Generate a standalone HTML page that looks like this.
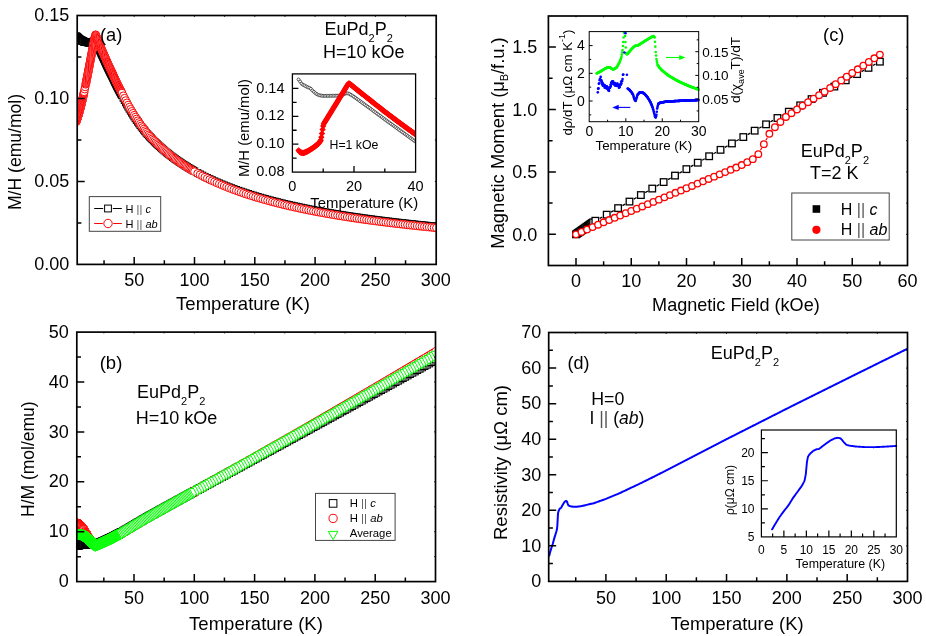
<!DOCTYPE html>
<html><head><meta charset="utf-8"><title>EuPd2P2</title>
<style>html,body{margin:0;padding:0;background:#fff}svg{display:block}text{font-family:"Liberation Sans",sans-serif}</style></head><body>
<svg width="926" height="636" viewBox="0 0 926 636">
<rect width="926" height="636" fill="#fff"/>
<g opacity="0.999">
<clipPath id="ca"><rect x="77.4" y="15.5" width="358.8" height="248.9"/></clipPath>
<g clip-path="url(#ca)">
<path d="M76.31 36.25L76.47 36.39L76.63 36.53L76.78 36.68L76.94 36.82L77.1 36.97L77.25 37.11L77.41 37.25L77.57 37.4L77.72 37.54L77.88 37.68L78.04 37.83L78.19 37.97L78.35 38.12L78.51 38.26L78.66 38.4L78.82 38.55L78.98 38.69L79.13 38.83L79.29 38.98L79.45 39.12L79.6 39.27L79.76 39.41L79.92 39.55L80.07 39.64L80.23 39.72L80.39 39.8L80.55 39.88L80.7 39.96L80.86 40.04L81.02 40.12L81.17 40.21L81.33 40.29L81.49 40.37L81.64 40.45L81.8 40.53L81.96 40.61L82.11 40.69L82.27 40.77L82.43 40.85L82.58 40.93L82.74 41.01L82.9 41.1L83.05 41.18L83.21 41.26L83.37 41.34L83.52 41.42L83.68 41.5L83.84 41.58L83.99 41.66L84.15 41.74L84.69 42.02L85.18 42.1L85.72 42.15L85.9 42.17L86.08 42.19L86.26 42.21L86.44 42.23L86.62 42.25L86.8 42.27L86.99 42.28L87.17 42.3L87.35 42.32L87.53 42.34L87.71 42.36L87.89 42.38L88.07 42.4L88.25 42.41L88.43 42.43L88.61 42.45L88.79 42.47L88.98 42.49L89.16 42.51L89.34 42.53L89.52 42.55L89.7 42.52L89.88 42.48L90.06 42.44L90.24 42.4L90.42 42.36L90.6 42.32L90.78 42.28L90.96 42.23L91.15 42.19L91.33 42.15L91.51 42.11L91.69 42.07L91.87 42.03L92.05 41.98L92.23 41.94L92.41 41.9L92.59 41.86L92.77 41.82L92.95 41.78L93.14 41.74L93.32 41.65L93.5 41.54L93.68 41.42L93.86 41.31L94.04 41.2L94.22 41.09L94.4 40.98L94.58 40.86L94.76 40.75L94.94 40.64L95.13 40.53L95.31 40.42L95.49 40.3L95.67 40.32L95.97 41.05L96.31 41.87L96.65 42.69L96.98 43.49L97.32 44.29L97.66 45.09L98 45.88L98.33 46.66L98.67 47.44L99.01 48.22L99.35 48.98L99.68 49.75L100.02 50.5L100.36 51.26L100.7 52L101.04 52.74L101.37 53.48L101.71 54.21L102.05 54.94L102.39 55.66L102.72 56.37L103.06 57.08L103.4 57.79L103.74 58.49L104.07 59.2L104.41 59.96L104.75 60.72L105.09 61.47L105.42 62.21L105.76 62.95L106.1 63.69L106.44 64.42L106.78 65.14L107.11 65.86L107.45 66.58L107.79 67.29L108.13 67.99L108.46 68.69L108.8 69.39L109.14 70.08L109.48 70.76L109.81 71.44L110.15 72.11L110.49 72.79L110.83 73.45L111.17 74.11L111.5 74.77L111.84 75.42L112.18 76.07L112.52 76.72L112.85 77.45L113.19 78.18L113.53 78.9L113.87 79.62L114.2 80.33L114.54 81.04L114.88 81.74L115.22 82.43L115.56 83.12L115.89 83.81L116.23 84.49L116.57 85.16L116.91 85.83L117.24 86.5L117.58 87.16L117.92 87.81L118.26 88.46L118.59 89.11L118.93 89.75L119.27 90.39L119.61 91.02L119.95 91.64L120.28 92.27L120.62 92.89L120.96 93.5L121.3 94.11L121.63 94.71L121.97 95.31L123.35 97.98L124.55 100.27L125.76 102.51L126.96 104.68L128.17 106.8L129.38 108.87L130.58 110.88L131.79 112.84L132.99 114.75L134.2 116.61L135.41 118.41L136.61 120.17L137.82 121.89L139.02 123.57L140.23 125.21L141.44 126.81L142.64 128.38L143.85 129.91L145.05 131.41L146.26 132.87L147.47 134.22L148.67 135.54L149.88 136.83L151.08 138.09L152.29 139.34L153.5 140.56L154.7 141.75L155.91 142.92L157.11 144.07L158.32 145.2L159.53 146.31L160.73 147.4L161.94 148.46L163.14 149.51L164.35 150.54L165.56 151.55L166.76 152.55L167.97 153.52L169.17 154.48L170.38 155.43L171.59 156.34L172.79 157.24L174 158.12L175.2 158.99L176.41 159.85L177.62 160.69L178.82 161.52L180.03 162.33L181.23 163.14L182.44 163.93L183.65 164.71L184.85 165.47L186.06 166.23L187.26 166.97L188.47 167.7L189.68 168.42L190.88 169.13L192.09 169.84L193.29 170.53L194.5 171.21L197.64 172.91L200.05 174.18L202.46 175.42L204.87 176.62L207.28 177.79L209.7 178.93L212.11 180.04L214.52 181.12L216.93 182.18L219.34 183.2L221.76 184.21L224.17 185.19L226.58 186.14L228.99 187.08L231.4 187.99L233.82 188.88L236.23 189.75L238.64 190.6L241.05 191.43L243.46 192.25L245.88 193.04L248.29 193.82L250.7 194.58L253.11 195.33L255.52 196.06L257.94 196.78L260.35 197.48L262.76 198.16L265.17 198.84L267.58 199.49L270 200.14L272.41 200.77L274.82 201.4L277.23 202.01L279.64 202.6L282.06 203.19L284.47 203.77L286.88 204.33L289.29 204.89L291.7 205.43L294.12 205.97L296.53 206.49L298.94 207.01L301.35 207.52L303.76 208.02L306.18 208.51L308.59 208.99L311 209.46L313.41 209.93L315.82 210.39L318.24 210.84L320.65 211.28L323.06 211.72L325.47 212.15L327.88 212.57L330.3 212.98L332.71 213.39L335.12 213.8L337.53 214.19L339.94 214.58L342.36 214.97L344.77 215.35L347.18 215.72L349.59 216.09L352 216.45L354.42 216.81L356.83 217.16L359.24 217.5L361.65 217.85L364.06 218.18L366.48 218.51L368.89 218.84L371.3 219.16L373.71 219.48L376.12 219.8L378.54 220.11L380.95 220.41L383.36 220.71L385.77 221.01L388.18 221.3L390.6 221.59L393.01 221.88L395.42 222.16L397.83 222.44L400.24 222.71L402.66 222.99L405.07 223.25L407.48 223.52L409.89 223.78L412.3 224.04L414.72 224.29L417.13 224.54L419.54 224.79L421.95 225.04L424.36 225.28L426.78 225.52L429.19 225.76L431.6 225.99L434.01 226.22L436.42 226.45" fill="none" stroke="#000" stroke-width="1.2" />
<g fill="#fff" stroke="#000" stroke-width="1.0">
<rect x="73.06" y="33" width="6.5" height="6.5"/><rect x="73.22" y="33.14" width="6.5" height="6.5"/><rect x="73.38" y="33.28" width="6.5" height="6.5"/><rect x="73.53" y="33.43" width="6.5" height="6.5"/><rect x="73.69" y="33.57" width="6.5" height="6.5"/><rect x="73.85" y="33.72" width="6.5" height="6.5"/><rect x="74" y="33.86" width="6.5" height="6.5"/><rect x="74.16" y="34" width="6.5" height="6.5"/><rect x="74.32" y="34.15" width="6.5" height="6.5"/><rect x="74.47" y="34.29" width="6.5" height="6.5"/><rect x="74.63" y="34.43" width="6.5" height="6.5"/><rect x="74.79" y="34.58" width="6.5" height="6.5"/><rect x="74.94" y="34.72" width="6.5" height="6.5"/><rect x="75.1" y="34.87" width="6.5" height="6.5"/><rect x="75.26" y="35.01" width="6.5" height="6.5"/><rect x="75.41" y="35.15" width="6.5" height="6.5"/><rect x="75.57" y="35.3" width="6.5" height="6.5"/><rect x="75.73" y="35.44" width="6.5" height="6.5"/><rect x="75.88" y="35.58" width="6.5" height="6.5"/><rect x="76.04" y="35.73" width="6.5" height="6.5"/><rect x="76.2" y="35.87" width="6.5" height="6.5"/><rect x="76.35" y="36.02" width="6.5" height="6.5"/><rect x="76.51" y="36.16" width="6.5" height="6.5"/><rect x="76.67" y="36.3" width="6.5" height="6.5"/><rect x="76.82" y="36.39" width="6.5" height="6.5"/><rect x="76.98" y="36.47" width="6.5" height="6.5"/><rect x="77.14" y="36.55" width="6.5" height="6.5"/><rect x="77.3" y="36.63" width="6.5" height="6.5"/><rect x="77.45" y="36.71" width="6.5" height="6.5"/><rect x="77.61" y="36.79" width="6.5" height="6.5"/><rect x="77.77" y="36.87" width="6.5" height="6.5"/><rect x="77.92" y="36.96" width="6.5" height="6.5"/><rect x="78.08" y="37.04" width="6.5" height="6.5"/><rect x="78.24" y="37.12" width="6.5" height="6.5"/><rect x="78.39" y="37.2" width="6.5" height="6.5"/><rect x="78.55" y="37.28" width="6.5" height="6.5"/><rect x="78.71" y="37.36" width="6.5" height="6.5"/><rect x="78.86" y="37.44" width="6.5" height="6.5"/><rect x="79.02" y="37.52" width="6.5" height="6.5"/><rect x="79.18" y="37.6" width="6.5" height="6.5"/><rect x="79.33" y="37.68" width="6.5" height="6.5"/><rect x="79.49" y="37.76" width="6.5" height="6.5"/><rect x="79.65" y="37.85" width="6.5" height="6.5"/><rect x="79.8" y="37.93" width="6.5" height="6.5"/><rect x="79.96" y="38.01" width="6.5" height="6.5"/><rect x="80.12" y="38.09" width="6.5" height="6.5"/><rect x="80.27" y="38.17" width="6.5" height="6.5"/><rect x="80.43" y="38.25" width="6.5" height="6.5"/><rect x="80.59" y="38.33" width="6.5" height="6.5"/><rect x="80.74" y="38.41" width="6.5" height="6.5"/><rect x="80.9" y="38.49" width="6.5" height="6.5"/><rect x="81.44" y="38.77" width="6.5" height="6.5"/><rect x="81.93" y="38.85" width="6.5" height="6.5"/><rect x="82.47" y="38.9" width="6.5" height="6.5"/><rect x="82.65" y="38.92" width="6.5" height="6.5"/><rect x="82.83" y="38.94" width="6.5" height="6.5"/><rect x="83.01" y="38.96" width="6.5" height="6.5"/><rect x="83.19" y="38.98" width="6.5" height="6.5"/><rect x="83.37" y="39" width="6.5" height="6.5"/><rect x="83.55" y="39.02" width="6.5" height="6.5"/><rect x="83.74" y="39.03" width="6.5" height="6.5"/><rect x="83.92" y="39.05" width="6.5" height="6.5"/><rect x="84.1" y="39.07" width="6.5" height="6.5"/><rect x="84.28" y="39.09" width="6.5" height="6.5"/><rect x="84.46" y="39.11" width="6.5" height="6.5"/><rect x="84.64" y="39.13" width="6.5" height="6.5"/><rect x="84.82" y="39.15" width="6.5" height="6.5"/><rect x="85" y="39.16" width="6.5" height="6.5"/><rect x="85.18" y="39.18" width="6.5" height="6.5"/><rect x="85.36" y="39.2" width="6.5" height="6.5"/><rect x="85.54" y="39.22" width="6.5" height="6.5"/><rect x="85.73" y="39.24" width="6.5" height="6.5"/><rect x="85.91" y="39.26" width="6.5" height="6.5"/><rect x="86.09" y="39.28" width="6.5" height="6.5"/><rect x="86.27" y="39.3" width="6.5" height="6.5"/><rect x="86.45" y="39.27" width="6.5" height="6.5"/><rect x="86.63" y="39.23" width="6.5" height="6.5"/><rect x="86.81" y="39.19" width="6.5" height="6.5"/><rect x="86.99" y="39.15" width="6.5" height="6.5"/><rect x="87.17" y="39.11" width="6.5" height="6.5"/><rect x="87.35" y="39.07" width="6.5" height="6.5"/><rect x="87.53" y="39.03" width="6.5" height="6.5"/><rect x="87.71" y="38.98" width="6.5" height="6.5"/><rect x="87.9" y="38.94" width="6.5" height="6.5"/><rect x="88.08" y="38.9" width="6.5" height="6.5"/><rect x="88.26" y="38.86" width="6.5" height="6.5"/><rect x="88.44" y="38.82" width="6.5" height="6.5"/><rect x="88.62" y="38.78" width="6.5" height="6.5"/><rect x="88.8" y="38.73" width="6.5" height="6.5"/><rect x="88.98" y="38.69" width="6.5" height="6.5"/><rect x="89.16" y="38.65" width="6.5" height="6.5"/><rect x="89.34" y="38.61" width="6.5" height="6.5"/><rect x="89.52" y="38.57" width="6.5" height="6.5"/><rect x="89.7" y="38.53" width="6.5" height="6.5"/><rect x="89.89" y="38.49" width="6.5" height="6.5"/><rect x="90.07" y="38.4" width="6.5" height="6.5"/><rect x="90.25" y="38.29" width="6.5" height="6.5"/><rect x="90.43" y="38.17" width="6.5" height="6.5"/><rect x="90.61" y="38.06" width="6.5" height="6.5"/><rect x="90.79" y="37.95" width="6.5" height="6.5"/><rect x="90.97" y="37.84" width="6.5" height="6.5"/><rect x="91.15" y="37.73" width="6.5" height="6.5"/><rect x="91.33" y="37.61" width="6.5" height="6.5"/><rect x="91.51" y="37.5" width="6.5" height="6.5"/><rect x="91.69" y="37.39" width="6.5" height="6.5"/><rect x="91.88" y="37.28" width="6.5" height="6.5"/><rect x="92.06" y="37.17" width="6.5" height="6.5"/><rect x="92.24" y="37.05" width="6.5" height="6.5"/><rect x="92.42" y="37.07" width="6.5" height="6.5"/><rect x="92.72" y="37.8" width="6.5" height="6.5"/><rect x="93.06" y="38.62" width="6.5" height="6.5"/><rect x="93.4" y="39.44" width="6.5" height="6.5"/><rect x="93.73" y="40.24" width="6.5" height="6.5"/><rect x="94.07" y="41.04" width="6.5" height="6.5"/><rect x="94.41" y="41.84" width="6.5" height="6.5"/><rect x="94.75" y="42.63" width="6.5" height="6.5"/><rect x="95.08" y="43.41" width="6.5" height="6.5"/><rect x="95.42" y="44.19" width="6.5" height="6.5"/><rect x="95.76" y="44.97" width="6.5" height="6.5"/><rect x="96.1" y="45.73" width="6.5" height="6.5"/><rect x="96.43" y="46.5" width="6.5" height="6.5"/><rect x="96.77" y="47.25" width="6.5" height="6.5"/><rect x="97.11" y="48.01" width="6.5" height="6.5"/><rect x="97.45" y="48.75" width="6.5" height="6.5"/><rect x="97.79" y="49.49" width="6.5" height="6.5"/><rect x="98.12" y="50.23" width="6.5" height="6.5"/><rect x="98.46" y="50.96" width="6.5" height="6.5"/><rect x="98.8" y="51.69" width="6.5" height="6.5"/><rect x="99.14" y="52.41" width="6.5" height="6.5"/><rect x="99.47" y="53.12" width="6.5" height="6.5"/><rect x="99.81" y="53.83" width="6.5" height="6.5"/><rect x="100.15" y="54.54" width="6.5" height="6.5"/><rect x="100.49" y="55.24" width="6.5" height="6.5"/><rect x="100.82" y="55.95" width="6.5" height="6.5"/><rect x="101.16" y="56.71" width="6.5" height="6.5"/><rect x="101.5" y="57.47" width="6.5" height="6.5"/><rect x="101.84" y="58.22" width="6.5" height="6.5"/><rect x="102.17" y="58.96" width="6.5" height="6.5"/><rect x="102.51" y="59.7" width="6.5" height="6.5"/><rect x="102.85" y="60.44" width="6.5" height="6.5"/><rect x="103.19" y="61.17" width="6.5" height="6.5"/><rect x="103.53" y="61.89" width="6.5" height="6.5"/><rect x="103.86" y="62.61" width="6.5" height="6.5"/><rect x="104.2" y="63.33" width="6.5" height="6.5"/><rect x="104.54" y="64.04" width="6.5" height="6.5"/><rect x="104.88" y="64.74" width="6.5" height="6.5"/><rect x="105.21" y="65.44" width="6.5" height="6.5"/><rect x="105.55" y="66.14" width="6.5" height="6.5"/><rect x="105.89" y="66.83" width="6.5" height="6.5"/><rect x="106.23" y="67.51" width="6.5" height="6.5"/><rect x="106.56" y="68.19" width="6.5" height="6.5"/><rect x="106.9" y="68.86" width="6.5" height="6.5"/><rect x="107.24" y="69.54" width="6.5" height="6.5"/><rect x="107.58" y="70.2" width="6.5" height="6.5"/><rect x="107.92" y="70.86" width="6.5" height="6.5"/><rect x="108.25" y="71.52" width="6.5" height="6.5"/><rect x="108.59" y="72.17" width="6.5" height="6.5"/><rect x="108.93" y="72.82" width="6.5" height="6.5"/><rect x="109.27" y="73.47" width="6.5" height="6.5"/><rect x="109.6" y="74.2" width="6.5" height="6.5"/><rect x="109.94" y="74.93" width="6.5" height="6.5"/><rect x="110.28" y="75.65" width="6.5" height="6.5"/><rect x="110.62" y="76.37" width="6.5" height="6.5"/><rect x="110.95" y="77.08" width="6.5" height="6.5"/><rect x="111.29" y="77.79" width="6.5" height="6.5"/><rect x="111.63" y="78.49" width="6.5" height="6.5"/><rect x="111.97" y="79.18" width="6.5" height="6.5"/><rect x="112.31" y="79.87" width="6.5" height="6.5"/><rect x="112.64" y="80.56" width="6.5" height="6.5"/><rect x="112.98" y="81.24" width="6.5" height="6.5"/><rect x="113.32" y="81.91" width="6.5" height="6.5"/><rect x="113.66" y="82.58" width="6.5" height="6.5"/><rect x="113.99" y="83.25" width="6.5" height="6.5"/><rect x="114.33" y="83.91" width="6.5" height="6.5"/><rect x="114.67" y="84.56" width="6.5" height="6.5"/><rect x="115.01" y="85.21" width="6.5" height="6.5"/><rect x="115.34" y="85.86" width="6.5" height="6.5"/><rect x="115.68" y="86.5" width="6.5" height="6.5"/><rect x="116.02" y="87.14" width="6.5" height="6.5"/><rect x="116.36" y="87.77" width="6.5" height="6.5"/><rect x="116.7" y="88.39" width="6.5" height="6.5"/><rect x="117.03" y="89.02" width="6.5" height="6.5"/><rect x="117.37" y="89.64" width="6.5" height="6.5"/><rect x="117.71" y="90.25" width="6.5" height="6.5"/><rect x="118.05" y="90.86" width="6.5" height="6.5"/><rect x="118.38" y="91.46" width="6.5" height="6.5"/><rect x="118.72" y="92.06" width="6.5" height="6.5"/><rect x="120.1" y="94.73" width="6.5" height="6.5"/><rect x="121.3" y="97.02" width="6.5" height="6.5"/><rect x="122.51" y="99.26" width="6.5" height="6.5"/><rect x="123.71" y="101.43" width="6.5" height="6.5"/><rect x="124.92" y="103.55" width="6.5" height="6.5"/><rect x="126.13" y="105.62" width="6.5" height="6.5"/><rect x="127.33" y="107.63" width="6.5" height="6.5"/><rect x="128.54" y="109.59" width="6.5" height="6.5"/><rect x="129.74" y="111.5" width="6.5" height="6.5"/><rect x="130.95" y="113.36" width="6.5" height="6.5"/><rect x="132.16" y="115.16" width="6.5" height="6.5"/><rect x="133.36" y="116.92" width="6.5" height="6.5"/><rect x="134.57" y="118.64" width="6.5" height="6.5"/><rect x="135.77" y="120.32" width="6.5" height="6.5"/><rect x="136.98" y="121.96" width="6.5" height="6.5"/><rect x="138.19" y="123.56" width="6.5" height="6.5"/><rect x="139.39" y="125.13" width="6.5" height="6.5"/><rect x="140.6" y="126.66" width="6.5" height="6.5"/><rect x="141.8" y="128.16" width="6.5" height="6.5"/><rect x="143.01" y="129.62" width="6.5" height="6.5"/><rect x="144.22" y="130.97" width="6.5" height="6.5"/><rect x="145.42" y="132.29" width="6.5" height="6.5"/><rect x="146.63" y="133.58" width="6.5" height="6.5"/><rect x="147.83" y="134.84" width="6.5" height="6.5"/><rect x="149.04" y="136.09" width="6.5" height="6.5"/><rect x="150.25" y="137.31" width="6.5" height="6.5"/><rect x="151.45" y="138.5" width="6.5" height="6.5"/><rect x="152.66" y="139.67" width="6.5" height="6.5"/><rect x="153.86" y="140.82" width="6.5" height="6.5"/><rect x="155.07" y="141.95" width="6.5" height="6.5"/><rect x="156.28" y="143.06" width="6.5" height="6.5"/><rect x="157.48" y="144.15" width="6.5" height="6.5"/><rect x="158.69" y="145.21" width="6.5" height="6.5"/><rect x="159.89" y="146.26" width="6.5" height="6.5"/><rect x="161.1" y="147.29" width="6.5" height="6.5"/><rect x="162.31" y="148.3" width="6.5" height="6.5"/><rect x="163.51" y="149.3" width="6.5" height="6.5"/><rect x="164.72" y="150.27" width="6.5" height="6.5"/><rect x="165.92" y="151.23" width="6.5" height="6.5"/><rect x="167.13" y="152.18" width="6.5" height="6.5"/><rect x="168.34" y="153.09" width="6.5" height="6.5"/><rect x="169.54" y="153.99" width="6.5" height="6.5"/><rect x="170.75" y="154.87" width="6.5" height="6.5"/><rect x="171.95" y="155.74" width="6.5" height="6.5"/><rect x="173.16" y="156.6" width="6.5" height="6.5"/><rect x="174.37" y="157.44" width="6.5" height="6.5"/><rect x="175.57" y="158.27" width="6.5" height="6.5"/><rect x="176.78" y="159.08" width="6.5" height="6.5"/><rect x="177.98" y="159.89" width="6.5" height="6.5"/><rect x="179.19" y="160.68" width="6.5" height="6.5"/><rect x="180.4" y="161.46" width="6.5" height="6.5"/><rect x="181.6" y="162.22" width="6.5" height="6.5"/><rect x="182.81" y="162.98" width="6.5" height="6.5"/><rect x="184.01" y="163.72" width="6.5" height="6.5"/><rect x="185.22" y="164.45" width="6.5" height="6.5"/><rect x="186.43" y="165.17" width="6.5" height="6.5"/><rect x="187.63" y="165.88" width="6.5" height="6.5"/><rect x="188.84" y="166.59" width="6.5" height="6.5"/><rect x="190.04" y="167.28" width="6.5" height="6.5"/><rect x="191.25" y="167.96" width="6.5" height="6.5"/><rect x="194.39" y="169.66" width="6.5" height="6.5"/><rect x="196.8" y="170.93" width="6.5" height="6.5"/><rect x="199.21" y="172.17" width="6.5" height="6.5"/><rect x="201.62" y="173.37" width="6.5" height="6.5"/><rect x="204.03" y="174.54" width="6.5" height="6.5"/><rect x="206.45" y="175.68" width="6.5" height="6.5"/><rect x="208.86" y="176.79" width="6.5" height="6.5"/><rect x="211.27" y="177.87" width="6.5" height="6.5"/><rect x="213.68" y="178.93" width="6.5" height="6.5"/><rect x="216.09" y="179.95" width="6.5" height="6.5"/><rect x="218.51" y="180.96" width="6.5" height="6.5"/><rect x="220.92" y="181.94" width="6.5" height="6.5"/><rect x="223.33" y="182.89" width="6.5" height="6.5"/><rect x="225.74" y="183.83" width="6.5" height="6.5"/><rect x="228.15" y="184.74" width="6.5" height="6.5"/><rect x="230.57" y="185.63" width="6.5" height="6.5"/><rect x="232.98" y="186.5" width="6.5" height="6.5"/><rect x="235.39" y="187.35" width="6.5" height="6.5"/><rect x="237.8" y="188.18" width="6.5" height="6.5"/><rect x="240.21" y="189" width="6.5" height="6.5"/><rect x="242.63" y="189.79" width="6.5" height="6.5"/><rect x="245.04" y="190.57" width="6.5" height="6.5"/><rect x="247.45" y="191.33" width="6.5" height="6.5"/><rect x="249.86" y="192.08" width="6.5" height="6.5"/><rect x="252.27" y="192.81" width="6.5" height="6.5"/><rect x="254.69" y="193.53" width="6.5" height="6.5"/><rect x="257.1" y="194.23" width="6.5" height="6.5"/><rect x="259.51" y="194.91" width="6.5" height="6.5"/><rect x="261.92" y="195.59" width="6.5" height="6.5"/><rect x="264.33" y="196.24" width="6.5" height="6.5"/><rect x="266.75" y="196.89" width="6.5" height="6.5"/><rect x="269.16" y="197.52" width="6.5" height="6.5"/><rect x="271.57" y="198.15" width="6.5" height="6.5"/><rect x="273.98" y="198.76" width="6.5" height="6.5"/><rect x="276.39" y="199.35" width="6.5" height="6.5"/><rect x="278.81" y="199.94" width="6.5" height="6.5"/><rect x="281.22" y="200.52" width="6.5" height="6.5"/><rect x="283.63" y="201.08" width="6.5" height="6.5"/><rect x="286.04" y="201.64" width="6.5" height="6.5"/><rect x="288.45" y="202.18" width="6.5" height="6.5"/><rect x="290.87" y="202.72" width="6.5" height="6.5"/><rect x="293.28" y="203.24" width="6.5" height="6.5"/><rect x="295.69" y="203.76" width="6.5" height="6.5"/><rect x="298.1" y="204.27" width="6.5" height="6.5"/><rect x="300.51" y="204.77" width="6.5" height="6.5"/><rect x="302.93" y="205.26" width="6.5" height="6.5"/><rect x="305.34" y="205.74" width="6.5" height="6.5"/><rect x="307.75" y="206.21" width="6.5" height="6.5"/><rect x="310.16" y="206.68" width="6.5" height="6.5"/><rect x="312.57" y="207.14" width="6.5" height="6.5"/><rect x="314.99" y="207.59" width="6.5" height="6.5"/><rect x="317.4" y="208.03" width="6.5" height="6.5"/><rect x="319.81" y="208.47" width="6.5" height="6.5"/><rect x="322.22" y="208.9" width="6.5" height="6.5"/><rect x="324.63" y="209.32" width="6.5" height="6.5"/><rect x="327.05" y="209.73" width="6.5" height="6.5"/><rect x="329.46" y="210.14" width="6.5" height="6.5"/><rect x="331.87" y="210.55" width="6.5" height="6.5"/><rect x="334.28" y="210.94" width="6.5" height="6.5"/><rect x="336.69" y="211.33" width="6.5" height="6.5"/><rect x="339.11" y="211.72" width="6.5" height="6.5"/><rect x="341.52" y="212.1" width="6.5" height="6.5"/><rect x="343.93" y="212.47" width="6.5" height="6.5"/><rect x="346.34" y="212.84" width="6.5" height="6.5"/><rect x="348.75" y="213.2" width="6.5" height="6.5"/><rect x="351.17" y="213.56" width="6.5" height="6.5"/><rect x="353.58" y="213.91" width="6.5" height="6.5"/><rect x="355.99" y="214.25" width="6.5" height="6.5"/><rect x="358.4" y="214.6" width="6.5" height="6.5"/><rect x="360.81" y="214.93" width="6.5" height="6.5"/><rect x="363.23" y="215.26" width="6.5" height="6.5"/><rect x="365.64" y="215.59" width="6.5" height="6.5"/><rect x="368.05" y="215.91" width="6.5" height="6.5"/><rect x="370.46" y="216.23" width="6.5" height="6.5"/><rect x="372.87" y="216.55" width="6.5" height="6.5"/><rect x="375.29" y="216.86" width="6.5" height="6.5"/><rect x="377.7" y="217.16" width="6.5" height="6.5"/><rect x="380.11" y="217.46" width="6.5" height="6.5"/><rect x="382.52" y="217.76" width="6.5" height="6.5"/><rect x="384.93" y="218.05" width="6.5" height="6.5"/><rect x="387.35" y="218.34" width="6.5" height="6.5"/><rect x="389.76" y="218.63" width="6.5" height="6.5"/><rect x="392.17" y="218.91" width="6.5" height="6.5"/><rect x="394.58" y="219.19" width="6.5" height="6.5"/><rect x="396.99" y="219.46" width="6.5" height="6.5"/><rect x="399.41" y="219.74" width="6.5" height="6.5"/><rect x="401.82" y="220" width="6.5" height="6.5"/><rect x="404.23" y="220.27" width="6.5" height="6.5"/><rect x="406.64" y="220.53" width="6.5" height="6.5"/><rect x="409.05" y="220.79" width="6.5" height="6.5"/><rect x="411.47" y="221.04" width="6.5" height="6.5"/><rect x="413.88" y="221.29" width="6.5" height="6.5"/><rect x="416.29" y="221.54" width="6.5" height="6.5"/><rect x="418.7" y="221.79" width="6.5" height="6.5"/><rect x="421.11" y="222.03" width="6.5" height="6.5"/><rect x="423.53" y="222.27" width="6.5" height="6.5"/><rect x="425.94" y="222.51" width="6.5" height="6.5"/><rect x="428.35" y="222.74" width="6.5" height="6.5"/><rect x="430.76" y="222.97" width="6.5" height="6.5"/><rect x="433.17" y="223.2" width="6.5" height="6.5"/>
</g>
<path d="M76.31 121.7L76.47 121.21L76.63 120.73L76.78 120.24L76.94 119.76L77.1 119.27L77.25 118.79L77.41 118.3L77.57 117.82L77.72 117.33L77.88 116.85L78.04 116.36L78.19 115.88L78.35 115.39L78.51 114.91L78.66 114.42L78.82 113.87L78.98 113.28L79.13 112.68L79.29 112.09L79.45 111.5L79.6 110.9L79.76 110.31L79.92 109.72L80.07 109.12L80.23 108.53L80.39 107.94L80.55 107.34L80.7 106.75L80.86 106.16L81.02 105.56L81.17 104.95L81.33 104.28L81.49 103.62L81.64 102.95L81.8 102.28L81.96 101.61L82.11 100.94L82.27 100.27L82.43 99.6L82.58 98.93L82.74 98.27L82.9 97.6L83.05 96.93L83.21 96.26L83.37 95.59L83.52 94.92L83.68 94.16L83.84 93.39L83.99 92.61L84.15 91.83L84.69 89.14L85.18 86.87L85.72 84.33L85.9 83.49L86.08 82.6L86.26 81.69L86.44 80.78L86.62 79.87L86.8 78.96L86.99 78.06L87.17 77.15L87.35 76.24L87.53 75.33L87.71 74.42L87.89 73.51L88.07 72.61L88.25 71.7L88.43 70.77L88.61 69.81L88.79 68.86L88.98 67.9L89.16 66.94L89.34 65.98L89.52 65.02L89.7 64.06L89.88 63.11L90.06 62.15L90.24 61.19L90.42 60.23L90.6 59.27L90.78 58.31L90.96 57.37L91.15 56.42L91.33 55.48L91.51 54.53L91.69 53.59L91.87 52.64L92.05 51.69L92.23 50.75L92.41 49.8L92.59 48.86L92.77 47.91L92.95 46.97L93.14 46.02L93.32 45.09L93.5 44.17L93.68 43.25L93.86 42.33L94.04 41.41L94.22 40.49L94.4 39.56L94.58 38.82L94.76 38.07L94.94 37.32L95.13 36.58L95.31 35.83L95.49 35.08L95.67 34.74L95.97 35.53L96.31 36.4L96.65 37.27L96.98 38.14L97.32 38.99L97.66 39.85L98 40.69L98.33 41.53L98.67 42.36L99.01 43.19L99.35 44.01L99.68 44.82L100.02 45.63L100.36 46.43L100.7 47.23L101.04 48.02L101.37 48.81L101.71 49.59L102.05 50.36L102.39 51.13L102.72 51.89L103.06 52.65L103.4 53.4L103.74 54.15L104.07 54.9L104.41 55.71L104.75 56.52L105.09 57.31L105.42 58.11L105.76 58.89L106.1 59.67L106.44 60.45L106.78 61.22L107.11 61.98L107.45 62.74L107.79 63.49L108.13 64.24L108.46 64.98L108.8 65.72L109.14 66.45L109.48 67.17L109.81 67.89L110.15 68.61L110.49 69.32L110.83 70.02L111.17 70.72L111.5 71.42L111.84 72.11L112.18 72.79L112.52 73.48L112.85 74.25L113.19 75.02L113.53 75.78L113.87 76.54L114.2 77.29L114.54 78.03L114.88 78.77L115.22 79.5L115.56 80.23L115.89 80.95L116.23 81.66L116.57 82.37L116.91 83.08L117.24 83.78L117.58 84.47L117.92 85.16L118.26 85.84L118.59 86.52L118.93 87.2L119.27 87.86L119.61 88.53L119.95 89.18L120.28 89.84L120.62 90.49L120.96 91.13L121.3 91.77L121.63 92.41L121.97 93.04L123.35 95.82L124.55 98.22L125.76 100.56L126.96 102.83L128.17 105.04L129.38 107.19L130.58 109.28L131.79 111.32L132.99 113.31L134.2 115.25L135.41 117.13L136.61 118.96L137.82 120.74L139.02 122.49L140.23 124.19L141.44 125.85L142.64 127.47L143.85 129.06L145.05 130.61L146.26 132.13L147.47 133.52L148.67 134.89L149.88 136.23L151.08 137.54L152.29 138.82L153.5 140.08L154.7 141.32L155.91 142.53L157.11 143.72L158.32 144.89L159.53 146.03L160.73 147.15L161.94 148.25L163.14 149.34L164.35 150.4L165.56 151.44L166.76 152.47L167.97 153.47L169.17 154.46L170.38 155.44L171.59 156.38L172.79 157.3L174 158.21L175.2 159.11L176.41 159.99L177.62 160.85L178.82 161.71L180.03 162.54L181.23 163.37L182.44 164.18L183.65 164.98L184.85 165.77L186.06 166.54L187.26 167.31L188.47 168.06L189.68 168.8L190.88 169.53L192.09 170.25L193.29 170.96L194.5 171.65L197.64 173.4L200.05 174.7L202.46 175.97L204.87 177.2L207.28 178.4L209.7 179.57L212.11 180.7L214.52 181.81L216.93 182.89L219.34 183.94L221.76 184.97L224.17 185.97L226.58 186.95L228.99 187.9L231.4 188.83L233.82 189.74L236.23 190.63L238.64 191.5L241.05 192.34L243.46 193.17L245.88 193.99L248.29 194.78L250.7 195.55L253.11 196.31L255.52 197.06L257.94 197.79L260.35 198.5L262.76 199.2L265.17 199.88L267.58 200.55L270 201.21L272.41 201.85L274.82 202.49L277.23 203.11L279.64 203.71L282.06 204.31L284.47 204.9L286.88 205.47L289.29 206.03L291.7 206.59L294.12 207.13L296.53 207.66L298.94 208.19L301.35 208.7L303.76 209.21L306.18 209.71L308.59 210.19L311 210.67L313.41 211.15L315.82 211.61L318.24 212.07L320.65 212.52L323.06 212.96L325.47 213.39L327.88 213.82L330.3 214.24L332.71 214.66L335.12 215.06L337.53 215.46L339.94 215.86L342.36 216.25L344.77 216.63L347.18 217.01L349.59 217.38L352 217.75L354.42 218.11L356.83 218.46L359.24 218.81L361.65 219.16L364.06 219.5L366.48 219.83L368.89 220.16L371.3 220.49L373.71 220.81L376.12 221.13L378.54 221.44L380.95 221.75L383.36 222.05L385.77 222.36L388.18 222.65L390.6 222.94L393.01 223.23L395.42 223.52L397.83 223.8L400.24 224.07L402.66 224.35L405.07 224.62L407.48 224.88L409.89 225.15L412.3 225.41L414.72 225.66L417.13 225.92L419.54 226.17L421.95 226.42L424.36 226.66L426.78 226.9L429.19 227.14L431.6 227.38L434.01 227.61L436.42 227.84" fill="none" stroke="#f00" stroke-width="1.2" />
<g fill="#fff" stroke="#f00" stroke-width="1.0">
<circle cx="76.31" cy="121.7" r="3.85"/><circle cx="76.47" cy="121.21" r="3.85"/><circle cx="76.63" cy="120.73" r="3.85"/><circle cx="76.78" cy="120.24" r="3.85"/><circle cx="76.94" cy="119.76" r="3.85"/><circle cx="77.1" cy="119.27" r="3.85"/><circle cx="77.25" cy="118.79" r="3.85"/><circle cx="77.41" cy="118.3" r="3.85"/><circle cx="77.57" cy="117.82" r="3.85"/><circle cx="77.72" cy="117.33" r="3.85"/><circle cx="77.88" cy="116.85" r="3.85"/><circle cx="78.04" cy="116.36" r="3.85"/><circle cx="78.19" cy="115.88" r="3.85"/><circle cx="78.35" cy="115.39" r="3.85"/><circle cx="78.51" cy="114.91" r="3.85"/><circle cx="78.66" cy="114.42" r="3.85"/><circle cx="78.82" cy="113.87" r="3.85"/><circle cx="78.98" cy="113.28" r="3.85"/><circle cx="79.13" cy="112.68" r="3.85"/><circle cx="79.29" cy="112.09" r="3.85"/><circle cx="79.45" cy="111.5" r="3.85"/><circle cx="79.6" cy="110.9" r="3.85"/><circle cx="79.76" cy="110.31" r="3.85"/><circle cx="79.92" cy="109.72" r="3.85"/><circle cx="80.07" cy="109.12" r="3.85"/><circle cx="80.23" cy="108.53" r="3.85"/><circle cx="80.39" cy="107.94" r="3.85"/><circle cx="80.55" cy="107.34" r="3.85"/><circle cx="80.7" cy="106.75" r="3.85"/><circle cx="80.86" cy="106.16" r="3.85"/><circle cx="81.02" cy="105.56" r="3.85"/><circle cx="81.17" cy="104.95" r="3.85"/><circle cx="81.33" cy="104.28" r="3.85"/><circle cx="81.49" cy="103.62" r="3.85"/><circle cx="81.64" cy="102.95" r="3.85"/><circle cx="81.8" cy="102.28" r="3.85"/><circle cx="81.96" cy="101.61" r="3.85"/><circle cx="82.11" cy="100.94" r="3.85"/><circle cx="82.27" cy="100.27" r="3.85"/><circle cx="82.43" cy="99.6" r="3.85"/><circle cx="82.58" cy="98.93" r="3.85"/><circle cx="82.74" cy="98.27" r="3.85"/><circle cx="82.9" cy="97.6" r="3.85"/><circle cx="83.05" cy="96.93" r="3.85"/><circle cx="83.21" cy="96.26" r="3.85"/><circle cx="83.37" cy="95.59" r="3.85"/><circle cx="83.52" cy="94.92" r="3.85"/><circle cx="83.68" cy="94.16" r="3.85"/><circle cx="83.84" cy="93.39" r="3.85"/><circle cx="83.99" cy="92.61" r="3.85"/><circle cx="84.15" cy="91.83" r="3.85"/><circle cx="84.69" cy="89.14" r="3.85"/><circle cx="85.18" cy="86.87" r="3.85"/><circle cx="85.72" cy="84.33" r="3.85"/><circle cx="85.9" cy="83.49" r="3.85"/><circle cx="86.08" cy="82.6" r="3.85"/><circle cx="86.26" cy="81.69" r="3.85"/><circle cx="86.44" cy="80.78" r="3.85"/><circle cx="86.62" cy="79.87" r="3.85"/><circle cx="86.8" cy="78.96" r="3.85"/><circle cx="86.99" cy="78.06" r="3.85"/><circle cx="87.17" cy="77.15" r="3.85"/><circle cx="87.35" cy="76.24" r="3.85"/><circle cx="87.53" cy="75.33" r="3.85"/><circle cx="87.71" cy="74.42" r="3.85"/><circle cx="87.89" cy="73.51" r="3.85"/><circle cx="88.07" cy="72.61" r="3.85"/><circle cx="88.25" cy="71.7" r="3.85"/><circle cx="88.43" cy="70.77" r="3.85"/><circle cx="88.61" cy="69.81" r="3.85"/><circle cx="88.79" cy="68.86" r="3.85"/><circle cx="88.98" cy="67.9" r="3.85"/><circle cx="89.16" cy="66.94" r="3.85"/><circle cx="89.34" cy="65.98" r="3.85"/><circle cx="89.52" cy="65.02" r="3.85"/><circle cx="89.7" cy="64.06" r="3.85"/><circle cx="89.88" cy="63.11" r="3.85"/><circle cx="90.06" cy="62.15" r="3.85"/><circle cx="90.24" cy="61.19" r="3.85"/><circle cx="90.42" cy="60.23" r="3.85"/><circle cx="90.6" cy="59.27" r="3.85"/><circle cx="90.78" cy="58.31" r="3.85"/><circle cx="90.96" cy="57.37" r="3.85"/><circle cx="91.15" cy="56.42" r="3.85"/><circle cx="91.33" cy="55.48" r="3.85"/><circle cx="91.51" cy="54.53" r="3.85"/><circle cx="91.69" cy="53.59" r="3.85"/><circle cx="91.87" cy="52.64" r="3.85"/><circle cx="92.05" cy="51.69" r="3.85"/><circle cx="92.23" cy="50.75" r="3.85"/><circle cx="92.41" cy="49.8" r="3.85"/><circle cx="92.59" cy="48.86" r="3.85"/><circle cx="92.77" cy="47.91" r="3.85"/><circle cx="92.95" cy="46.97" r="3.85"/><circle cx="93.14" cy="46.02" r="3.85"/><circle cx="93.32" cy="45.09" r="3.85"/><circle cx="93.5" cy="44.17" r="3.85"/><circle cx="93.68" cy="43.25" r="3.85"/><circle cx="93.86" cy="42.33" r="3.85"/><circle cx="94.04" cy="41.41" r="3.85"/><circle cx="94.22" cy="40.49" r="3.85"/><circle cx="94.4" cy="39.56" r="3.85"/><circle cx="94.58" cy="38.82" r="3.85"/><circle cx="94.76" cy="38.07" r="3.85"/><circle cx="94.94" cy="37.32" r="3.85"/><circle cx="95.13" cy="36.58" r="3.85"/><circle cx="95.31" cy="35.83" r="3.85"/><circle cx="95.49" cy="35.08" r="3.85"/><circle cx="95.67" cy="34.74" r="3.85"/><circle cx="95.97" cy="35.53" r="3.85"/><circle cx="96.31" cy="36.4" r="3.85"/><circle cx="96.65" cy="37.27" r="3.85"/><circle cx="96.98" cy="38.14" r="3.85"/><circle cx="97.32" cy="38.99" r="3.85"/><circle cx="97.66" cy="39.85" r="3.85"/><circle cx="98" cy="40.69" r="3.85"/><circle cx="98.33" cy="41.53" r="3.85"/><circle cx="98.67" cy="42.36" r="3.85"/><circle cx="99.01" cy="43.19" r="3.85"/><circle cx="99.35" cy="44.01" r="3.85"/><circle cx="99.68" cy="44.82" r="3.85"/><circle cx="100.02" cy="45.63" r="3.85"/><circle cx="100.36" cy="46.43" r="3.85"/><circle cx="100.7" cy="47.23" r="3.85"/><circle cx="101.04" cy="48.02" r="3.85"/><circle cx="101.37" cy="48.81" r="3.85"/><circle cx="101.71" cy="49.59" r="3.85"/><circle cx="102.05" cy="50.36" r="3.85"/><circle cx="102.39" cy="51.13" r="3.85"/><circle cx="102.72" cy="51.89" r="3.85"/><circle cx="103.06" cy="52.65" r="3.85"/><circle cx="103.4" cy="53.4" r="3.85"/><circle cx="103.74" cy="54.15" r="3.85"/><circle cx="104.07" cy="54.9" r="3.85"/><circle cx="104.41" cy="55.71" r="3.85"/><circle cx="104.75" cy="56.52" r="3.85"/><circle cx="105.09" cy="57.31" r="3.85"/><circle cx="105.42" cy="58.11" r="3.85"/><circle cx="105.76" cy="58.89" r="3.85"/><circle cx="106.1" cy="59.67" r="3.85"/><circle cx="106.44" cy="60.45" r="3.85"/><circle cx="106.78" cy="61.22" r="3.85"/><circle cx="107.11" cy="61.98" r="3.85"/><circle cx="107.45" cy="62.74" r="3.85"/><circle cx="107.79" cy="63.49" r="3.85"/><circle cx="108.13" cy="64.24" r="3.85"/><circle cx="108.46" cy="64.98" r="3.85"/><circle cx="108.8" cy="65.72" r="3.85"/><circle cx="109.14" cy="66.45" r="3.85"/><circle cx="109.48" cy="67.17" r="3.85"/><circle cx="109.81" cy="67.89" r="3.85"/><circle cx="110.15" cy="68.61" r="3.85"/><circle cx="110.49" cy="69.32" r="3.85"/><circle cx="110.83" cy="70.02" r="3.85"/><circle cx="111.17" cy="70.72" r="3.85"/><circle cx="111.5" cy="71.42" r="3.85"/><circle cx="111.84" cy="72.11" r="3.85"/><circle cx="112.18" cy="72.79" r="3.85"/><circle cx="112.52" cy="73.48" r="3.85"/><circle cx="112.85" cy="74.25" r="3.85"/><circle cx="113.19" cy="75.02" r="3.85"/><circle cx="113.53" cy="75.78" r="3.85"/><circle cx="113.87" cy="76.54" r="3.85"/><circle cx="114.2" cy="77.29" r="3.85"/><circle cx="114.54" cy="78.03" r="3.85"/><circle cx="114.88" cy="78.77" r="3.85"/><circle cx="115.22" cy="79.5" r="3.85"/><circle cx="115.56" cy="80.23" r="3.85"/><circle cx="115.89" cy="80.95" r="3.85"/><circle cx="116.23" cy="81.66" r="3.85"/><circle cx="116.57" cy="82.37" r="3.85"/><circle cx="116.91" cy="83.08" r="3.85"/><circle cx="117.24" cy="83.78" r="3.85"/><circle cx="117.58" cy="84.47" r="3.85"/><circle cx="117.92" cy="85.16" r="3.85"/><circle cx="118.26" cy="85.84" r="3.85"/><circle cx="118.59" cy="86.52" r="3.85"/><circle cx="118.93" cy="87.2" r="3.85"/><circle cx="119.27" cy="87.86" r="3.85"/><circle cx="119.61" cy="88.53" r="3.85"/><circle cx="119.95" cy="89.18" r="3.85"/><circle cx="120.28" cy="89.84" r="3.85"/><circle cx="120.62" cy="90.49" r="3.85"/><circle cx="120.96" cy="91.13" r="3.85"/><circle cx="121.3" cy="91.77" r="3.85"/><circle cx="121.63" cy="92.41" r="3.85"/><circle cx="121.97" cy="93.04" r="3.85"/><circle cx="123.35" cy="95.82" r="3.85"/><circle cx="124.55" cy="98.22" r="3.85"/><circle cx="125.76" cy="100.56" r="3.85"/><circle cx="126.96" cy="102.83" r="3.85"/><circle cx="128.17" cy="105.04" r="3.85"/><circle cx="129.38" cy="107.19" r="3.85"/><circle cx="130.58" cy="109.28" r="3.85"/><circle cx="131.79" cy="111.32" r="3.85"/><circle cx="132.99" cy="113.31" r="3.85"/><circle cx="134.2" cy="115.25" r="3.85"/><circle cx="135.41" cy="117.13" r="3.85"/><circle cx="136.61" cy="118.96" r="3.85"/><circle cx="137.82" cy="120.74" r="3.85"/><circle cx="139.02" cy="122.49" r="3.85"/><circle cx="140.23" cy="124.19" r="3.85"/><circle cx="141.44" cy="125.85" r="3.85"/><circle cx="142.64" cy="127.47" r="3.85"/><circle cx="143.85" cy="129.06" r="3.85"/><circle cx="145.05" cy="130.61" r="3.85"/><circle cx="146.26" cy="132.13" r="3.85"/><circle cx="147.47" cy="133.52" r="3.85"/><circle cx="148.67" cy="134.89" r="3.85"/><circle cx="149.88" cy="136.23" r="3.85"/><circle cx="151.08" cy="137.54" r="3.85"/><circle cx="152.29" cy="138.82" r="3.85"/><circle cx="153.5" cy="140.08" r="3.85"/><circle cx="154.7" cy="141.32" r="3.85"/><circle cx="155.91" cy="142.53" r="3.85"/><circle cx="157.11" cy="143.72" r="3.85"/><circle cx="158.32" cy="144.89" r="3.85"/><circle cx="159.53" cy="146.03" r="3.85"/><circle cx="160.73" cy="147.15" r="3.85"/><circle cx="161.94" cy="148.25" r="3.85"/><circle cx="163.14" cy="149.34" r="3.85"/><circle cx="164.35" cy="150.4" r="3.85"/><circle cx="165.56" cy="151.44" r="3.85"/><circle cx="166.76" cy="152.47" r="3.85"/><circle cx="167.97" cy="153.47" r="3.85"/><circle cx="169.17" cy="154.46" r="3.85"/><circle cx="170.38" cy="155.44" r="3.85"/><circle cx="171.59" cy="156.38" r="3.85"/><circle cx="172.79" cy="157.3" r="3.85"/><circle cx="174" cy="158.21" r="3.85"/><circle cx="175.2" cy="159.11" r="3.85"/><circle cx="176.41" cy="159.99" r="3.85"/><circle cx="177.62" cy="160.85" r="3.85"/><circle cx="178.82" cy="161.71" r="3.85"/><circle cx="180.03" cy="162.54" r="3.85"/><circle cx="181.23" cy="163.37" r="3.85"/><circle cx="182.44" cy="164.18" r="3.85"/><circle cx="183.65" cy="164.98" r="3.85"/><circle cx="184.85" cy="165.77" r="3.85"/><circle cx="186.06" cy="166.54" r="3.85"/><circle cx="187.26" cy="167.31" r="3.85"/><circle cx="188.47" cy="168.06" r="3.85"/><circle cx="189.68" cy="168.8" r="3.85"/><circle cx="190.88" cy="169.53" r="3.85"/><circle cx="192.09" cy="170.25" r="3.85"/><circle cx="193.29" cy="170.96" r="3.85"/><circle cx="194.5" cy="171.65" r="3.85"/><circle cx="197.64" cy="173.4" r="3.85"/><circle cx="200.05" cy="174.7" r="3.85"/><circle cx="202.46" cy="175.97" r="3.85"/><circle cx="204.87" cy="177.2" r="3.85"/><circle cx="207.28" cy="178.4" r="3.85"/><circle cx="209.7" cy="179.57" r="3.85"/><circle cx="212.11" cy="180.7" r="3.85"/><circle cx="214.52" cy="181.81" r="3.85"/><circle cx="216.93" cy="182.89" r="3.85"/><circle cx="219.34" cy="183.94" r="3.85"/><circle cx="221.76" cy="184.97" r="3.85"/><circle cx="224.17" cy="185.97" r="3.85"/><circle cx="226.58" cy="186.95" r="3.85"/><circle cx="228.99" cy="187.9" r="3.85"/><circle cx="231.4" cy="188.83" r="3.85"/><circle cx="233.82" cy="189.74" r="3.85"/><circle cx="236.23" cy="190.63" r="3.85"/><circle cx="238.64" cy="191.5" r="3.85"/><circle cx="241.05" cy="192.34" r="3.85"/><circle cx="243.46" cy="193.17" r="3.85"/><circle cx="245.88" cy="193.99" r="3.85"/><circle cx="248.29" cy="194.78" r="3.85"/><circle cx="250.7" cy="195.55" r="3.85"/><circle cx="253.11" cy="196.31" r="3.85"/><circle cx="255.52" cy="197.06" r="3.85"/><circle cx="257.94" cy="197.79" r="3.85"/><circle cx="260.35" cy="198.5" r="3.85"/><circle cx="262.76" cy="199.2" r="3.85"/><circle cx="265.17" cy="199.88" r="3.85"/><circle cx="267.58" cy="200.55" r="3.85"/><circle cx="270" cy="201.21" r="3.85"/><circle cx="272.41" cy="201.85" r="3.85"/><circle cx="274.82" cy="202.49" r="3.85"/><circle cx="277.23" cy="203.11" r="3.85"/><circle cx="279.64" cy="203.71" r="3.85"/><circle cx="282.06" cy="204.31" r="3.85"/><circle cx="284.47" cy="204.9" r="3.85"/><circle cx="286.88" cy="205.47" r="3.85"/><circle cx="289.29" cy="206.03" r="3.85"/><circle cx="291.7" cy="206.59" r="3.85"/><circle cx="294.12" cy="207.13" r="3.85"/><circle cx="296.53" cy="207.66" r="3.85"/><circle cx="298.94" cy="208.19" r="3.85"/><circle cx="301.35" cy="208.7" r="3.85"/><circle cx="303.76" cy="209.21" r="3.85"/><circle cx="306.18" cy="209.71" r="3.85"/><circle cx="308.59" cy="210.19" r="3.85"/><circle cx="311" cy="210.67" r="3.85"/><circle cx="313.41" cy="211.15" r="3.85"/><circle cx="315.82" cy="211.61" r="3.85"/><circle cx="318.24" cy="212.07" r="3.85"/><circle cx="320.65" cy="212.52" r="3.85"/><circle cx="323.06" cy="212.96" r="3.85"/><circle cx="325.47" cy="213.39" r="3.85"/><circle cx="327.88" cy="213.82" r="3.85"/><circle cx="330.3" cy="214.24" r="3.85"/><circle cx="332.71" cy="214.66" r="3.85"/><circle cx="335.12" cy="215.06" r="3.85"/><circle cx="337.53" cy="215.46" r="3.85"/><circle cx="339.94" cy="215.86" r="3.85"/><circle cx="342.36" cy="216.25" r="3.85"/><circle cx="344.77" cy="216.63" r="3.85"/><circle cx="347.18" cy="217.01" r="3.85"/><circle cx="349.59" cy="217.38" r="3.85"/><circle cx="352" cy="217.75" r="3.85"/><circle cx="354.42" cy="218.11" r="3.85"/><circle cx="356.83" cy="218.46" r="3.85"/><circle cx="359.24" cy="218.81" r="3.85"/><circle cx="361.65" cy="219.16" r="3.85"/><circle cx="364.06" cy="219.5" r="3.85"/><circle cx="366.48" cy="219.83" r="3.85"/><circle cx="368.89" cy="220.16" r="3.85"/><circle cx="371.3" cy="220.49" r="3.85"/><circle cx="373.71" cy="220.81" r="3.85"/><circle cx="376.12" cy="221.13" r="3.85"/><circle cx="378.54" cy="221.44" r="3.85"/><circle cx="380.95" cy="221.75" r="3.85"/><circle cx="383.36" cy="222.05" r="3.85"/><circle cx="385.77" cy="222.36" r="3.85"/><circle cx="388.18" cy="222.65" r="3.85"/><circle cx="390.6" cy="222.94" r="3.85"/><circle cx="393.01" cy="223.23" r="3.85"/><circle cx="395.42" cy="223.52" r="3.85"/><circle cx="397.83" cy="223.8" r="3.85"/><circle cx="400.24" cy="224.07" r="3.85"/><circle cx="402.66" cy="224.35" r="3.85"/><circle cx="405.07" cy="224.62" r="3.85"/><circle cx="407.48" cy="224.88" r="3.85"/><circle cx="409.89" cy="225.15" r="3.85"/><circle cx="412.3" cy="225.41" r="3.85"/><circle cx="414.72" cy="225.66" r="3.85"/><circle cx="417.13" cy="225.92" r="3.85"/><circle cx="419.54" cy="226.17" r="3.85"/><circle cx="421.95" cy="226.42" r="3.85"/><circle cx="424.36" cy="226.66" r="3.85"/><circle cx="426.78" cy="226.9" r="3.85"/><circle cx="429.19" cy="227.14" r="3.85"/><circle cx="431.6" cy="227.38" r="3.85"/><circle cx="434.01" cy="227.61" r="3.85"/><circle cx="436.42" cy="227.84" r="3.85"/>
</g>
</g>
<rect x="77.2" y="15.5" width="359" height="248.9" fill="none" stroke="#000" stroke-width="1.7"/>
<path d="M104.05 15.5v1.3M134.2 15.5v1.3M164.35 15.5v1.3M194.5 15.5v1.3M224.65 15.5v1.3M254.8 15.5v1.3M284.95 15.5v1.3M315.1 15.5v1.3M345.25 15.5v1.3M375.4 15.5v1.3M405.55 15.5v1.3" stroke="#000" stroke-width="1.0" fill="none"/>
<path d="M436.2 222.92h-1.3M436.2 181.43h-1.3M436.2 139.95h-1.3M436.2 98.47h-1.3M436.2 56.99h-1.3" stroke="#000" stroke-width="1.0" fill="none"/>
<path d="M134.2 264.4v-7.5M194.5 264.4v-7.5M254.8 264.4v-7.5M315.1 264.4v-7.5M375.4 264.4v-7.5" stroke="#000" stroke-width="1.5" fill="none"/>
<path d="M104.05 264.4v-4.2M164.35 264.4v-4.2M224.65 264.4v-4.2M284.95 264.4v-4.2M345.25 264.4v-4.2M405.55 264.4v-4.2" stroke="#000" stroke-width="1.5" fill="none"/>
<path d="M77.2 181.43h7.5M77.2 98.47h7.5" stroke="#000" stroke-width="1.5" fill="none"/>
<path d="M77.2 222.92h4.2M77.2 139.95h4.2M77.2 56.99h4.2" stroke="#000" stroke-width="1.5" fill="none"/>
<text x="134.2" y="286.2" font-size="18" text-anchor="middle" fill="#000" >50</text>
<text x="194.5" y="286.2" font-size="18" text-anchor="middle" fill="#000" >100</text>
<text x="254.8" y="286.2" font-size="18" text-anchor="middle" fill="#000" >150</text>
<text x="315.1" y="286.2" font-size="18" text-anchor="middle" fill="#000" >200</text>
<text x="375.4" y="286.2" font-size="18" text-anchor="middle" fill="#000" >250</text>
<text x="435.7" y="286.2" font-size="18" text-anchor="middle" fill="#000" >300</text>
<text x="69.3" y="269.9" font-size="18" text-anchor="end" fill="#000" >0.00</text>
<text x="69.3" y="186.93" font-size="18" text-anchor="end" fill="#000" >0.05</text>
<text x="69.3" y="103.97" font-size="18" text-anchor="end" fill="#000" >0.10</text>
<text x="69.3" y="21" font-size="18" text-anchor="end" fill="#000" >0.15</text>
<text x="243" y="310.4" font-size="18.5" text-anchor="middle" fill="#000"  textLength="133.8" lengthAdjust="spacingAndGlyphs">Temperature (K)</text>
<text transform="translate(21 152) rotate(-90)" font-size="18.5" text-anchor="middle" fill="#000" textLength="116" lengthAdjust="spacingAndGlyphs">M/H (emu/mol)</text>
<text x="100" y="40.8" font-size="18.3" text-anchor="start" fill="#000" >(a)</text>
<text x="324.5" y="34.6" font-size="18" text-anchor="start" fill="#000" >EuPd<tspan font-size="11" dy="7.3">2</tspan><tspan dy="-7.3" font-size="1">&#8203;</tspan>P<tspan font-size="11" dy="7.3">2</tspan><tspan dy="-7.3" font-size="1">&#8203;</tspan></text>
<text x="323" y="58.4" font-size="18" text-anchor="start" fill="#000" >H=10 kOe</text>
<rect x="89.3" y="196.6" width="71.4" height="34.7" fill="#fff" stroke="#444" stroke-width="1"/>
<path d="M94.2 208.5H103.2M112.8 208.5H121.8" stroke="#000" stroke-width="1.2"/>
<rect x="104.6" y="205.1" width="6.8" height="6.8" fill="#fff" stroke="#000" stroke-width="1"/>
<path d="M94.2 223.5H102.8M113.2 223.5H121.8" stroke="#f00" stroke-width="1.2"/>
<circle cx="108" cy="223.5" r="4.2" fill="#fff" stroke="#f00" stroke-width="1"/>
<text x="125.6" y="212.5" font-size="11" text-anchor="start" fill="#000" >H <tspan fill="#555">||</tspan> <tspan font-style="italic">c</tspan></text>
<text x="125.6" y="227.5" font-size="11" text-anchor="start" fill="#000" >H <tspan fill="#555">||</tspan> <tspan font-style="italic">ab</tspan></text>
<rect x="292.4" y="73.9" width="123.2" height="98.2" fill="#fff"/>
<clipPath id="cai"><rect x="292.4" y="73.9" width="123.2" height="98.2"/></clipPath>
<g clip-path="url(#cai)">
<g fill="#fff" stroke="#222" stroke-width="0.7">
<circle cx="298.56" cy="79.47" r="1.5"/><circle cx="300.1" cy="81.56" r="1.5"/><circle cx="301.64" cy="83.66" r="1.5"/><circle cx="303.18" cy="84.91" r="1.5"/><circle cx="304.72" cy="85.61" r="1.5"/><circle cx="306.26" cy="86.45" r="1.5"/><circle cx="307.8" cy="87.28" r="1.5"/><circle cx="309.34" cy="87.81" r="1.5"/><circle cx="310.88" cy="88.8" r="1.5"/><circle cx="312.42" cy="90.49" r="1.5"/><circle cx="313.96" cy="91.89" r="1.5"/><circle cx="315.5" cy="93.28" r="1.5"/><circle cx="317.04" cy="94.19" r="1.5"/><circle cx="318.58" cy="95.1" r="1.5"/><circle cx="320.12" cy="95.38" r="1.5"/><circle cx="321.66" cy="95.65" r="1.5"/><circle cx="323.2" cy="95.93" r="1.5"/><circle cx="324.74" cy="95.91" r="1.5"/><circle cx="326.28" cy="95.88" r="1.5"/><circle cx="327.82" cy="95.85" r="1.5"/><circle cx="329.36" cy="95.82" r="1.5"/><circle cx="330.9" cy="95.79" r="1.5"/><circle cx="332.44" cy="95.77" r="1.5"/><circle cx="333.98" cy="95.74" r="1.5"/><circle cx="335.52" cy="95.71" r="1.5"/><circle cx="337.06" cy="95.68" r="1.5"/><circle cx="338.6" cy="95.65" r="1.5"/><circle cx="340.14" cy="95.28" r="1.5"/><circle cx="341.68" cy="94.91" r="1.5"/><circle cx="343.22" cy="94.54" r="1.5"/><circle cx="344.76" cy="93.9" r="1.5"/><circle cx="346.3" cy="93.27" r="1.5"/><circle cx="347.84" cy="93.42" r="1.5"/><circle cx="349.38" cy="93.89" r="1.5"/><circle cx="350.92" cy="94.85" r="1.5"/><circle cx="352.46" cy="95.81" r="1.5"/><circle cx="354" cy="96.77" r="1.5"/><circle cx="355.54" cy="97.89" r="1.5"/><circle cx="357.08" cy="99" r="1.5"/><circle cx="358.62" cy="100.12" r="1.5"/><circle cx="360.16" cy="101.23" r="1.5"/><circle cx="361.7" cy="102.35" r="1.5"/><circle cx="363.24" cy="103.47" r="1.5"/><circle cx="364.78" cy="104.58" r="1.5"/><circle cx="366.32" cy="105.7" r="1.5"/><circle cx="367.86" cy="106.81" r="1.5"/><circle cx="369.4" cy="107.93" r="1.5"/><circle cx="370.94" cy="109.07" r="1.5"/><circle cx="372.48" cy="110.22" r="1.5"/><circle cx="374.02" cy="111.36" r="1.5"/><circle cx="375.56" cy="112.51" r="1.5"/><circle cx="377.1" cy="113.65" r="1.5"/><circle cx="378.64" cy="114.79" r="1.5"/><circle cx="380.18" cy="115.94" r="1.5"/><circle cx="381.72" cy="117.08" r="1.5"/><circle cx="383.26" cy="118.23" r="1.5"/><circle cx="384.8" cy="119.37" r="1.5"/><circle cx="386.34" cy="120.48" r="1.5"/><circle cx="387.88" cy="121.6" r="1.5"/><circle cx="389.42" cy="122.72" r="1.5"/><circle cx="390.96" cy="123.83" r="1.5"/><circle cx="392.5" cy="124.95" r="1.5"/><circle cx="394.04" cy="126.06" r="1.5"/><circle cx="395.58" cy="127.18" r="1.5"/><circle cx="397.12" cy="128.3" r="1.5"/><circle cx="398.66" cy="129.41" r="1.5"/><circle cx="400.2" cy="130.53" r="1.5"/><circle cx="401.74" cy="131.64" r="1.5"/><circle cx="403.28" cy="132.76" r="1.5"/><circle cx="404.82" cy="133.88" r="1.5"/><circle cx="406.36" cy="134.99" r="1.5"/><circle cx="407.9" cy="136.11" r="1.5"/><circle cx="409.44" cy="137.22" r="1.5"/><circle cx="410.98" cy="138.34" r="1.5"/><circle cx="412.52" cy="139.46" r="1.5"/><circle cx="414.06" cy="140.57" r="1.5"/><circle cx="415.6" cy="141.69" r="1.5"/>
</g>
<g fill="#f00" stroke="none">
<path d="M298.56 147.14l3.2 3.2l-3.2 3.2l-3.2 -3.2z"/><path d="M299.18 147.92l3.2 3.2l-3.2 3.2l-3.2 -3.2z"/><path d="M299.79 148.7l3.2 3.2l-3.2 3.2l-3.2 -3.2z"/><path d="M300.41 149.17l3.2 3.2l-3.2 3.2l-3.2 -3.2z"/><path d="M301.02 149.34l3.2 3.2l-3.2 3.2l-3.2 -3.2z"/><path d="M301.64 149.51l3.2 3.2l-3.2 3.2l-3.2 -3.2z"/><path d="M302.26 149.68l3.2 3.2l-3.2 3.2l-3.2 -3.2z"/><path d="M302.87 149.84l3.2 3.2l-3.2 3.2l-3.2 -3.2z"/><path d="M303.49 149.8l3.2 3.2l-3.2 3.2l-3.2 -3.2z"/><path d="M304.1 149.54l3.2 3.2l-3.2 3.2l-3.2 -3.2z"/><path d="M304.72 149.28l3.2 3.2l-3.2 3.2l-3.2 -3.2z"/><path d="M305.34 149.02l3.2 3.2l-3.2 3.2l-3.2 -3.2z"/><path d="M305.95 148.76l3.2 3.2l-3.2 3.2l-3.2 -3.2z"/><path d="M306.57 148.5l3.2 3.2l-3.2 3.2l-3.2 -3.2z"/><path d="M307.18 148.24l3.2 3.2l-3.2 3.2l-3.2 -3.2z"/><path d="M307.8 147.97l3.2 3.2l-3.2 3.2l-3.2 -3.2z"/><path d="M308.42 147.58l3.2 3.2l-3.2 3.2l-3.2 -3.2z"/><path d="M309.03 147.19l3.2 3.2l-3.2 3.2l-3.2 -3.2z"/><path d="M309.65 146.8l3.2 3.2l-3.2 3.2l-3.2 -3.2z"/><path d="M310.26 146.41l3.2 3.2l-3.2 3.2l-3.2 -3.2z"/><path d="M310.88 146.02l3.2 3.2l-3.2 3.2l-3.2 -3.2z"/><path d="M311.5 145.63l3.2 3.2l-3.2 3.2l-3.2 -3.2z"/><path d="M312.11 145.24l3.2 3.2l-3.2 3.2l-3.2 -3.2z"/><path d="M312.73 144.85l3.2 3.2l-3.2 3.2l-3.2 -3.2z"/><path d="M313.34 144.46l3.2 3.2l-3.2 3.2l-3.2 -3.2z"/><path d="M313.96 144.07l3.2 3.2l-3.2 3.2l-3.2 -3.2z"/><path d="M314.58 143.57l3.2 3.2l-3.2 3.2l-3.2 -3.2z"/><path d="M315.19 143.06l3.2 3.2l-3.2 3.2l-3.2 -3.2z"/><path d="M315.81 142.56l3.2 3.2l-3.2 3.2l-3.2 -3.2z"/><path d="M316.42 142.06l3.2 3.2l-3.2 3.2l-3.2 -3.2z"/><path d="M317.04 141.56l3.2 3.2l-3.2 3.2l-3.2 -3.2z"/><path d="M317.66 141.06l3.2 3.2l-3.2 3.2l-3.2 -3.2z"/><path d="M318.27 140.55l3.2 3.2l-3.2 3.2l-3.2 -3.2z"/><path d="M318.89 139.84l3.2 3.2l-3.2 3.2l-3.2 -3.2z"/><path d="M319.5 138.93l3.2 3.2l-3.2 3.2l-3.2 -3.2z"/><path d="M320.12 138.01l3.2 3.2l-3.2 3.2l-3.2 -3.2z"/><path d="M320.74 137.09l3.2 3.2l-3.2 3.2l-3.2 -3.2z"/><path d="M321.35 133.93l3.2 3.2l-3.2 3.2l-3.2 -3.2z"/><path d="M321.97 130.35l3.2 3.2l-3.2 3.2l-3.2 -3.2z"/><path d="M322.58 126.35l3.2 3.2l-3.2 3.2l-3.2 -3.2z"/><path d="M323.2 122.82l3.2 3.2l-3.2 3.2l-3.2 -3.2z"/><path d="M323.82 120.55l3.2 3.2l-3.2 3.2l-3.2 -3.2z"/><path d="M324.43 119.55l3.2 3.2l-3.2 3.2l-3.2 -3.2z"/><path d="M325.05 118.54l3.2 3.2l-3.2 3.2l-3.2 -3.2z"/><path d="M325.66 117.54l3.2 3.2l-3.2 3.2l-3.2 -3.2z"/><path d="M326.28 116.53l3.2 3.2l-3.2 3.2l-3.2 -3.2z"/><path d="M326.9 115.53l3.2 3.2l-3.2 3.2l-3.2 -3.2z"/><path d="M327.51 114.53l3.2 3.2l-3.2 3.2l-3.2 -3.2z"/><path d="M328.13 113.52l3.2 3.2l-3.2 3.2l-3.2 -3.2z"/><path d="M328.74 112.52l3.2 3.2l-3.2 3.2l-3.2 -3.2z"/><path d="M329.36 111.52l3.2 3.2l-3.2 3.2l-3.2 -3.2z"/><path d="M329.98 110.51l3.2 3.2l-3.2 3.2l-3.2 -3.2z"/><path d="M330.59 109.51l3.2 3.2l-3.2 3.2l-3.2 -3.2z"/><path d="M331.21 108.51l3.2 3.2l-3.2 3.2l-3.2 -3.2z"/><path d="M331.82 107.5l3.2 3.2l-3.2 3.2l-3.2 -3.2z"/><path d="M332.44 106.5l3.2 3.2l-3.2 3.2l-3.2 -3.2z"/><path d="M333.06 105.49l3.2 3.2l-3.2 3.2l-3.2 -3.2z"/><path d="M333.67 104.49l3.2 3.2l-3.2 3.2l-3.2 -3.2z"/><path d="M334.29 103.49l3.2 3.2l-3.2 3.2l-3.2 -3.2z"/><path d="M334.9 102.48l3.2 3.2l-3.2 3.2l-3.2 -3.2z"/><path d="M335.52 101.48l3.2 3.2l-3.2 3.2l-3.2 -3.2z"/><path d="M336.14 100.48l3.2 3.2l-3.2 3.2l-3.2 -3.2z"/><path d="M336.75 99.47l3.2 3.2l-3.2 3.2l-3.2 -3.2z"/><path d="M337.37 98.47l3.2 3.2l-3.2 3.2l-3.2 -3.2z"/><path d="M337.98 97.46l3.2 3.2l-3.2 3.2l-3.2 -3.2z"/><path d="M338.6 96.46l3.2 3.2l-3.2 3.2l-3.2 -3.2z"/><path d="M339.22 95.46l3.2 3.2l-3.2 3.2l-3.2 -3.2z"/><path d="M339.83 94.45l3.2 3.2l-3.2 3.2l-3.2 -3.2z"/><path d="M340.45 93.45l3.2 3.2l-3.2 3.2l-3.2 -3.2z"/><path d="M341.06 92.45l3.2 3.2l-3.2 3.2l-3.2 -3.2z"/><path d="M341.68 91.44l3.2 3.2l-3.2 3.2l-3.2 -3.2z"/><path d="M342.3 90.44l3.2 3.2l-3.2 3.2l-3.2 -3.2z"/><path d="M342.91 89.43l3.2 3.2l-3.2 3.2l-3.2 -3.2z"/><path d="M343.53 88.43l3.2 3.2l-3.2 3.2l-3.2 -3.2z"/><path d="M344.14 87.43l3.2 3.2l-3.2 3.2l-3.2 -3.2z"/><path d="M344.76 86.42l3.2 3.2l-3.2 3.2l-3.2 -3.2z"/><path d="M345.38 85.42l3.2 3.2l-3.2 3.2l-3.2 -3.2z"/><path d="M345.99 84.42l3.2 3.2l-3.2 3.2l-3.2 -3.2z"/><path d="M346.61 83.41l3.2 3.2l-3.2 3.2l-3.2 -3.2z"/><path d="M347.22 82.41l3.2 3.2l-3.2 3.2l-3.2 -3.2z"/><path d="M347.84 81.4l3.2 3.2l-3.2 3.2l-3.2 -3.2z"/><path d="M348.46 80.4l3.2 3.2l-3.2 3.2l-3.2 -3.2z"/><path d="M349.07 80.15l3.2 3.2l-3.2 3.2l-3.2 -3.2z"/><path d="M349.69 80.64l3.2 3.2l-3.2 3.2l-3.2 -3.2z"/><path d="M350.3 81.13l3.2 3.2l-3.2 3.2l-3.2 -3.2z"/><path d="M350.92 81.62l3.2 3.2l-3.2 3.2l-3.2 -3.2z"/><path d="M351.54 82.11l3.2 3.2l-3.2 3.2l-3.2 -3.2z"/><path d="M352.15 82.61l3.2 3.2l-3.2 3.2l-3.2 -3.2z"/><path d="M352.77 83.1l3.2 3.2l-3.2 3.2l-3.2 -3.2z"/><path d="M353.38 83.59l3.2 3.2l-3.2 3.2l-3.2 -3.2z"/><path d="M354 84.08l3.2 3.2l-3.2 3.2l-3.2 -3.2z"/><path d="M354.62 84.58l3.2 3.2l-3.2 3.2l-3.2 -3.2z"/><path d="M355.23 85.07l3.2 3.2l-3.2 3.2l-3.2 -3.2z"/><path d="M355.85 85.56l3.2 3.2l-3.2 3.2l-3.2 -3.2z"/><path d="M356.46 86.05l3.2 3.2l-3.2 3.2l-3.2 -3.2z"/><path d="M357.08 86.54l3.2 3.2l-3.2 3.2l-3.2 -3.2z"/><path d="M357.7 87.03l3.2 3.2l-3.2 3.2l-3.2 -3.2z"/><path d="M358.31 87.52l3.2 3.2l-3.2 3.2l-3.2 -3.2z"/><path d="M358.93 88.01l3.2 3.2l-3.2 3.2l-3.2 -3.2z"/><path d="M359.54 88.5l3.2 3.2l-3.2 3.2l-3.2 -3.2z"/><path d="M360.16 88.99l3.2 3.2l-3.2 3.2l-3.2 -3.2z"/><path d="M360.78 89.49l3.2 3.2l-3.2 3.2l-3.2 -3.2z"/><path d="M361.39 89.98l3.2 3.2l-3.2 3.2l-3.2 -3.2z"/><path d="M362.01 90.47l3.2 3.2l-3.2 3.2l-3.2 -3.2z"/><path d="M362.62 90.96l3.2 3.2l-3.2 3.2l-3.2 -3.2z"/><path d="M363.24 91.45l3.2 3.2l-3.2 3.2l-3.2 -3.2z"/><path d="M363.86 91.94l3.2 3.2l-3.2 3.2l-3.2 -3.2z"/><path d="M364.47 92.43l3.2 3.2l-3.2 3.2l-3.2 -3.2z"/><path d="M365.09 92.92l3.2 3.2l-3.2 3.2l-3.2 -3.2z"/><path d="M365.7 93.41l3.2 3.2l-3.2 3.2l-3.2 -3.2z"/><path d="M366.32 93.9l3.2 3.2l-3.2 3.2l-3.2 -3.2z"/><path d="M366.94 94.4l3.2 3.2l-3.2 3.2l-3.2 -3.2z"/><path d="M367.55 94.89l3.2 3.2l-3.2 3.2l-3.2 -3.2z"/><path d="M368.17 95.38l3.2 3.2l-3.2 3.2l-3.2 -3.2z"/><path d="M368.78 95.87l3.2 3.2l-3.2 3.2l-3.2 -3.2z"/><path d="M369.4 96.36l3.2 3.2l-3.2 3.2l-3.2 -3.2z"/><path d="M370.02 96.85l3.2 3.2l-3.2 3.2l-3.2 -3.2z"/><path d="M370.63 97.33l3.2 3.2l-3.2 3.2l-3.2 -3.2z"/><path d="M371.25 97.82l3.2 3.2l-3.2 3.2l-3.2 -3.2z"/><path d="M371.86 98.3l3.2 3.2l-3.2 3.2l-3.2 -3.2z"/><path d="M372.48 98.79l3.2 3.2l-3.2 3.2l-3.2 -3.2z"/><path d="M373.1 99.27l3.2 3.2l-3.2 3.2l-3.2 -3.2z"/><path d="M373.71 99.76l3.2 3.2l-3.2 3.2l-3.2 -3.2z"/><path d="M374.33 100.24l3.2 3.2l-3.2 3.2l-3.2 -3.2z"/><path d="M374.94 100.73l3.2 3.2l-3.2 3.2l-3.2 -3.2z"/><path d="M375.56 101.21l3.2 3.2l-3.2 3.2l-3.2 -3.2z"/><path d="M376.18 101.7l3.2 3.2l-3.2 3.2l-3.2 -3.2z"/><path d="M376.79 102.19l3.2 3.2l-3.2 3.2l-3.2 -3.2z"/><path d="M377.41 102.67l3.2 3.2l-3.2 3.2l-3.2 -3.2z"/><path d="M378.02 103.16l3.2 3.2l-3.2 3.2l-3.2 -3.2z"/><path d="M378.64 103.64l3.2 3.2l-3.2 3.2l-3.2 -3.2z"/><path d="M379.26 104.13l3.2 3.2l-3.2 3.2l-3.2 -3.2z"/><path d="M379.87 104.61l3.2 3.2l-3.2 3.2l-3.2 -3.2z"/><path d="M380.49 105.1l3.2 3.2l-3.2 3.2l-3.2 -3.2z"/><path d="M381.1 105.58l3.2 3.2l-3.2 3.2l-3.2 -3.2z"/><path d="M381.72 106.07l3.2 3.2l-3.2 3.2l-3.2 -3.2z"/><path d="M382.34 106.55l3.2 3.2l-3.2 3.2l-3.2 -3.2z"/><path d="M382.95 107.04l3.2 3.2l-3.2 3.2l-3.2 -3.2z"/><path d="M383.57 107.53l3.2 3.2l-3.2 3.2l-3.2 -3.2z"/><path d="M384.18 108.01l3.2 3.2l-3.2 3.2l-3.2 -3.2z"/><path d="M384.8 108.5l3.2 3.2l-3.2 3.2l-3.2 -3.2z"/><path d="M385.42 108.96l3.2 3.2l-3.2 3.2l-3.2 -3.2z"/><path d="M386.03 109.42l3.2 3.2l-3.2 3.2l-3.2 -3.2z"/><path d="M386.65 109.89l3.2 3.2l-3.2 3.2l-3.2 -3.2z"/><path d="M387.26 110.35l3.2 3.2l-3.2 3.2l-3.2 -3.2z"/><path d="M387.88 110.81l3.2 3.2l-3.2 3.2l-3.2 -3.2z"/><path d="M388.5 111.28l3.2 3.2l-3.2 3.2l-3.2 -3.2z"/><path d="M389.11 111.74l3.2 3.2l-3.2 3.2l-3.2 -3.2z"/><path d="M389.73 112.2l3.2 3.2l-3.2 3.2l-3.2 -3.2z"/><path d="M390.34 112.66l3.2 3.2l-3.2 3.2l-3.2 -3.2z"/><path d="M390.96 113.13l3.2 3.2l-3.2 3.2l-3.2 -3.2z"/><path d="M391.58 113.59l3.2 3.2l-3.2 3.2l-3.2 -3.2z"/><path d="M392.19 114.05l3.2 3.2l-3.2 3.2l-3.2 -3.2z"/><path d="M392.81 114.52l3.2 3.2l-3.2 3.2l-3.2 -3.2z"/><path d="M393.42 114.98l3.2 3.2l-3.2 3.2l-3.2 -3.2z"/><path d="M394.04 115.44l3.2 3.2l-3.2 3.2l-3.2 -3.2z"/><path d="M394.66 115.91l3.2 3.2l-3.2 3.2l-3.2 -3.2z"/><path d="M395.27 116.37l3.2 3.2l-3.2 3.2l-3.2 -3.2z"/><path d="M395.89 116.83l3.2 3.2l-3.2 3.2l-3.2 -3.2z"/><path d="M396.5 117.3l3.2 3.2l-3.2 3.2l-3.2 -3.2z"/><path d="M397.12 117.76l3.2 3.2l-3.2 3.2l-3.2 -3.2z"/><path d="M397.74 118.22l3.2 3.2l-3.2 3.2l-3.2 -3.2z"/><path d="M398.35 118.69l3.2 3.2l-3.2 3.2l-3.2 -3.2z"/><path d="M398.97 119.15l3.2 3.2l-3.2 3.2l-3.2 -3.2z"/><path d="M399.58 119.61l3.2 3.2l-3.2 3.2l-3.2 -3.2z"/><path d="M400.2 120.07l3.2 3.2l-3.2 3.2l-3.2 -3.2z"/><path d="M400.82 120.52l3.2 3.2l-3.2 3.2l-3.2 -3.2z"/><path d="M401.43 120.97l3.2 3.2l-3.2 3.2l-3.2 -3.2z"/><path d="M402.05 121.41l3.2 3.2l-3.2 3.2l-3.2 -3.2z"/><path d="M402.66 121.86l3.2 3.2l-3.2 3.2l-3.2 -3.2z"/><path d="M403.28 122.31l3.2 3.2l-3.2 3.2l-3.2 -3.2z"/><path d="M403.9 122.75l3.2 3.2l-3.2 3.2l-3.2 -3.2z"/><path d="M404.51 123.2l3.2 3.2l-3.2 3.2l-3.2 -3.2z"/><path d="M405.13 123.65l3.2 3.2l-3.2 3.2l-3.2 -3.2z"/><path d="M405.74 124.09l3.2 3.2l-3.2 3.2l-3.2 -3.2z"/><path d="M406.36 124.54l3.2 3.2l-3.2 3.2l-3.2 -3.2z"/><path d="M406.98 124.99l3.2 3.2l-3.2 3.2l-3.2 -3.2z"/><path d="M407.59 125.43l3.2 3.2l-3.2 3.2l-3.2 -3.2z"/><path d="M408.21 125.88l3.2 3.2l-3.2 3.2l-3.2 -3.2z"/><path d="M408.82 126.32l3.2 3.2l-3.2 3.2l-3.2 -3.2z"/><path d="M409.44 126.77l3.2 3.2l-3.2 3.2l-3.2 -3.2z"/><path d="M410.06 127.22l3.2 3.2l-3.2 3.2l-3.2 -3.2z"/><path d="M410.67 127.66l3.2 3.2l-3.2 3.2l-3.2 -3.2z"/><path d="M411.29 128.11l3.2 3.2l-3.2 3.2l-3.2 -3.2z"/><path d="M411.9 128.56l3.2 3.2l-3.2 3.2l-3.2 -3.2z"/><path d="M412.52 129l3.2 3.2l-3.2 3.2l-3.2 -3.2z"/><path d="M413.14 129.45l3.2 3.2l-3.2 3.2l-3.2 -3.2z"/><path d="M413.75 129.9l3.2 3.2l-3.2 3.2l-3.2 -3.2z"/><path d="M414.37 130.34l3.2 3.2l-3.2 3.2l-3.2 -3.2z"/><path d="M414.98 130.79l3.2 3.2l-3.2 3.2l-3.2 -3.2z"/><path d="M415.6 131.24l3.2 3.2l-3.2 3.2l-3.2 -3.2z"/>
</g>
</g>
<rect x="292.4" y="73.9" width="123.2" height="98.2" fill="none" stroke="#000" stroke-width="1.3"/>
<path d="M354 172.1v-6" stroke="#000" stroke-width="1.3" fill="none"/>
<path d="M323.2 172.1v-3.5M384.8 172.1v-3.5" stroke="#000" stroke-width="1.3" fill="none"/>
<path d="M292.4 144.2h6M292.4 116.3h6M292.4 88.4h6" stroke="#000" stroke-width="1.3" fill="none"/>
<path d="M292.4 158.15h4.2M292.4 130.25h4.2M292.4 102.35h4.2" stroke="#000" stroke-width="1.3" fill="none"/>
<text x="292.4" y="191.3" font-size="14.5" text-anchor="middle" fill="#000" >0</text>
<text x="354" y="191.3" font-size="14.5" text-anchor="middle" fill="#000" >20</text>
<text x="415.6" y="191.3" font-size="14.5" text-anchor="middle" fill="#000" >40</text>
<text x="284.5" y="176.2" font-size="14.5" text-anchor="end" fill="#000" >0.08</text>
<text x="284.5" y="148.3" font-size="14.5" text-anchor="end" fill="#000" >0.10</text>
<text x="284.5" y="120.4" font-size="14.5" text-anchor="end" fill="#000" >0.12</text>
<text x="284.5" y="92.5" font-size="14.5" text-anchor="end" fill="#000" >0.14</text>
<text x="364.3" y="207.5" font-size="15" text-anchor="middle" fill="#000"  textLength="108" lengthAdjust="spacingAndGlyphs">Temperature (K)</text>
<text transform="translate(249 128.1) rotate(-90)" font-size="15" text-anchor="middle" fill="#000" textLength="98" lengthAdjust="spacingAndGlyphs">M/H (emu/mol)</text>
<text x="329.5" y="148.7" font-size="12.3" text-anchor="start" fill="#000" >H=1 kOe</text>
<clipPath id="cb"><rect x="76.8" y="332.1" width="358.7" height="249.5"/></clipPath>
<g clip-path="url(#cb)">
<g fill="#fff" stroke="#000" stroke-width="1.0">
<rect x="72.36" y="541.56" width="7.5" height="7.5"/><rect x="72.52" y="541.54" width="7.5" height="7.5"/><rect x="72.68" y="541.51" width="7.5" height="7.5"/><rect x="72.83" y="541.49" width="7.5" height="7.5"/><rect x="72.99" y="541.47" width="7.5" height="7.5"/><rect x="73.15" y="541.44" width="7.5" height="7.5"/><rect x="73.3" y="541.42" width="7.5" height="7.5"/><rect x="73.46" y="541.4" width="7.5" height="7.5"/><rect x="73.62" y="541.38" width="7.5" height="7.5"/><rect x="73.77" y="541.35" width="7.5" height="7.5"/><rect x="73.93" y="541.33" width="7.5" height="7.5"/><rect x="74.09" y="541.31" width="7.5" height="7.5"/><rect x="74.24" y="541.28" width="7.5" height="7.5"/><rect x="74.4" y="541.26" width="7.5" height="7.5"/><rect x="74.56" y="541.24" width="7.5" height="7.5"/><rect x="74.71" y="541.21" width="7.5" height="7.5"/><rect x="74.87" y="541.19" width="7.5" height="7.5"/><rect x="75.03" y="541.17" width="7.5" height="7.5"/><rect x="75.18" y="541.14" width="7.5" height="7.5"/><rect x="75.34" y="541.12" width="7.5" height="7.5"/><rect x="75.5" y="541.1" width="7.5" height="7.5"/><rect x="75.65" y="541.07" width="7.5" height="7.5"/><rect x="75.81" y="541.05" width="7.5" height="7.5"/><rect x="75.97" y="541.03" width="7.5" height="7.5"/><rect x="76.12" y="541.01" width="7.5" height="7.5"/><rect x="76.28" y="541" width="7.5" height="7.5"/><rect x="76.44" y="540.98" width="7.5" height="7.5"/><rect x="76.6" y="540.97" width="7.5" height="7.5"/><rect x="76.75" y="540.96" width="7.5" height="7.5"/><rect x="76.91" y="540.94" width="7.5" height="7.5"/><rect x="77.07" y="540.93" width="7.5" height="7.5"/><rect x="77.22" y="540.92" width="7.5" height="7.5"/><rect x="77.38" y="540.9" width="7.5" height="7.5"/><rect x="77.54" y="540.89" width="7.5" height="7.5"/><rect x="77.69" y="540.88" width="7.5" height="7.5"/><rect x="77.85" y="540.86" width="7.5" height="7.5"/><rect x="78.01" y="540.85" width="7.5" height="7.5"/><rect x="78.16" y="540.84" width="7.5" height="7.5"/><rect x="78.32" y="540.82" width="7.5" height="7.5"/><rect x="78.48" y="540.81" width="7.5" height="7.5"/><rect x="78.63" y="540.8" width="7.5" height="7.5"/><rect x="78.79" y="540.78" width="7.5" height="7.5"/><rect x="78.95" y="540.77" width="7.5" height="7.5"/><rect x="79.1" y="540.76" width="7.5" height="7.5"/><rect x="79.26" y="540.74" width="7.5" height="7.5"/><rect x="79.42" y="540.73" width="7.5" height="7.5"/><rect x="79.57" y="540.72" width="7.5" height="7.5"/><rect x="79.73" y="540.7" width="7.5" height="7.5"/><rect x="79.89" y="540.69" width="7.5" height="7.5"/><rect x="80.04" y="540.68" width="7.5" height="7.5"/><rect x="80.2" y="540.66" width="7.5" height="7.5"/><rect x="80.74" y="540.62" width="7.5" height="7.5"/><rect x="81.23" y="540.6" width="7.5" height="7.5"/><rect x="81.77" y="540.59" width="7.5" height="7.5"/><rect x="81.95" y="540.59" width="7.5" height="7.5"/><rect x="82.13" y="540.59" width="7.5" height="7.5"/><rect x="82.31" y="540.59" width="7.5" height="7.5"/><rect x="82.49" y="540.58" width="7.5" height="7.5"/><rect x="82.67" y="540.58" width="7.5" height="7.5"/><rect x="82.85" y="540.58" width="7.5" height="7.5"/><rect x="83.04" y="540.57" width="7.5" height="7.5"/><rect x="83.22" y="540.57" width="7.5" height="7.5"/><rect x="83.4" y="540.57" width="7.5" height="7.5"/><rect x="83.58" y="540.56" width="7.5" height="7.5"/><rect x="83.76" y="540.56" width="7.5" height="7.5"/><rect x="83.94" y="540.56" width="7.5" height="7.5"/><rect x="84.12" y="540.55" width="7.5" height="7.5"/><rect x="84.3" y="540.55" width="7.5" height="7.5"/><rect x="84.48" y="540.55" width="7.5" height="7.5"/><rect x="84.66" y="540.54" width="7.5" height="7.5"/><rect x="84.84" y="540.54" width="7.5" height="7.5"/><rect x="85.03" y="540.54" width="7.5" height="7.5"/><rect x="85.21" y="540.53" width="7.5" height="7.5"/><rect x="85.39" y="540.53" width="7.5" height="7.5"/><rect x="85.57" y="540.53" width="7.5" height="7.5"/><rect x="85.75" y="540.53" width="7.5" height="7.5"/><rect x="85.93" y="540.54" width="7.5" height="7.5"/><rect x="86.11" y="540.55" width="7.5" height="7.5"/><rect x="86.29" y="540.55" width="7.5" height="7.5"/><rect x="86.47" y="540.56" width="7.5" height="7.5"/><rect x="86.65" y="540.57" width="7.5" height="7.5"/><rect x="86.83" y="540.57" width="7.5" height="7.5"/><rect x="87.01" y="540.58" width="7.5" height="7.5"/><rect x="87.2" y="540.59" width="7.5" height="7.5"/><rect x="87.38" y="540.59" width="7.5" height="7.5"/><rect x="87.56" y="540.6" width="7.5" height="7.5"/><rect x="87.74" y="540.61" width="7.5" height="7.5"/><rect x="87.92" y="540.62" width="7.5" height="7.5"/><rect x="88.1" y="540.62" width="7.5" height="7.5"/><rect x="88.28" y="540.63" width="7.5" height="7.5"/><rect x="88.46" y="540.64" width="7.5" height="7.5"/><rect x="88.64" y="540.64" width="7.5" height="7.5"/><rect x="88.82" y="540.65" width="7.5" height="7.5"/><rect x="89" y="540.66" width="7.5" height="7.5"/><rect x="89.19" y="540.66" width="7.5" height="7.5"/><rect x="89.37" y="540.68" width="7.5" height="7.5"/><rect x="89.55" y="540.7" width="7.5" height="7.5"/><rect x="89.73" y="540.72" width="7.5" height="7.5"/><rect x="89.91" y="540.74" width="7.5" height="7.5"/><rect x="90.09" y="540.75" width="7.5" height="7.5"/><rect x="90.27" y="540.77" width="7.5" height="7.5"/><rect x="90.45" y="540.79" width="7.5" height="7.5"/><rect x="90.63" y="540.81" width="7.5" height="7.5"/><rect x="90.81" y="540.83" width="7.5" height="7.5"/><rect x="90.99" y="540.85" width="7.5" height="7.5"/><rect x="91.18" y="540.87" width="7.5" height="7.5"/><rect x="91.36" y="540.88" width="7.5" height="7.5"/><rect x="91.54" y="540.9" width="7.5" height="7.5"/><rect x="91.72" y="540.9" width="7.5" height="7.5"/><rect x="92.02" y="540.77" width="7.5" height="7.5"/><rect x="92.36" y="540.63" width="7.5" height="7.5"/><rect x="92.7" y="540.49" width="7.5" height="7.5"/><rect x="93.03" y="540.35" width="7.5" height="7.5"/><rect x="93.37" y="540.21" width="7.5" height="7.5"/><rect x="93.71" y="540.07" width="7.5" height="7.5"/><rect x="94.05" y="539.93" width="7.5" height="7.5"/><rect x="94.38" y="539.79" width="7.5" height="7.5"/><rect x="94.72" y="539.65" width="7.5" height="7.5"/><rect x="95.06" y="539.51" width="7.5" height="7.5"/><rect x="95.4" y="539.37" width="7.5" height="7.5"/><rect x="95.73" y="539.22" width="7.5" height="7.5"/><rect x="96.07" y="539.08" width="7.5" height="7.5"/><rect x="96.41" y="538.94" width="7.5" height="7.5"/><rect x="96.75" y="538.8" width="7.5" height="7.5"/><rect x="97.09" y="538.66" width="7.5" height="7.5"/><rect x="97.42" y="538.52" width="7.5" height="7.5"/><rect x="97.76" y="538.38" width="7.5" height="7.5"/><rect x="98.1" y="538.24" width="7.5" height="7.5"/><rect x="98.44" y="538.1" width="7.5" height="7.5"/><rect x="98.77" y="537.96" width="7.5" height="7.5"/><rect x="99.11" y="537.82" width="7.5" height="7.5"/><rect x="99.45" y="537.68" width="7.5" height="7.5"/><rect x="99.79" y="537.53" width="7.5" height="7.5"/><rect x="100.12" y="537.39" width="7.5" height="7.5"/><rect x="100.46" y="537.24" width="7.5" height="7.5"/><rect x="100.8" y="537.08" width="7.5" height="7.5"/><rect x="101.14" y="536.93" width="7.5" height="7.5"/><rect x="101.47" y="536.77" width="7.5" height="7.5"/><rect x="101.81" y="536.62" width="7.5" height="7.5"/><rect x="102.15" y="536.46" width="7.5" height="7.5"/><rect x="102.49" y="536.31" width="7.5" height="7.5"/><rect x="102.83" y="536.15" width="7.5" height="7.5"/><rect x="103.16" y="536" width="7.5" height="7.5"/><rect x="103.5" y="535.84" width="7.5" height="7.5"/><rect x="103.84" y="535.69" width="7.5" height="7.5"/><rect x="104.18" y="535.53" width="7.5" height="7.5"/><rect x="104.51" y="535.38" width="7.5" height="7.5"/><rect x="104.85" y="535.22" width="7.5" height="7.5"/><rect x="105.19" y="535.07" width="7.5" height="7.5"/><rect x="105.53" y="534.91" width="7.5" height="7.5"/><rect x="105.86" y="534.76" width="7.5" height="7.5"/><rect x="106.2" y="534.6" width="7.5" height="7.5"/><rect x="106.54" y="534.45" width="7.5" height="7.5"/><rect x="106.88" y="534.29" width="7.5" height="7.5"/><rect x="107.22" y="534.14" width="7.5" height="7.5"/><rect x="107.55" y="533.98" width="7.5" height="7.5"/><rect x="107.89" y="533.83" width="7.5" height="7.5"/><rect x="108.23" y="533.67" width="7.5" height="7.5"/><rect x="108.57" y="533.52" width="7.5" height="7.5"/><rect x="108.9" y="533.34" width="7.5" height="7.5"/><rect x="109.24" y="533.16" width="7.5" height="7.5"/><rect x="109.58" y="532.98" width="7.5" height="7.5"/><rect x="109.92" y="532.81" width="7.5" height="7.5"/><rect x="110.25" y="532.63" width="7.5" height="7.5"/><rect x="110.59" y="532.45" width="7.5" height="7.5"/><rect x="110.93" y="532.27" width="7.5" height="7.5"/><rect x="111.27" y="532.1" width="7.5" height="7.5"/><rect x="111.61" y="531.92" width="7.5" height="7.5"/><rect x="111.94" y="531.74" width="7.5" height="7.5"/><rect x="112.28" y="531.56" width="7.5" height="7.5"/><rect x="112.62" y="531.39" width="7.5" height="7.5"/><rect x="112.96" y="531.21" width="7.5" height="7.5"/><rect x="113.29" y="531.03" width="7.5" height="7.5"/><rect x="113.63" y="530.85" width="7.5" height="7.5"/><rect x="113.97" y="530.68" width="7.5" height="7.5"/><rect x="114.31" y="530.5" width="7.5" height="7.5"/><rect x="114.64" y="530.32" width="7.5" height="7.5"/><rect x="114.98" y="530.14" width="7.5" height="7.5"/><rect x="115.32" y="529.97" width="7.5" height="7.5"/><rect x="115.66" y="529.79" width="7.5" height="7.5"/><rect x="116" y="529.61" width="7.5" height="7.5"/><rect x="116.33" y="529.43" width="7.5" height="7.5"/><rect x="116.67" y="529.26" width="7.5" height="7.5"/><rect x="117.01" y="529.08" width="7.5" height="7.5"/><rect x="117.35" y="528.9" width="7.5" height="7.5"/><rect x="117.68" y="528.72" width="7.5" height="7.5"/><rect x="118.02" y="528.54" width="7.5" height="7.5"/><rect x="119.4" y="527.74" width="7.5" height="7.5"/><rect x="120.6" y="527.03" width="7.5" height="7.5"/><rect x="121.81" y="526.32" width="7.5" height="7.5"/><rect x="123.01" y="525.61" width="7.5" height="7.5"/><rect x="124.22" y="524.9" width="7.5" height="7.5"/><rect x="125.43" y="524.18" width="7.5" height="7.5"/><rect x="126.63" y="523.47" width="7.5" height="7.5"/><rect x="127.84" y="522.76" width="7.5" height="7.5"/><rect x="129.04" y="522.05" width="7.5" height="7.5"/><rect x="130.25" y="521.33" width="7.5" height="7.5"/><rect x="131.46" y="520.63" width="7.5" height="7.5"/><rect x="132.66" y="519.92" width="7.5" height="7.5"/><rect x="133.87" y="519.21" width="7.5" height="7.5"/><rect x="135.07" y="518.5" width="7.5" height="7.5"/><rect x="136.28" y="517.79" width="7.5" height="7.5"/><rect x="137.49" y="517.09" width="7.5" height="7.5"/><rect x="138.69" y="516.38" width="7.5" height="7.5"/><rect x="139.9" y="515.67" width="7.5" height="7.5"/><rect x="141.1" y="514.96" width="7.5" height="7.5"/><rect x="142.31" y="514.25" width="7.5" height="7.5"/><rect x="143.52" y="513.59" width="7.5" height="7.5"/><rect x="144.72" y="512.92" width="7.5" height="7.5"/><rect x="145.93" y="512.25" width="7.5" height="7.5"/><rect x="147.13" y="511.59" width="7.5" height="7.5"/><rect x="148.34" y="510.92" width="7.5" height="7.5"/><rect x="149.55" y="510.25" width="7.5" height="7.5"/><rect x="150.75" y="509.59" width="7.5" height="7.5"/><rect x="151.96" y="508.92" width="7.5" height="7.5"/><rect x="153.16" y="508.25" width="7.5" height="7.5"/><rect x="154.37" y="507.59" width="7.5" height="7.5"/><rect x="155.58" y="506.92" width="7.5" height="7.5"/><rect x="156.78" y="506.25" width="7.5" height="7.5"/><rect x="157.99" y="505.59" width="7.5" height="7.5"/><rect x="159.19" y="504.92" width="7.5" height="7.5"/><rect x="160.4" y="504.25" width="7.5" height="7.5"/><rect x="161.61" y="503.58" width="7.5" height="7.5"/><rect x="162.81" y="502.92" width="7.5" height="7.5"/><rect x="164.02" y="502.25" width="7.5" height="7.5"/><rect x="165.22" y="501.58" width="7.5" height="7.5"/><rect x="166.43" y="500.91" width="7.5" height="7.5"/><rect x="167.64" y="500.26" width="7.5" height="7.5"/><rect x="168.84" y="499.6" width="7.5" height="7.5"/><rect x="170.05" y="498.94" width="7.5" height="7.5"/><rect x="171.25" y="498.28" width="7.5" height="7.5"/><rect x="172.46" y="497.62" width="7.5" height="7.5"/><rect x="173.67" y="496.97" width="7.5" height="7.5"/><rect x="174.87" y="496.31" width="7.5" height="7.5"/><rect x="176.08" y="495.65" width="7.5" height="7.5"/><rect x="177.28" y="494.99" width="7.5" height="7.5"/><rect x="178.49" y="494.33" width="7.5" height="7.5"/><rect x="179.7" y="493.67" width="7.5" height="7.5"/><rect x="180.9" y="493.01" width="7.5" height="7.5"/><rect x="182.11" y="492.36" width="7.5" height="7.5"/><rect x="183.31" y="491.7" width="7.5" height="7.5"/><rect x="184.52" y="491.04" width="7.5" height="7.5"/><rect x="185.73" y="490.38" width="7.5" height="7.5"/><rect x="186.93" y="489.72" width="7.5" height="7.5"/><rect x="188.14" y="489.06" width="7.5" height="7.5"/><rect x="189.34" y="488.4" width="7.5" height="7.5"/><rect x="190.55" y="487.74" width="7.5" height="7.5"/><rect x="193.69" y="486.05" width="7.5" height="7.5"/><rect x="196.1" y="484.74" width="7.5" height="7.5"/><rect x="198.51" y="483.44" width="7.5" height="7.5"/><rect x="200.92" y="482.13" width="7.5" height="7.5"/><rect x="203.33" y="480.83" width="7.5" height="7.5"/><rect x="205.75" y="479.52" width="7.5" height="7.5"/><rect x="208.16" y="478.22" width="7.5" height="7.5"/><rect x="210.57" y="476.91" width="7.5" height="7.5"/><rect x="212.98" y="475.6" width="7.5" height="7.5"/><rect x="215.39" y="474.3" width="7.5" height="7.5"/><rect x="217.81" y="472.99" width="7.5" height="7.5"/><rect x="220.22" y="471.68" width="7.5" height="7.5"/><rect x="222.63" y="470.37" width="7.5" height="7.5"/><rect x="225.04" y="469.06" width="7.5" height="7.5"/><rect x="227.45" y="467.75" width="7.5" height="7.5"/><rect x="229.87" y="466.45" width="7.5" height="7.5"/><rect x="232.28" y="465.14" width="7.5" height="7.5"/><rect x="234.69" y="463.83" width="7.5" height="7.5"/><rect x="237.1" y="462.52" width="7.5" height="7.5"/><rect x="239.51" y="461.21" width="7.5" height="7.5"/><rect x="241.93" y="459.9" width="7.5" height="7.5"/><rect x="244.34" y="458.58" width="7.5" height="7.5"/><rect x="246.75" y="457.27" width="7.5" height="7.5"/><rect x="249.16" y="455.96" width="7.5" height="7.5"/><rect x="251.57" y="454.65" width="7.5" height="7.5"/><rect x="253.99" y="453.34" width="7.5" height="7.5"/><rect x="256.4" y="452.03" width="7.5" height="7.5"/><rect x="258.81" y="450.71" width="7.5" height="7.5"/><rect x="261.22" y="449.4" width="7.5" height="7.5"/><rect x="263.63" y="448.09" width="7.5" height="7.5"/><rect x="266.05" y="446.77" width="7.5" height="7.5"/><rect x="268.46" y="445.46" width="7.5" height="7.5"/><rect x="270.87" y="444.14" width="7.5" height="7.5"/><rect x="273.28" y="442.83" width="7.5" height="7.5"/><rect x="275.69" y="441.51" width="7.5" height="7.5"/><rect x="278.11" y="440.2" width="7.5" height="7.5"/><rect x="280.52" y="438.88" width="7.5" height="7.5"/><rect x="282.93" y="437.56" width="7.5" height="7.5"/><rect x="285.34" y="436.25" width="7.5" height="7.5"/><rect x="287.75" y="434.93" width="7.5" height="7.5"/><rect x="290.17" y="433.61" width="7.5" height="7.5"/><rect x="292.58" y="432.3" width="7.5" height="7.5"/><rect x="294.99" y="430.98" width="7.5" height="7.5"/><rect x="297.4" y="429.66" width="7.5" height="7.5"/><rect x="299.81" y="428.34" width="7.5" height="7.5"/><rect x="302.23" y="427.02" width="7.5" height="7.5"/><rect x="304.64" y="425.7" width="7.5" height="7.5"/><rect x="307.05" y="424.38" width="7.5" height="7.5"/><rect x="309.46" y="423.07" width="7.5" height="7.5"/><rect x="311.87" y="421.74" width="7.5" height="7.5"/><rect x="314.29" y="420.42" width="7.5" height="7.5"/><rect x="316.7" y="419.1" width="7.5" height="7.5"/><rect x="319.11" y="417.78" width="7.5" height="7.5"/><rect x="321.52" y="416.46" width="7.5" height="7.5"/><rect x="323.93" y="415.14" width="7.5" height="7.5"/><rect x="326.35" y="413.82" width="7.5" height="7.5"/><rect x="328.76" y="412.49" width="7.5" height="7.5"/><rect x="331.17" y="411.17" width="7.5" height="7.5"/><rect x="333.58" y="409.85" width="7.5" height="7.5"/><rect x="335.99" y="408.53" width="7.5" height="7.5"/><rect x="338.41" y="407.2" width="7.5" height="7.5"/><rect x="340.82" y="405.88" width="7.5" height="7.5"/><rect x="343.23" y="404.55" width="7.5" height="7.5"/><rect x="345.64" y="403.23" width="7.5" height="7.5"/><rect x="348.05" y="401.9" width="7.5" height="7.5"/><rect x="350.47" y="400.58" width="7.5" height="7.5"/><rect x="352.88" y="399.25" width="7.5" height="7.5"/><rect x="355.29" y="397.93" width="7.5" height="7.5"/><rect x="357.7" y="396.6" width="7.5" height="7.5"/><rect x="360.11" y="395.27" width="7.5" height="7.5"/><rect x="362.53" y="393.95" width="7.5" height="7.5"/><rect x="364.94" y="392.62" width="7.5" height="7.5"/><rect x="367.35" y="391.29" width="7.5" height="7.5"/><rect x="369.76" y="389.96" width="7.5" height="7.5"/><rect x="372.17" y="388.64" width="7.5" height="7.5"/><rect x="374.59" y="387.31" width="7.5" height="7.5"/><rect x="377" y="385.98" width="7.5" height="7.5"/><rect x="379.41" y="384.65" width="7.5" height="7.5"/><rect x="381.82" y="383.32" width="7.5" height="7.5"/><rect x="384.23" y="381.99" width="7.5" height="7.5"/><rect x="386.65" y="380.66" width="7.5" height="7.5"/><rect x="389.06" y="379.33" width="7.5" height="7.5"/><rect x="391.47" y="378" width="7.5" height="7.5"/><rect x="393.88" y="376.67" width="7.5" height="7.5"/><rect x="396.29" y="375.33" width="7.5" height="7.5"/><rect x="398.71" y="374" width="7.5" height="7.5"/><rect x="401.12" y="372.67" width="7.5" height="7.5"/><rect x="403.53" y="371.34" width="7.5" height="7.5"/><rect x="405.94" y="370" width="7.5" height="7.5"/><rect x="408.35" y="368.67" width="7.5" height="7.5"/><rect x="410.77" y="367.34" width="7.5" height="7.5"/><rect x="413.18" y="366" width="7.5" height="7.5"/><rect x="415.59" y="364.67" width="7.5" height="7.5"/><rect x="418" y="363.33" width="7.5" height="7.5"/><rect x="420.41" y="362" width="7.5" height="7.5"/><rect x="422.83" y="360.66" width="7.5" height="7.5"/><rect x="425.24" y="359.33" width="7.5" height="7.5"/><rect x="427.65" y="357.99" width="7.5" height="7.5"/><rect x="430.06" y="356.66" width="7.5" height="7.5"/><rect x="432.47" y="355.32" width="7.5" height="7.5"/>
</g>
<g fill="#fff" stroke="#f00" stroke-width="1.0">
<circle cx="76.11" cy="523.44" r="4.5"/><circle cx="76.27" cy="523.49" r="4.5"/><circle cx="76.43" cy="523.53" r="4.5"/><circle cx="76.58" cy="523.57" r="4.5"/><circle cx="76.74" cy="523.62" r="4.5"/><circle cx="76.9" cy="523.66" r="4.5"/><circle cx="77.05" cy="523.7" r="4.5"/><circle cx="77.21" cy="523.75" r="4.5"/><circle cx="77.37" cy="523.79" r="4.5"/><circle cx="77.52" cy="523.84" r="4.5"/><circle cx="77.68" cy="523.88" r="4.5"/><circle cx="77.84" cy="523.92" r="4.5"/><circle cx="77.99" cy="523.97" r="4.5"/><circle cx="78.15" cy="524.01" r="4.5"/><circle cx="78.31" cy="524.05" r="4.5"/><circle cx="78.46" cy="524.09" r="4.5"/><circle cx="78.62" cy="524.2" r="4.5"/><circle cx="78.78" cy="524.33" r="4.5"/><circle cx="78.93" cy="524.47" r="4.5"/><circle cx="79.09" cy="524.61" r="4.5"/><circle cx="79.25" cy="524.74" r="4.5"/><circle cx="79.4" cy="524.87" r="4.5"/><circle cx="79.56" cy="525.01" r="4.5"/><circle cx="79.72" cy="525.14" r="4.5"/><circle cx="79.87" cy="525.27" r="4.5"/><circle cx="80.03" cy="525.41" r="4.5"/><circle cx="80.19" cy="525.54" r="4.5"/><circle cx="80.35" cy="525.67" r="4.5"/><circle cx="80.5" cy="525.8" r="4.5"/><circle cx="80.66" cy="525.93" r="4.5"/><circle cx="80.82" cy="526.06" r="4.5"/><circle cx="80.97" cy="526.21" r="4.5"/><circle cx="81.13" cy="526.43" r="4.5"/><circle cx="81.29" cy="526.64" r="4.5"/><circle cx="81.44" cy="526.86" r="4.5"/><circle cx="81.6" cy="527.07" r="4.5"/><circle cx="81.76" cy="527.28" r="4.5"/><circle cx="81.91" cy="527.49" r="4.5"/><circle cx="82.07" cy="527.7" r="4.5"/><circle cx="82.23" cy="527.91" r="4.5"/><circle cx="82.38" cy="528.12" r="4.5"/><circle cx="82.54" cy="528.32" r="4.5"/><circle cx="82.7" cy="528.52" r="4.5"/><circle cx="82.85" cy="528.72" r="4.5"/><circle cx="83.01" cy="528.92" r="4.5"/><circle cx="83.17" cy="529.12" r="4.5"/><circle cx="83.32" cy="529.32" r="4.5"/><circle cx="83.48" cy="529.59" r="4.5"/><circle cx="83.64" cy="529.87" r="4.5"/><circle cx="83.79" cy="530.15" r="4.5"/><circle cx="83.95" cy="530.42" r="4.5"/><circle cx="84.49" cy="531.35" r="4.5"/><circle cx="84.98" cy="532.15" r="4.5"/><circle cx="85.52" cy="533.01" r="4.5"/><circle cx="85.7" cy="533.29" r="4.5"/><circle cx="85.88" cy="533.61" r="4.5"/><circle cx="86.06" cy="533.93" r="4.5"/><circle cx="86.24" cy="534.26" r="4.5"/><circle cx="86.42" cy="534.57" r="4.5"/><circle cx="86.6" cy="534.89" r="4.5"/><circle cx="86.79" cy="535.2" r="4.5"/><circle cx="86.97" cy="535.5" r="4.5"/><circle cx="87.15" cy="535.8" r="4.5"/><circle cx="87.33" cy="536.1" r="4.5"/><circle cx="87.51" cy="536.4" r="4.5"/><circle cx="87.69" cy="536.69" r="4.5"/><circle cx="87.87" cy="536.97" r="4.5"/><circle cx="88.05" cy="537.25" r="4.5"/><circle cx="88.23" cy="537.53" r="4.5"/><circle cx="88.41" cy="537.81" r="4.5"/><circle cx="88.59" cy="538.08" r="4.5"/><circle cx="88.78" cy="538.35" r="4.5"/><circle cx="88.96" cy="538.62" r="4.5"/><circle cx="89.14" cy="538.88" r="4.5"/><circle cx="89.32" cy="539.14" r="4.5"/><circle cx="89.5" cy="539.39" r="4.5"/><circle cx="89.68" cy="539.65" r="4.5"/><circle cx="89.86" cy="539.9" r="4.5"/><circle cx="90.04" cy="540.14" r="4.5"/><circle cx="90.22" cy="540.39" r="4.5"/><circle cx="90.4" cy="540.63" r="4.5"/><circle cx="90.58" cy="540.87" r="4.5"/><circle cx="90.76" cy="541.09" r="4.5"/><circle cx="90.95" cy="541.31" r="4.5"/><circle cx="91.13" cy="541.53" r="4.5"/><circle cx="91.31" cy="541.74" r="4.5"/><circle cx="91.49" cy="541.96" r="4.5"/><circle cx="91.67" cy="542.17" r="4.5"/><circle cx="91.85" cy="542.38" r="4.5"/><circle cx="92.03" cy="542.59" r="4.5"/><circle cx="92.21" cy="542.79" r="4.5"/><circle cx="92.39" cy="542.99" r="4.5"/><circle cx="92.57" cy="543.19" r="4.5"/><circle cx="92.75" cy="543.39" r="4.5"/><circle cx="92.94" cy="543.59" r="4.5"/><circle cx="93.12" cy="543.75" r="4.5"/><circle cx="93.3" cy="543.9" r="4.5"/><circle cx="93.48" cy="544.05" r="4.5"/><circle cx="93.66" cy="544.2" r="4.5"/><circle cx="93.84" cy="544.35" r="4.5"/><circle cx="94.02" cy="544.49" r="4.5"/><circle cx="94.2" cy="544.64" r="4.5"/><circle cx="94.38" cy="544.78" r="4.5"/><circle cx="94.56" cy="544.92" r="4.5"/><circle cx="94.74" cy="545.06" r="4.5"/><circle cx="94.93" cy="545.2" r="4.5"/><circle cx="95.11" cy="545.34" r="4.5"/><circle cx="95.29" cy="545.48" r="4.5"/><circle cx="95.47" cy="545.55" r="4.5"/><circle cx="95.77" cy="545.42" r="4.5"/><circle cx="96.11" cy="545.28" r="4.5"/><circle cx="96.45" cy="545.13" r="4.5"/><circle cx="96.78" cy="544.99" r="4.5"/><circle cx="97.12" cy="544.85" r="4.5"/><circle cx="97.46" cy="544.71" r="4.5"/><circle cx="97.8" cy="544.56" r="4.5"/><circle cx="98.13" cy="544.42" r="4.5"/><circle cx="98.47" cy="544.28" r="4.5"/><circle cx="98.81" cy="544.14" r="4.5"/><circle cx="99.15" cy="543.99" r="4.5"/><circle cx="99.48" cy="543.85" r="4.5"/><circle cx="99.82" cy="543.71" r="4.5"/><circle cx="100.16" cy="543.57" r="4.5"/><circle cx="100.5" cy="543.42" r="4.5"/><circle cx="100.84" cy="543.28" r="4.5"/><circle cx="101.17" cy="543.14" r="4.5"/><circle cx="101.51" cy="543" r="4.5"/><circle cx="101.85" cy="542.85" r="4.5"/><circle cx="102.19" cy="542.71" r="4.5"/><circle cx="102.52" cy="542.57" r="4.5"/><circle cx="102.86" cy="542.42" r="4.5"/><circle cx="103.2" cy="542.28" r="4.5"/><circle cx="103.54" cy="542.14" r="4.5"/><circle cx="103.87" cy="541.99" r="4.5"/><circle cx="104.21" cy="541.84" r="4.5"/><circle cx="104.55" cy="541.68" r="4.5"/><circle cx="104.89" cy="541.52" r="4.5"/><circle cx="105.22" cy="541.37" r="4.5"/><circle cx="105.56" cy="541.21" r="4.5"/><circle cx="105.9" cy="541.05" r="4.5"/><circle cx="106.24" cy="540.9" r="4.5"/><circle cx="106.58" cy="540.74" r="4.5"/><circle cx="106.91" cy="540.58" r="4.5"/><circle cx="107.25" cy="540.43" r="4.5"/><circle cx="107.59" cy="540.27" r="4.5"/><circle cx="107.93" cy="540.11" r="4.5"/><circle cx="108.26" cy="539.95" r="4.5"/><circle cx="108.6" cy="539.8" r="4.5"/><circle cx="108.94" cy="539.64" r="4.5"/><circle cx="109.28" cy="539.48" r="4.5"/><circle cx="109.61" cy="539.33" r="4.5"/><circle cx="109.95" cy="539.17" r="4.5"/><circle cx="110.29" cy="539.01" r="4.5"/><circle cx="110.63" cy="538.85" r="4.5"/><circle cx="110.97" cy="538.7" r="4.5"/><circle cx="111.3" cy="538.54" r="4.5"/><circle cx="111.64" cy="538.38" r="4.5"/><circle cx="111.98" cy="538.22" r="4.5"/><circle cx="112.32" cy="538.07" r="4.5"/><circle cx="112.65" cy="537.89" r="4.5"/><circle cx="112.99" cy="537.71" r="4.5"/><circle cx="113.33" cy="537.53" r="4.5"/><circle cx="113.67" cy="537.35" r="4.5"/><circle cx="114" cy="537.17" r="4.5"/><circle cx="114.34" cy="536.99" r="4.5"/><circle cx="114.68" cy="536.81" r="4.5"/><circle cx="115.02" cy="536.63" r="4.5"/><circle cx="115.36" cy="536.45" r="4.5"/><circle cx="115.69" cy="536.27" r="4.5"/><circle cx="116.03" cy="536.09" r="4.5"/><circle cx="116.37" cy="535.91" r="4.5"/><circle cx="116.71" cy="535.73" r="4.5"/><circle cx="117.04" cy="535.55" r="4.5"/><circle cx="117.38" cy="535.37" r="4.5"/><circle cx="117.72" cy="535.19" r="4.5"/><circle cx="118.06" cy="535.01" r="4.5"/><circle cx="118.39" cy="534.83" r="4.5"/><circle cx="118.73" cy="534.65" r="4.5"/><circle cx="119.07" cy="534.47" r="4.5"/><circle cx="119.41" cy="534.29" r="4.5"/><circle cx="119.75" cy="534.11" r="4.5"/><circle cx="120.08" cy="533.92" r="4.5"/><circle cx="120.42" cy="533.74" r="4.5"/><circle cx="120.76" cy="533.56" r="4.5"/><circle cx="121.1" cy="533.38" r="4.5"/><circle cx="121.43" cy="533.2" r="4.5"/><circle cx="121.77" cy="533.02" r="4.5"/><circle cx="123.15" cy="532.21" r="4.5"/><circle cx="124.35" cy="531.49" r="4.5"/><circle cx="125.56" cy="530.77" r="4.5"/><circle cx="126.76" cy="530.05" r="4.5"/><circle cx="127.97" cy="529.32" r="4.5"/><circle cx="129.18" cy="528.6" r="4.5"/><circle cx="130.38" cy="527.88" r="4.5"/><circle cx="131.59" cy="527.15" r="4.5"/><circle cx="132.79" cy="526.43" r="4.5"/><circle cx="134" cy="525.71" r="4.5"/><circle cx="135.21" cy="524.99" r="4.5"/><circle cx="136.41" cy="524.27" r="4.5"/><circle cx="137.62" cy="523.55" r="4.5"/><circle cx="138.82" cy="522.83" r="4.5"/><circle cx="140.03" cy="522.11" r="4.5"/><circle cx="141.24" cy="521.39" r="4.5"/><circle cx="142.44" cy="520.67" r="4.5"/><circle cx="143.65" cy="519.95" r="4.5"/><circle cx="144.85" cy="519.23" r="4.5"/><circle cx="146.06" cy="518.51" r="4.5"/><circle cx="147.27" cy="517.83" r="4.5"/><circle cx="148.47" cy="517.15" r="4.5"/><circle cx="149.68" cy="516.47" r="4.5"/><circle cx="150.88" cy="515.79" r="4.5"/><circle cx="152.09" cy="515.11" r="4.5"/><circle cx="153.3" cy="514.43" r="4.5"/><circle cx="154.5" cy="513.75" r="4.5"/><circle cx="155.71" cy="513.07" r="4.5"/><circle cx="156.91" cy="512.39" r="4.5"/><circle cx="158.12" cy="511.7" r="4.5"/><circle cx="159.33" cy="511.02" r="4.5"/><circle cx="160.53" cy="510.34" r="4.5"/><circle cx="161.74" cy="509.66" r="4.5"/><circle cx="162.94" cy="508.98" r="4.5"/><circle cx="164.15" cy="508.29" r="4.5"/><circle cx="165.36" cy="507.61" r="4.5"/><circle cx="166.56" cy="506.93" r="4.5"/><circle cx="167.77" cy="506.25" r="4.5"/><circle cx="168.97" cy="505.56" r="4.5"/><circle cx="170.18" cy="504.88" r="4.5"/><circle cx="171.39" cy="504.2" r="4.5"/><circle cx="172.59" cy="503.53" r="4.5"/><circle cx="173.8" cy="502.86" r="4.5"/><circle cx="175" cy="502.18" r="4.5"/><circle cx="176.21" cy="501.51" r="4.5"/><circle cx="177.42" cy="500.83" r="4.5"/><circle cx="178.62" cy="500.15" r="4.5"/><circle cx="179.83" cy="499.48" r="4.5"/><circle cx="181.03" cy="498.8" r="4.5"/><circle cx="182.24" cy="498.13" r="4.5"/><circle cx="183.45" cy="497.45" r="4.5"/><circle cx="184.65" cy="496.77" r="4.5"/><circle cx="185.86" cy="496.1" r="4.5"/><circle cx="187.06" cy="495.42" r="4.5"/><circle cx="188.27" cy="494.74" r="4.5"/><circle cx="189.48" cy="494.07" r="4.5"/><circle cx="190.68" cy="493.39" r="4.5"/><circle cx="191.89" cy="492.71" r="4.5"/><circle cx="193.09" cy="492.03" r="4.5"/><circle cx="194.3" cy="491.35" r="4.5"/><circle cx="197.44" cy="489.61" r="4.5"/><circle cx="199.85" cy="488.26" r="4.5"/><circle cx="202.26" cy="486.92" r="4.5"/><circle cx="204.67" cy="485.57" r="4.5"/><circle cx="207.08" cy="484.22" r="4.5"/><circle cx="209.5" cy="482.88" r="4.5"/><circle cx="211.91" cy="481.53" r="4.5"/><circle cx="214.32" cy="480.18" r="4.5"/><circle cx="216.73" cy="478.82" r="4.5"/><circle cx="219.14" cy="477.47" r="4.5"/><circle cx="221.56" cy="476.12" r="4.5"/><circle cx="223.97" cy="474.77" r="4.5"/><circle cx="226.38" cy="473.41" r="4.5"/><circle cx="228.79" cy="472.05" r="4.5"/><circle cx="231.2" cy="470.7" r="4.5"/><circle cx="233.62" cy="469.34" r="4.5"/><circle cx="236.03" cy="467.98" r="4.5"/><circle cx="238.44" cy="466.62" r="4.5"/><circle cx="240.85" cy="465.26" r="4.5"/><circle cx="243.26" cy="463.9" r="4.5"/><circle cx="245.68" cy="462.54" r="4.5"/><circle cx="248.09" cy="461.17" r="4.5"/><circle cx="250.5" cy="459.81" r="4.5"/><circle cx="252.91" cy="458.44" r="4.5"/><circle cx="255.32" cy="457.07" r="4.5"/><circle cx="257.74" cy="455.71" r="4.5"/><circle cx="260.15" cy="454.34" r="4.5"/><circle cx="262.56" cy="452.97" r="4.5"/><circle cx="264.97" cy="451.6" r="4.5"/><circle cx="267.38" cy="450.23" r="4.5"/><circle cx="269.8" cy="448.85" r="4.5"/><circle cx="272.21" cy="447.48" r="4.5"/><circle cx="274.62" cy="446.1" r="4.5"/><circle cx="277.03" cy="444.73" r="4.5"/><circle cx="279.44" cy="443.35" r="4.5"/><circle cx="281.86" cy="441.98" r="4.5"/><circle cx="284.27" cy="440.6" r="4.5"/><circle cx="286.68" cy="439.22" r="4.5"/><circle cx="289.09" cy="437.84" r="4.5"/><circle cx="291.5" cy="436.46" r="4.5"/><circle cx="293.92" cy="435.07" r="4.5"/><circle cx="296.33" cy="433.69" r="4.5"/><circle cx="298.74" cy="432.31" r="4.5"/><circle cx="301.15" cy="430.92" r="4.5"/><circle cx="303.56" cy="429.53" r="4.5"/><circle cx="305.98" cy="428.15" r="4.5"/><circle cx="308.39" cy="426.76" r="4.5"/><circle cx="310.8" cy="425.37" r="4.5"/><circle cx="313.21" cy="423.98" r="4.5"/><circle cx="315.62" cy="422.59" r="4.5"/><circle cx="318.04" cy="421.2" r="4.5"/><circle cx="320.45" cy="419.8" r="4.5"/><circle cx="322.86" cy="418.41" r="4.5"/><circle cx="325.27" cy="417.01" r="4.5"/><circle cx="327.68" cy="415.62" r="4.5"/><circle cx="330.1" cy="414.22" r="4.5"/><circle cx="332.51" cy="412.82" r="4.5"/><circle cx="334.92" cy="411.42" r="4.5"/><circle cx="337.33" cy="410.02" r="4.5"/><circle cx="339.74" cy="408.62" r="4.5"/><circle cx="342.16" cy="407.22" r="4.5"/><circle cx="344.57" cy="405.82" r="4.5"/><circle cx="346.98" cy="404.41" r="4.5"/><circle cx="349.39" cy="403.01" r="4.5"/><circle cx="351.8" cy="401.6" r="4.5"/><circle cx="354.22" cy="400.2" r="4.5"/><circle cx="356.63" cy="398.79" r="4.5"/><circle cx="359.04" cy="397.38" r="4.5"/><circle cx="361.45" cy="395.97" r="4.5"/><circle cx="363.86" cy="394.56" r="4.5"/><circle cx="366.28" cy="393.15" r="4.5"/><circle cx="368.69" cy="391.73" r="4.5"/><circle cx="371.1" cy="390.32" r="4.5"/><circle cx="373.51" cy="388.91" r="4.5"/><circle cx="375.92" cy="387.49" r="4.5"/><circle cx="378.34" cy="386.07" r="4.5"/><circle cx="380.75" cy="384.66" r="4.5"/><circle cx="383.16" cy="383.24" r="4.5"/><circle cx="385.57" cy="381.82" r="4.5"/><circle cx="387.98" cy="380.4" r="4.5"/><circle cx="390.4" cy="378.98" r="4.5"/><circle cx="392.81" cy="377.55" r="4.5"/><circle cx="395.22" cy="376.13" r="4.5"/><circle cx="397.63" cy="374.71" r="4.5"/><circle cx="400.04" cy="373.28" r="4.5"/><circle cx="402.46" cy="371.85" r="4.5"/><circle cx="404.87" cy="370.43" r="4.5"/><circle cx="407.28" cy="369" r="4.5"/><circle cx="409.69" cy="367.57" r="4.5"/><circle cx="412.1" cy="366.14" r="4.5"/><circle cx="414.52" cy="364.71" r="4.5"/><circle cx="416.93" cy="363.27" r="4.5"/><circle cx="419.34" cy="361.84" r="4.5"/><circle cx="421.75" cy="360.41" r="4.5"/><circle cx="424.16" cy="358.97" r="4.5"/><circle cx="426.58" cy="357.54" r="4.5"/><circle cx="428.99" cy="356.1" r="4.5"/><circle cx="431.4" cy="354.66" r="4.5"/><circle cx="433.81" cy="353.22" r="4.5"/><circle cx="436.22" cy="351.78" r="4.5"/>
</g>
<g fill="#fff" stroke="#0f0" stroke-width="1.0" stroke-linejoin="miter">
<path d="M71.11 530.17h10l-5 9z"/><path d="M71.27 530.18h10l-5 9z"/><path d="M71.43 530.18h10l-5 9z"/><path d="M71.58 530.19h10l-5 9z"/><path d="M71.74 530.2h10l-5 9z"/><path d="M71.9 530.2h10l-5 9z"/><path d="M72.05 530.21h10l-5 9z"/><path d="M72.21 530.22h10l-5 9z"/><path d="M72.37 530.22h10l-5 9z"/><path d="M72.52 530.23h10l-5 9z"/><path d="M72.68 530.24h10l-5 9z"/><path d="M72.84 530.24h10l-5 9z"/><path d="M72.99 530.25h10l-5 9z"/><path d="M73.15 530.26h10l-5 9z"/><path d="M73.31 530.26h10l-5 9z"/><path d="M73.46 530.27h10l-5 9z"/><path d="M73.62 530.3h10l-5 9z"/><path d="M73.78 530.36h10l-5 9z"/><path d="M73.93 530.41h10l-5 9z"/><path d="M74.09 530.46h10l-5 9z"/><path d="M74.25 530.51h10l-5 9z"/><path d="M74.4 530.56h10l-5 9z"/><path d="M74.56 530.61h10l-5 9z"/><path d="M74.72 530.66h10l-5 9z"/><path d="M74.87 530.72h10l-5 9z"/><path d="M75.03 530.77h10l-5 9z"/><path d="M75.19 530.83h10l-5 9z"/><path d="M75.35 530.89h10l-5 9z"/><path d="M75.5 530.94h10l-5 9z"/><path d="M75.66 531h10l-5 9z"/><path d="M75.82 531.05h10l-5 9z"/><path d="M75.97 531.12h10l-5 9z"/><path d="M76.13 531.22h10l-5 9z"/><path d="M76.29 531.32h10l-5 9z"/><path d="M76.44 531.42h10l-5 9z"/><path d="M76.6 531.52h10l-5 9z"/><path d="M76.76 531.61h10l-5 9z"/><path d="M76.91 531.71h10l-5 9z"/><path d="M77.07 531.81h10l-5 9z"/><path d="M77.23 531.91h10l-5 9z"/><path d="M77.38 532h10l-5 9z"/><path d="M77.54 532.1h10l-5 9z"/><path d="M77.7 532.2h10l-5 9z"/><path d="M77.85 532.29h10l-5 9z"/><path d="M78.01 532.39h10l-5 9z"/><path d="M78.17 532.48h10l-5 9z"/><path d="M78.32 532.58h10l-5 9z"/><path d="M78.48 532.71h10l-5 9z"/><path d="M78.64 532.85h10l-5 9z"/><path d="M78.79 532.99h10l-5 9z"/><path d="M78.95 533.12h10l-5 9z"/><path d="M79.49 533.59h10l-5 9z"/><path d="M79.98 534.02h10l-5 9z"/><path d="M80.52 534.48h10l-5 9z"/><path d="M80.7 534.64h10l-5 9z"/><path d="M80.88 534.81h10l-5 9z"/><path d="M81.06 534.99h10l-5 9z"/><path d="M81.24 535.17h10l-5 9z"/><path d="M81.42 535.35h10l-5 9z"/><path d="M81.6 535.52h10l-5 9z"/><path d="M81.79 535.7h10l-5 9z"/><path d="M81.97 535.87h10l-5 9z"/><path d="M82.15 536.04h10l-5 9z"/><path d="M82.33 536.21h10l-5 9z"/><path d="M82.51 536.38h10l-5 9z"/><path d="M82.69 536.55h10l-5 9z"/><path d="M82.87 536.72h10l-5 9z"/><path d="M83.05 536.88h10l-5 9z"/><path d="M83.23 537.05h10l-5 9z"/><path d="M83.41 537.21h10l-5 9z"/><path d="M83.59 537.37h10l-5 9z"/><path d="M83.78 537.53h10l-5 9z"/><path d="M83.96 537.69h10l-5 9z"/><path d="M84.14 537.84h10l-5 9z"/><path d="M84.32 538h10l-5 9z"/><path d="M84.5 538.16h10l-5 9z"/><path d="M84.68 538.32h10l-5 9z"/><path d="M84.86 538.47h10l-5 9z"/><path d="M85.04 538.63h10l-5 9z"/><path d="M85.22 538.78h10l-5 9z"/><path d="M85.4 538.94h10l-5 9z"/><path d="M85.58 539.09h10l-5 9z"/><path d="M85.76 539.23h10l-5 9z"/><path d="M85.95 539.37h10l-5 9z"/><path d="M86.13 539.51h10l-5 9z"/><path d="M86.31 539.65h10l-5 9z"/><path d="M86.49 539.79h10l-5 9z"/><path d="M86.67 539.93h10l-5 9z"/><path d="M86.85 540.07h10l-5 9z"/><path d="M87.03 540.2h10l-5 9z"/><path d="M87.21 540.34h10l-5 9z"/><path d="M87.39 540.47h10l-5 9z"/><path d="M87.57 540.6h10l-5 9z"/><path d="M87.75 540.74h10l-5 9z"/><path d="M87.94 540.87h10l-5 9z"/><path d="M88.12 540.98h10l-5 9z"/><path d="M88.3 541.09h10l-5 9z"/><path d="M88.48 541.19h10l-5 9z"/><path d="M88.66 541.3h10l-5 9z"/><path d="M88.84 541.4h10l-5 9z"/><path d="M89.02 541.5h10l-5 9z"/><path d="M89.2 541.61h10l-5 9z"/><path d="M89.38 541.71h10l-5 9z"/><path d="M89.56 541.81h10l-5 9z"/><path d="M89.74 541.91h10l-5 9z"/><path d="M89.93 542.01h10l-5 9z"/><path d="M90.11 542.11h10l-5 9z"/><path d="M90.29 542.21h10l-5 9z"/><path d="M90.47 542.25h10l-5 9z"/><path d="M90.77 542.13h10l-5 9z"/><path d="M91.11 541.98h10l-5 9z"/><path d="M91.45 541.84h10l-5 9z"/><path d="M91.78 541.7h10l-5 9z"/><path d="M92.12 541.56h10l-5 9z"/><path d="M92.46 541.42h10l-5 9z"/><path d="M92.8 541.27h10l-5 9z"/><path d="M93.13 541.13h10l-5 9z"/><path d="M93.47 540.99h10l-5 9z"/><path d="M93.81 540.85h10l-5 9z"/><path d="M94.15 540.71h10l-5 9z"/><path d="M94.48 540.56h10l-5 9z"/><path d="M94.82 540.42h10l-5 9z"/><path d="M95.16 540.28h10l-5 9z"/><path d="M95.5 540.14h10l-5 9z"/><path d="M95.84 540h10l-5 9z"/><path d="M96.17 539.85h10l-5 9z"/><path d="M96.51 539.71h10l-5 9z"/><path d="M96.85 539.57h10l-5 9z"/><path d="M97.19 539.43h10l-5 9z"/><path d="M97.52 539.28h10l-5 9z"/><path d="M97.86 539.14h10l-5 9z"/><path d="M98.2 539h10l-5 9z"/><path d="M98.54 538.86h10l-5 9z"/><path d="M98.87 538.71h10l-5 9z"/><path d="M99.21 538.56h10l-5 9z"/><path d="M99.55 538.4h10l-5 9z"/><path d="M99.89 538.25h10l-5 9z"/><path d="M100.22 538.09h10l-5 9z"/><path d="M100.56 537.93h10l-5 9z"/><path d="M100.9 537.78h10l-5 9z"/><path d="M101.24 537.62h10l-5 9z"/><path d="M101.58 537.46h10l-5 9z"/><path d="M101.91 537.31h10l-5 9z"/><path d="M102.25 537.15h10l-5 9z"/><path d="M102.59 537h10l-5 9z"/><path d="M102.93 536.84h10l-5 9z"/><path d="M103.26 536.68h10l-5 9z"/><path d="M103.6 536.53h10l-5 9z"/><path d="M103.94 536.37h10l-5 9z"/><path d="M104.28 536.21h10l-5 9z"/><path d="M104.61 536.06h10l-5 9z"/><path d="M104.95 535.9h10l-5 9z"/><path d="M105.29 535.74h10l-5 9z"/><path d="M105.63 535.59h10l-5 9z"/><path d="M105.97 535.43h10l-5 9z"/><path d="M106.3 535.27h10l-5 9z"/><path d="M106.64 535.12h10l-5 9z"/><path d="M106.98 534.96h10l-5 9z"/><path d="M107.32 534.8h10l-5 9z"/><path d="M107.65 534.62h10l-5 9z"/><path d="M107.99 534.44h10l-5 9z"/><path d="M108.33 534.27h10l-5 9z"/><path d="M108.67 534.09h10l-5 9z"/><path d="M109 533.91h10l-5 9z"/><path d="M109.34 533.73h10l-5 9z"/><path d="M109.68 533.55h10l-5 9z"/><path d="M110.02 533.37h10l-5 9z"/><path d="M110.36 533.19h10l-5 9z"/><path d="M110.69 533.01h10l-5 9z"/><path d="M111.03 532.83h10l-5 9z"/><path d="M111.37 532.65h10l-5 9z"/><path d="M111.71 532.47h10l-5 9z"/><path d="M112.04 532.29h10l-5 9z"/><path d="M112.38 532.11h10l-5 9z"/><path d="M112.72 531.94h10l-5 9z"/><path d="M113.06 531.76h10l-5 9z"/><path d="M113.39 531.58h10l-5 9z"/><path d="M113.73 531.4h10l-5 9z"/><path d="M114.07 531.22h10l-5 9z"/><path d="M114.41 531.04h10l-5 9z"/><path d="M114.75 530.86h10l-5 9z"/><path d="M115.08 530.68h10l-5 9z"/><path d="M115.42 530.5h10l-5 9z"/><path d="M115.76 530.32h10l-5 9z"/><path d="M116.1 530.14h10l-5 9z"/><path d="M116.43 529.96h10l-5 9z"/><path d="M116.77 529.78h10l-5 9z"/><path d="M118.15 528.97h10l-5 9z"/><path d="M119.35 528.26h10l-5 9z"/><path d="M120.56 527.54h10l-5 9z"/><path d="M121.76 526.82h10l-5 9z"/><path d="M122.97 526.1h10l-5 9z"/><path d="M124.18 525.38h10l-5 9z"/><path d="M125.38 524.66h10l-5 9z"/><path d="M126.59 523.94h10l-5 9z"/><path d="M127.79 523.22h10l-5 9z"/><path d="M129 522.5h10l-5 9z"/><path d="M130.21 521.79h10l-5 9z"/><path d="M131.41 521.07h10l-5 9z"/><path d="M132.62 520.35h10l-5 9z"/><path d="M133.82 519.64h10l-5 9z"/><path d="M135.03 518.92h10l-5 9z"/><path d="M136.24 518.21h10l-5 9z"/><path d="M137.44 517.49h10l-5 9z"/><path d="M138.65 516.77h10l-5 9z"/><path d="M139.85 516.06h10l-5 9z"/><path d="M141.06 515.34h10l-5 9z"/><path d="M142.27 514.66h10l-5 9z"/><path d="M143.47 513.99h10l-5 9z"/><path d="M144.68 513.31h10l-5 9z"/><path d="M145.88 512.64h10l-5 9z"/><path d="M147.09 511.96h10l-5 9z"/><path d="M148.3 511.29h10l-5 9z"/><path d="M149.5 510.61h10l-5 9z"/><path d="M150.71 509.93h10l-5 9z"/><path d="M151.91 509.26h10l-5 9z"/><path d="M153.12 508.58h10l-5 9z"/><path d="M154.33 507.91h10l-5 9z"/><path d="M155.53 507.23h10l-5 9z"/><path d="M156.74 506.55h10l-5 9z"/><path d="M157.94 505.87h10l-5 9z"/><path d="M159.15 505.2h10l-5 9z"/><path d="M160.36 504.52h10l-5 9z"/><path d="M161.56 503.84h10l-5 9z"/><path d="M162.77 503.16h10l-5 9z"/><path d="M163.97 502.48h10l-5 9z"/><path d="M165.18 501.81h10l-5 9z"/><path d="M166.39 501.14h10l-5 9z"/><path d="M167.59 500.47h10l-5 9z"/><path d="M168.8 499.8h10l-5 9z"/><path d="M170 499.13h10l-5 9z"/><path d="M171.21 498.46h10l-5 9z"/><path d="M172.42 497.79h10l-5 9z"/><path d="M173.62 497.12h10l-5 9z"/><path d="M174.83 496.45h10l-5 9z"/><path d="M176.03 495.78h10l-5 9z"/><path d="M177.24 495.11h10l-5 9z"/><path d="M178.45 494.44h10l-5 9z"/><path d="M179.65 493.77h10l-5 9z"/><path d="M180.86 493.1h10l-5 9z"/><path d="M182.06 492.43h10l-5 9z"/><path d="M183.27 491.76h10l-5 9z"/><path d="M184.48 491.09h10l-5 9z"/><path d="M185.68 490.41h10l-5 9z"/><path d="M186.89 489.74h10l-5 9z"/><path d="M188.09 489.07h10l-5 9z"/><path d="M189.3 488.4h10l-5 9z"/><path d="M192.44 486.67h10l-5 9z"/><path d="M194.85 485.34h10l-5 9z"/><path d="M197.26 484.01h10l-5 9z"/><path d="M199.67 482.67h10l-5 9z"/><path d="M202.08 481.34h10l-5 9z"/><path d="M204.5 480.01h10l-5 9z"/><path d="M206.91 478.67h10l-5 9z"/><path d="M209.32 477.34h10l-5 9z"/><path d="M211.73 476h10l-5 9z"/><path d="M214.14 474.66h10l-5 9z"/><path d="M216.56 473.33h10l-5 9z"/><path d="M218.97 471.99h10l-5 9z"/><path d="M221.38 470.65h10l-5 9z"/><path d="M223.79 469.31h10l-5 9z"/><path d="M226.2 467.97h10l-5 9z"/><path d="M228.62 466.63h10l-5 9z"/><path d="M231.03 465.28h10l-5 9z"/><path d="M233.44 463.94h10l-5 9z"/><path d="M235.85 462.6h10l-5 9z"/><path d="M238.26 461.25h10l-5 9z"/><path d="M240.68 459.91h10l-5 9z"/><path d="M243.09 458.56h10l-5 9z"/><path d="M245.5 457.22h10l-5 9z"/><path d="M247.91 455.87h10l-5 9z"/><path d="M250.32 454.52h10l-5 9z"/><path d="M252.74 453.17h10l-5 9z"/><path d="M255.15 451.82h10l-5 9z"/><path d="M257.56 450.47h10l-5 9z"/><path d="M259.97 449.12h10l-5 9z"/><path d="M262.38 447.77h10l-5 9z"/><path d="M264.8 446.41h10l-5 9z"/><path d="M267.21 445.06h10l-5 9z"/><path d="M269.62 443.71h10l-5 9z"/><path d="M272.03 442.35h10l-5 9z"/><path d="M274.44 441h10l-5 9z"/><path d="M276.86 439.64h10l-5 9z"/><path d="M279.27 438.28h10l-5 9z"/><path d="M281.68 436.92h10l-5 9z"/><path d="M284.09 435.56h10l-5 9z"/><path d="M286.5 434.21h10l-5 9z"/><path d="M288.92 432.84h10l-5 9z"/><path d="M291.33 431.48h10l-5 9z"/><path d="M293.74 430.12h10l-5 9z"/><path d="M296.15 428.76h10l-5 9z"/><path d="M298.56 427.4h10l-5 9z"/><path d="M300.98 426.03h10l-5 9z"/><path d="M303.39 424.67h10l-5 9z"/><path d="M305.8 423.3h10l-5 9z"/><path d="M308.21 421.94h10l-5 9z"/><path d="M310.62 420.57h10l-5 9z"/><path d="M313.04 419.2h10l-5 9z"/><path d="M315.45 417.83h10l-5 9z"/><path d="M317.86 416.46h10l-5 9z"/><path d="M320.27 415.09h10l-5 9z"/><path d="M322.68 413.72h10l-5 9z"/><path d="M325.1 412.35h10l-5 9z"/><path d="M327.51 410.98h10l-5 9z"/><path d="M329.92 409.61h10l-5 9z"/><path d="M332.33 408.23h10l-5 9z"/><path d="M334.74 406.86h10l-5 9z"/><path d="M337.16 405.48h10l-5 9z"/><path d="M339.57 404.11h10l-5 9z"/><path d="M341.98 402.73h10l-5 9z"/><path d="M344.39 401.35h10l-5 9z"/><path d="M346.8 399.97h10l-5 9z"/><path d="M349.22 398.59h10l-5 9z"/><path d="M351.63 397.21h10l-5 9z"/><path d="M354.04 395.83h10l-5 9z"/><path d="M356.45 394.45h10l-5 9z"/><path d="M358.86 393.07h10l-5 9z"/><path d="M361.28 391.69h10l-5 9z"/><path d="M363.69 390.3h10l-5 9z"/><path d="M366.1 388.92h10l-5 9z"/><path d="M368.51 387.54h10l-5 9z"/><path d="M370.92 386.15h10l-5 9z"/><path d="M373.34 384.76h10l-5 9z"/><path d="M375.75 383.38h10l-5 9z"/><path d="M378.16 381.99h10l-5 9z"/><path d="M380.57 380.6h10l-5 9z"/><path d="M382.98 379.21h10l-5 9z"/><path d="M385.4 377.82h10l-5 9z"/><path d="M387.81 376.43h10l-5 9z"/><path d="M390.22 375.04h10l-5 9z"/><path d="M392.63 373.64h10l-5 9z"/><path d="M395.04 372.25h10l-5 9z"/><path d="M397.46 370.86h10l-5 9z"/><path d="M399.87 369.46h10l-5 9z"/><path d="M402.28 368.07h10l-5 9z"/><path d="M404.69 366.67h10l-5 9z"/><path d="M407.1 365.27h10l-5 9z"/><path d="M409.52 363.88h10l-5 9z"/><path d="M411.93 362.48h10l-5 9z"/><path d="M414.34 361.08h10l-5 9z"/><path d="M416.75 359.68h10l-5 9z"/><path d="M419.16 358.28h10l-5 9z"/><path d="M421.58 356.88h10l-5 9z"/><path d="M423.99 355.47h10l-5 9z"/><path d="M426.4 354.07h10l-5 9z"/><path d="M428.81 352.67h10l-5 9z"/><path d="M431.22 351.26h10l-5 9z"/>
</g>
</g>
<rect x="76.8" y="332.1" width="358.7" height="249.5" fill="none" stroke="#000" stroke-width="1.7"/>
<path d="M103.85 332.1v1.3M134 332.1v1.3M164.15 332.1v1.3M194.3 332.1v1.3M224.45 332.1v1.3M254.6 332.1v1.3M284.75 332.1v1.3M314.9 332.1v1.3M345.05 332.1v1.3M375.2 332.1v1.3M405.35 332.1v1.3" stroke="#000" stroke-width="1.0" fill="none"/>
<path d="M435.5 556.65h-1.3M435.5 531.7h-1.3M435.5 506.75h-1.3M435.5 481.8h-1.3M435.5 456.85h-1.3M435.5 431.9h-1.3M435.5 406.95h-1.3M435.5 382h-1.3M435.5 357.05h-1.3" stroke="#000" stroke-width="1.0" fill="none"/>
<path d="M134 581.6v-7.5M194.3 581.6v-7.5M254.6 581.6v-7.5M314.9 581.6v-7.5M375.2 581.6v-7.5" stroke="#000" stroke-width="1.5" fill="none"/>
<path d="M103.85 581.6v-4.2M164.15 581.6v-4.2M224.45 581.6v-4.2M284.75 581.6v-4.2M345.05 581.6v-4.2M405.35 581.6v-4.2" stroke="#000" stroke-width="1.5" fill="none"/>
<path d="M76.8 531.7h7.5M76.8 481.8h7.5M76.8 431.9h7.5M76.8 382h7.5" stroke="#000" stroke-width="1.5" fill="none"/>
<path d="M76.8 556.65h4.2M76.8 506.75h4.2M76.8 456.85h4.2M76.8 406.95h4.2M76.8 357.05h4.2" stroke="#000" stroke-width="1.5" fill="none"/>
<text x="134" y="603.7" font-size="18" text-anchor="middle" fill="#000" >50</text>
<text x="194.3" y="603.7" font-size="18" text-anchor="middle" fill="#000" >100</text>
<text x="254.6" y="603.7" font-size="18" text-anchor="middle" fill="#000" >150</text>
<text x="314.9" y="603.7" font-size="18" text-anchor="middle" fill="#000" >200</text>
<text x="375.2" y="603.7" font-size="18" text-anchor="middle" fill="#000" >250</text>
<text x="435.5" y="603.7" font-size="18" text-anchor="middle" fill="#000" >300</text>
<text x="68.8" y="587.2" font-size="18" text-anchor="end" fill="#000" >0</text>
<text x="68.8" y="537.3" font-size="18" text-anchor="end" fill="#000" >10</text>
<text x="68.8" y="487.4" font-size="18" text-anchor="end" fill="#000" >20</text>
<text x="68.8" y="437.5" font-size="18" text-anchor="end" fill="#000" >30</text>
<text x="68.8" y="387.6" font-size="18" text-anchor="end" fill="#000" >40</text>
<text x="68.8" y="337.7" font-size="18" text-anchor="end" fill="#000" >50</text>
<text x="256" y="629.7" font-size="18.5" text-anchor="middle" fill="#000"  textLength="133.8" lengthAdjust="spacingAndGlyphs">Temperature (K)</text>
<text transform="translate(34 459.2) rotate(-90)" font-size="18.5" text-anchor="middle" fill="#000" textLength="115.6" lengthAdjust="spacingAndGlyphs">H/M (mol/emu)</text>
<text x="99.7" y="369.3" font-size="18.5" text-anchor="start" fill="#000" >(b)</text>
<text x="137" y="397.8" font-size="18" text-anchor="start" fill="#000" >EuPd<tspan font-size="11" dy="7.3">2</tspan><tspan dy="-7.3" font-size="1">&#8203;</tspan>P<tspan font-size="11" dy="7.3">2</tspan><tspan dy="-7.3" font-size="1">&#8203;</tspan></text>
<text x="135.7" y="424" font-size="18" text-anchor="start" fill="#000" >H=10 kOe</text>
<rect x="315.5" y="493.4" width="79.6" height="47" fill="#fff" stroke="#444" stroke-width="1"/>
<rect x="329.3" y="499.6" width="7.6" height="7.6" fill="#fff" stroke="#000" stroke-width="1"/>
<circle cx="333.1" cy="518.4" r="4.1" fill="#fff" stroke="#f00" stroke-width="1"/>
<path d="M328.3 531.4h9.6l-4.8 8.2z" fill="#fff" stroke="#0f0" stroke-width="1"/>
<text x="349.8" y="507.3" font-size="11.3" text-anchor="start" fill="#000" >H <tspan fill="#555">||</tspan> <tspan font-style="italic">c</tspan></text>
<text x="349.8" y="522.4" font-size="11.3" text-anchor="start" fill="#000" >H <tspan fill="#555">||</tspan> <tspan font-style="italic">ab</tspan></text>
<text x="349.8" y="537.4" font-size="11.3" text-anchor="start" fill="#000" >Average</text>
<path d="M599.75 218.39L602.31 217.03M611.05 212.18L613.77 210.62M622.44 205.63L625.15 204.08M633.82 199.1L636.53 197.55M645.2 192.58L647.9 191.04M656.59 186.08L659.28 184.54M667.97 179.59L670.66 178.06M679.36 173.12L682.04 171.6M690.74 166.67L693.42 165.15M702.12 160.23L704.8 158.72M713.51 153.8L716.18 152.3M724.89 147.39L727.56 145.89M736.28 141L738.94 139.51M747.66 134.62L750.31 133.14M759.04 128.26L761.69 126.78M770.43 121.91L773.07 120.44M781.81 115.58L784.45 114.11M793.2 109.26L795.83 107.8M804.58 102.96L807.21 101.51M815.96 96.68L818.59 95.23M827.35 90.41L829.97 88.97M838.73 84.15L841.35 82.72M850.12 77.91L852.73 76.49M861.5 71.69L864.1 70.27M872.88 65.48L875.48 64.07" fill="none" stroke="#000" stroke-width="1.3"/>
<g fill="#fff" stroke="#000" stroke-width="1.3">
<rect x="572.7" y="231.05" width="6.6" height="6.6"/><rect x="573.56" y="230.45" width="6.6" height="6.6"/><rect x="574.41" y="229.84" width="6.6" height="6.6"/><rect x="575.27" y="229.24" width="6.6" height="6.6"/><rect x="576.13" y="228.64" width="6.6" height="6.6"/><rect x="576.98" y="228.04" width="6.6" height="6.6"/><rect x="577.84" y="227.43" width="6.6" height="6.6"/><rect x="578.69" y="226.83" width="6.6" height="6.6"/><rect x="579.55" y="226.23" width="6.6" height="6.6"/><rect x="580.41" y="225.63" width="6.6" height="6.6"/><rect x="581.26" y="225.02" width="6.6" height="6.6"/><rect x="582.12" y="224.42" width="6.6" height="6.6"/><rect x="582.98" y="223.82" width="6.6" height="6.6"/><rect x="583.83" y="223.22" width="6.6" height="6.6"/><rect x="584.69" y="222.61" width="6.6" height="6.6"/><rect x="585.55" y="222.01" width="6.6" height="6.6"/><rect x="586.4" y="221.41" width="6.6" height="6.6"/><rect x="587.26" y="220.81" width="6.6" height="6.6"/><rect x="588.11" y="220.2" width="6.6" height="6.6"/><rect x="588.97" y="219.6" width="6.6" height="6.6"/><rect x="589.83" y="219" width="6.6" height="6.6"/><rect x="592.04" y="217.44" width="6.6" height="6.6"/><rect x="603.42" y="211.38" width="6.6" height="6.6"/><rect x="614.8" y="204.82" width="6.6" height="6.6"/><rect x="626.18" y="198.29" width="6.6" height="6.6"/><rect x="637.56" y="191.76" width="6.6" height="6.6"/><rect x="648.95" y="185.26" width="6.6" height="6.6"/><rect x="660.33" y="178.77" width="6.6" height="6.6"/><rect x="671.71" y="172.29" width="6.6" height="6.6"/><rect x="683.09" y="165.83" width="6.6" height="6.6"/><rect x="694.47" y="159.39" width="6.6" height="6.6"/><rect x="705.85" y="152.96" width="6.6" height="6.6"/><rect x="717.23" y="146.54" width="6.6" height="6.6"/><rect x="728.62" y="140.14" width="6.6" height="6.6"/><rect x="740" y="133.76" width="6.6" height="6.6"/><rect x="751.38" y="127.39" width="6.6" height="6.6"/><rect x="762.76" y="121.04" width="6.6" height="6.6"/><rect x="774.14" y="114.71" width="6.6" height="6.6"/><rect x="785.52" y="108.39" width="6.6" height="6.6"/><rect x="796.9" y="102.08" width="6.6" height="6.6"/><rect x="808.29" y="95.79" width="6.6" height="6.6"/><rect x="819.67" y="89.52" width="6.6" height="6.6"/><rect x="831.05" y="83.26" width="6.6" height="6.6"/><rect x="842.43" y="77.01" width="6.6" height="6.6"/><rect x="853.81" y="70.79" width="6.6" height="6.6"/><rect x="865.19" y="64.57" width="6.6" height="6.6"/><rect x="876.58" y="58.38" width="6.6" height="6.6"/>
</g>
<path d="M760.45 150.31L761.72 148.02M765.92 140.29L767.31 137.69" fill="none" stroke="#f00" stroke-width="1.2"/>
<g fill="#fff" stroke="#f00" stroke-width="1.3">
<circle cx="576" cy="234.35" r="3.3"/><circle cx="581.52" cy="231.94" r="3.3"/><circle cx="587.05" cy="229.53" r="3.3"/><circle cx="592.58" cy="227.12" r="3.3"/><circle cx="598.1" cy="224.71" r="3.3"/><circle cx="603.62" cy="222.3" r="3.3"/><circle cx="609.15" cy="220.04" r="3.3"/><circle cx="614.67" cy="217.78" r="3.3"/><circle cx="620.2" cy="215.52" r="3.3"/><circle cx="625.72" cy="213.25" r="3.3"/><circle cx="631.25" cy="210.99" r="3.3"/><circle cx="636.77" cy="208.72" r="3.3"/><circle cx="642.3" cy="206.45" r="3.3"/><circle cx="647.83" cy="204.17" r="3.3"/><circle cx="653.35" cy="201.9" r="3.3"/><circle cx="658.88" cy="199.63" r="3.3"/><circle cx="664.4" cy="197.35" r="3.3"/><circle cx="669.92" cy="195.08" r="3.3"/><circle cx="675.45" cy="192.81" r="3.3"/><circle cx="680.98" cy="190.54" r="3.3"/><circle cx="686.5" cy="188.26" r="3.3"/><circle cx="692.02" cy="185.94" r="3.3"/><circle cx="697.55" cy="183.62" r="3.3"/><circle cx="703.08" cy="181.29" r="3.3"/><circle cx="708.6" cy="178.97" r="3.3"/><circle cx="714.12" cy="176.65" r="3.3"/><circle cx="719.65" cy="174.37" r="3.3"/><circle cx="725.17" cy="172.09" r="3.3"/><circle cx="730.7" cy="169.81" r="3.3"/><circle cx="736.23" cy="167.53" r="3.3"/><circle cx="741.75" cy="165.03" r="3.3"/><circle cx="747.27" cy="162.16" r="3.3"/><circle cx="752.8" cy="159.16" r="3.3"/><circle cx="758.33" cy="154.16" r="3.3"/><circle cx="763.85" cy="144.17" r="3.3"/><circle cx="769.38" cy="133.81" r="3.3"/><circle cx="774.9" cy="127.19" r="3.3"/><circle cx="780.42" cy="121.94" r="3.3"/><circle cx="785.95" cy="116.94" r="3.3"/><circle cx="791.48" cy="113.2" r="3.3"/><circle cx="797" cy="109.45" r="3.3"/><circle cx="802.52" cy="105.7" r="3.3"/><circle cx="808.05" cy="102.21" r="3.3"/><circle cx="813.58" cy="98.71" r="3.3"/><circle cx="819.1" cy="95.21" r="3.3"/><circle cx="824.62" cy="91.71" r="3.3"/><circle cx="830.15" cy="87.97" r="3.3"/><circle cx="835.67" cy="84.22" r="3.3"/><circle cx="841.2" cy="80.47" r="3.3"/><circle cx="846.73" cy="76.73" r="3.3"/><circle cx="852.25" cy="72.98" r="3.3"/><circle cx="857.77" cy="69.31" r="3.3"/><circle cx="863.3" cy="65.64" r="3.3"/><circle cx="868.83" cy="61.96" r="3.3"/><circle cx="874.35" cy="58.29" r="3.3"/><circle cx="879.88" cy="54.62" r="3.3"/>
</g>
<rect x="548.4" y="16" width="359.1" height="249.5" fill="none" stroke="#000" stroke-width="1.7"/>
<path d="M576 16v1.3M603.62 16v1.3M631.25 16v1.3M658.88 16v1.3M686.5 16v1.3M714.12 16v1.3M741.75 16v1.3M769.38 16v1.3M797 16v1.3M824.62 16v1.3M852.25 16v1.3M879.88 16v1.3" stroke="#000" stroke-width="1.0" fill="none"/>
<path d="M907.5 234.35h-1.3M907.5 203.12h-1.3M907.5 171.9h-1.3M907.5 140.67h-1.3M907.5 109.45h-1.3M907.5 78.22h-1.3M907.5 47h-1.3" stroke="#000" stroke-width="1.0" fill="none"/>
<path d="M576 265.5v-7.5M631.25 265.5v-7.5M686.5 265.5v-7.5M741.75 265.5v-7.5M797 265.5v-7.5M852.25 265.5v-7.5" stroke="#000" stroke-width="1.5" fill="none"/>
<path d="M603.62 265.5v-4.2M658.88 265.5v-4.2M714.12 265.5v-4.2M769.38 265.5v-4.2M824.62 265.5v-4.2M879.88 265.5v-4.2" stroke="#000" stroke-width="1.5" fill="none"/>
<path d="M548.4 234.35h7.5M548.4 171.9h7.5M548.4 109.45h7.5M548.4 47h7.5" stroke="#000" stroke-width="1.5" fill="none"/>
<path d="M548.4 203.12h4.2M548.4 140.67h4.2M548.4 78.22h4.2" stroke="#000" stroke-width="1.5" fill="none"/>
<text x="576" y="286.5" font-size="18" text-anchor="middle" fill="#000" >0</text>
<text x="631.25" y="286.5" font-size="18" text-anchor="middle" fill="#000" >10</text>
<text x="686.5" y="286.5" font-size="18" text-anchor="middle" fill="#000" >20</text>
<text x="741.75" y="286.5" font-size="18" text-anchor="middle" fill="#000" >30</text>
<text x="797" y="286.5" font-size="18" text-anchor="middle" fill="#000" >40</text>
<text x="852.25" y="286.5" font-size="18" text-anchor="middle" fill="#000" >50</text>
<text x="907.5" y="286.5" font-size="18" text-anchor="middle" fill="#000" >60</text>
<text x="537.3" y="240.55" font-size="18" text-anchor="end" fill="#000" >0.0</text>
<text x="537.3" y="178.1" font-size="18" text-anchor="end" fill="#000" >0.5</text>
<text x="537.3" y="115.65" font-size="18" text-anchor="end" fill="#000" >1.0</text>
<text x="537.3" y="53.2" font-size="18" text-anchor="end" fill="#000" >1.5</text>
<text x="735.9" y="310.8" font-size="18.5" text-anchor="middle" fill="#000"  textLength="167.6" lengthAdjust="spacingAndGlyphs">Magnetic Field (kOe)</text>
<text transform="translate(504 143) rotate(-90)" font-size="18.35" text-anchor="middle" fill="#000">Magnetic Moment (μ<tspan font-size="10.5" dy="4">B</tspan><tspan dy="-4" font-size="1">&#8203;</tspan>/f.u.)</text>
<text x="823.1" y="41" font-size="18.3" text-anchor="start" fill="#000" >(c)</text>
<text x="800.7" y="156.8" font-size="18" text-anchor="start" fill="#000" >EuPd<tspan font-size="11" dy="7.3">2</tspan><tspan dy="-7.3" font-size="1">&#8203;</tspan>P<tspan font-size="11" dy="7.3">2</tspan><tspan dy="-7.3" font-size="1">&#8203;</tspan></text>
<text x="810" y="179.4" font-size="18" text-anchor="start" fill="#000" >T=2 K</text>
<rect x="791.8" y="193" width="97.4" height="47" fill="#fff" stroke="#444" stroke-width="1"/>
<rect x="812.6" y="205.2" width="7.6" height="7.6" fill="#000"/>
<circle cx="816.4" cy="229.8" r="4.1" fill="#f00"/>
<text x="840.8" y="214.7" font-size="16" text-anchor="start" fill="#000" >H <tspan fill="#555">||</tspan> <tspan font-style="italic">c</tspan></text>
<text x="840.8" y="235" font-size="16" text-anchor="start" fill="#000" >H <tspan fill="#555">||</tspan> <tspan font-style="italic">ab</tspan></text>
<rect x="589.2" y="31.6" width="109.5" height="90.1" fill="#fff"/>
<clipPath id="cci"><rect x="589.2" y="31.1" width="110.5" height="90.6"/></clipPath>
<g clip-path="url(#cci)">
<g fill="#0f0" stroke="none">
<circle cx="596.69" cy="73.4" r="1.3"/><circle cx="597.05" cy="73.22" r="1.3"/><circle cx="597.41" cy="73.04" r="1.3"/><circle cx="597.78" cy="72.86" r="1.3"/><circle cx="598.14" cy="72.68" r="1.3"/><circle cx="598.51" cy="72.5" r="1.3"/><circle cx="598.87" cy="72.32" r="1.3"/><circle cx="599.24" cy="72.14" r="1.3"/><circle cx="599.6" cy="71.96" r="1.3"/><circle cx="599.96" cy="71.78" r="1.3"/><circle cx="600.33" cy="71.6" r="1.3"/><circle cx="600.69" cy="71.37" r="1.3"/><circle cx="601.06" cy="71.14" r="1.3"/><circle cx="601.42" cy="70.91" r="1.3"/><circle cx="601.79" cy="70.68" r="1.3"/><circle cx="602.15" cy="70.45" r="1.3"/><circle cx="602.51" cy="70.22" r="1.3"/><circle cx="602.88" cy="69.99" r="1.3"/><circle cx="603.24" cy="69.76" r="1.3"/><circle cx="603.61" cy="69.53" r="1.3"/><circle cx="603.97" cy="69.3" r="1.3"/><circle cx="604.34" cy="69.11" r="1.3"/><circle cx="604.7" cy="68.92" r="1.3"/><circle cx="605.06" cy="68.73" r="1.3"/><circle cx="605.43" cy="68.54" r="1.3"/><circle cx="605.79" cy="68.35" r="1.3"/><circle cx="606.16" cy="68.16" r="1.3"/><circle cx="606.52" cy="67.97" r="1.3"/><circle cx="606.89" cy="67.78" r="1.3"/><circle cx="607.25" cy="67.59" r="1.3"/><circle cx="607.62" cy="67.4" r="1.3"/><circle cx="607.98" cy="67.4" r="1.3"/><circle cx="608.34" cy="67.4" r="1.3"/><circle cx="608.71" cy="67.4" r="1.3"/><circle cx="609.07" cy="67.4" r="1.3"/><circle cx="609.44" cy="67.4" r="1.3"/><circle cx="609.8" cy="67.4" r="1.3"/><circle cx="610.17" cy="67.64" r="1.3"/><circle cx="610.53" cy="67.89" r="1.3"/><circle cx="610.89" cy="68.13" r="1.3"/><circle cx="611.26" cy="68.38" r="1.3"/><circle cx="611.62" cy="68.62" r="1.3"/><circle cx="611.99" cy="68.87" r="1.3"/><circle cx="612.35" cy="69.11" r="1.3"/><circle cx="612.72" cy="69.36" r="1.3"/><circle cx="613.08" cy="69.6" r="1.3"/><circle cx="613.44" cy="69.39" r="1.3"/><circle cx="613.81" cy="69.18" r="1.3"/><circle cx="614.17" cy="68.97" r="1.3"/><circle cx="614.54" cy="68.76" r="1.3"/><circle cx="614.9" cy="68.55" r="1.3"/><circle cx="615.27" cy="68.34" r="1.3"/><circle cx="615.63" cy="68.13" r="1.3"/><circle cx="615.99" cy="67.92" r="1.3"/><circle cx="616.36" cy="67.71" r="1.3"/><circle cx="616.72" cy="67.5" r="1.3"/><circle cx="617.09" cy="66.81" r="1.3"/><circle cx="617.45" cy="66.12" r="1.3"/><circle cx="617.82" cy="65.44" r="1.3"/><circle cx="618.18" cy="64.75" r="1.3"/><circle cx="618.54" cy="64.06" r="1.3"/><circle cx="618.91" cy="63.37" r="1.3"/><circle cx="619.27" cy="62.69" r="1.3"/><circle cx="619.64" cy="62" r="1.3"/><circle cx="620" cy="61" r="1.3"/><circle cx="620.37" cy="60" r="1.3"/><circle cx="620.73" cy="59" r="1.3"/><circle cx="621.09" cy="58" r="1.3"/><circle cx="621.46" cy="57" r="1.3"/><circle cx="621.82" cy="54.67" r="1.3"/><circle cx="622.19" cy="52.33" r="1.3"/><circle cx="622.55" cy="50" r="1.3"/><circle cx="622.92" cy="46" r="1.3"/><circle cx="623.28" cy="42" r="1.3"/><circle cx="623.64" cy="37.5" r="1.3"/><circle cx="624.01" cy="33" r="1.3"/><circle cx="624.37" cy="31.5" r="1.3"/><circle cx="624.74" cy="30" r="1.3"/><circle cx="625.1" cy="36" r="1.3"/><circle cx="625.47" cy="42" r="1.3"/><circle cx="625.83" cy="47.5" r="1.3"/><circle cx="626.19" cy="53" r="1.3"/><circle cx="626.56" cy="53.75" r="1.3"/><circle cx="626.92" cy="54.5" r="1.3"/><circle cx="627.29" cy="54.07" r="1.3"/><circle cx="627.65" cy="53.64" r="1.3"/><circle cx="628.02" cy="53.21" r="1.3"/><circle cx="628.38" cy="52.79" r="1.3"/><circle cx="628.74" cy="52.36" r="1.3"/><circle cx="629.11" cy="51.93" r="1.3"/><circle cx="629.47" cy="51.5" r="1.3"/><circle cx="629.84" cy="51.1" r="1.3"/><circle cx="630.2" cy="50.7" r="1.3"/><circle cx="630.57" cy="50.3" r="1.3"/><circle cx="630.93" cy="49.9" r="1.3"/><circle cx="631.29" cy="49.5" r="1.3"/><circle cx="631.66" cy="49.1" r="1.3"/><circle cx="632.02" cy="48.7" r="1.3"/><circle cx="632.39" cy="48.3" r="1.3"/><circle cx="632.75" cy="47.9" r="1.3"/><circle cx="633.12" cy="47.5" r="1.3"/><circle cx="633.48" cy="47.22" r="1.3"/><circle cx="633.84" cy="46.93" r="1.3"/><circle cx="634.21" cy="46.65" r="1.3"/><circle cx="634.57" cy="46.37" r="1.3"/><circle cx="634.94" cy="46.08" r="1.3"/><circle cx="635.3" cy="45.8" r="1.3"/><circle cx="635.67" cy="45.77" r="1.3"/><circle cx="636.03" cy="45.73" r="1.3"/><circle cx="636.39" cy="45.7" r="1.3"/><circle cx="636.76" cy="45.67" r="1.3"/><circle cx="637.12" cy="45.63" r="1.3"/><circle cx="637.49" cy="45.6" r="1.3"/><circle cx="637.85" cy="45.39" r="1.3"/><circle cx="638.22" cy="45.18" r="1.3"/><circle cx="638.58" cy="44.97" r="1.3"/><circle cx="638.94" cy="44.76" r="1.3"/><circle cx="639.31" cy="44.55" r="1.3"/><circle cx="639.67" cy="44.34" r="1.3"/><circle cx="640.04" cy="44.13" r="1.3"/><circle cx="640.4" cy="43.92" r="1.3"/><circle cx="640.77" cy="43.71" r="1.3"/><circle cx="641.13" cy="43.5" r="1.3"/><circle cx="641.49" cy="43.25" r="1.3"/><circle cx="641.86" cy="43" r="1.3"/><circle cx="642.22" cy="42.75" r="1.3"/><circle cx="642.59" cy="42.5" r="1.3"/><circle cx="642.95" cy="42.25" r="1.3"/><circle cx="643.32" cy="42" r="1.3"/><circle cx="643.68" cy="41.75" r="1.3"/><circle cx="644.04" cy="41.5" r="1.3"/><circle cx="644.41" cy="41.28" r="1.3"/><circle cx="644.77" cy="41.06" r="1.3"/><circle cx="645.14" cy="40.84" r="1.3"/><circle cx="645.5" cy="40.62" r="1.3"/><circle cx="645.87" cy="40.4" r="1.3"/><circle cx="646.23" cy="40.18" r="1.3"/><circle cx="646.6" cy="39.96" r="1.3"/><circle cx="646.96" cy="39.74" r="1.3"/><circle cx="647.32" cy="39.52" r="1.3"/><circle cx="647.69" cy="39.3" r="1.3"/><circle cx="648.05" cy="39.09" r="1.3"/><circle cx="648.42" cy="38.88" r="1.3"/><circle cx="648.78" cy="38.67" r="1.3"/><circle cx="649.15" cy="38.46" r="1.3"/><circle cx="649.51" cy="38.25" r="1.3"/><circle cx="649.87" cy="38.04" r="1.3"/><circle cx="650.24" cy="37.83" r="1.3"/><circle cx="650.6" cy="37.62" r="1.3"/><circle cx="650.97" cy="37.41" r="1.3"/><circle cx="651.33" cy="37.2" r="1.3"/><circle cx="651.7" cy="37" r="1.3"/><circle cx="652.06" cy="36.8" r="1.3"/><circle cx="652.42" cy="36.6" r="1.3"/><circle cx="652.79" cy="36.4" r="1.3"/><circle cx="653.15" cy="36.2" r="1.3"/><circle cx="653.52" cy="36" r="1.3"/><circle cx="653.88" cy="36.5" r="1.3"/><circle cx="654.25" cy="37" r="1.3"/><circle cx="654.61" cy="37.5" r="1.3"/><circle cx="654.97" cy="41.83" r="1.3"/><circle cx="655.34" cy="46.67" r="1.3"/><circle cx="655.7" cy="52" r="1.3"/><circle cx="656.07" cy="55.5" r="1.3"/><circle cx="656.43" cy="59" r="1.3"/><circle cx="656.8" cy="60.93" r="1.3"/><circle cx="657.16" cy="62.87" r="1.3"/><circle cx="657.52" cy="64.8" r="1.3"/><circle cx="657.89" cy="65.34" r="1.3"/><circle cx="658.25" cy="65.88" r="1.3"/><circle cx="658.62" cy="66.42" r="1.3"/><circle cx="658.98" cy="66.96" r="1.3"/><circle cx="659.35" cy="67.5" r="1.3"/><circle cx="659.71" cy="67.88" r="1.3"/><circle cx="660.07" cy="68.25" r="1.3"/><circle cx="660.44" cy="68.62" r="1.3"/><circle cx="660.8" cy="69" r="1.3"/><circle cx="661.17" cy="69.38" r="1.3"/><circle cx="661.53" cy="69.75" r="1.3"/><circle cx="661.9" cy="70.13" r="1.3"/><circle cx="662.26" cy="70.5" r="1.3"/><circle cx="662.62" cy="70.81" r="1.3"/><circle cx="662.99" cy="71.12" r="1.3"/><circle cx="663.35" cy="71.43" r="1.3"/><circle cx="663.72" cy="71.74" r="1.3"/><circle cx="664.08" cy="72.05" r="1.3"/><circle cx="664.45" cy="72.36" r="1.3"/><circle cx="664.81" cy="72.67" r="1.3"/><circle cx="665.17" cy="72.98" r="1.3"/><circle cx="665.54" cy="73.29" r="1.3"/><circle cx="665.9" cy="73.6" r="1.3"/><circle cx="666.27" cy="73.86" r="1.3"/><circle cx="666.63" cy="74.12" r="1.3"/><circle cx="667" cy="74.38" r="1.3"/><circle cx="667.36" cy="74.64" r="1.3"/><circle cx="667.72" cy="74.9" r="1.3"/><circle cx="668.09" cy="75.16" r="1.3"/><circle cx="668.45" cy="75.42" r="1.3"/><circle cx="668.82" cy="75.68" r="1.3"/><circle cx="669.18" cy="75.94" r="1.3"/><circle cx="669.55" cy="76.2" r="1.3"/><circle cx="669.91" cy="76.42" r="1.3"/><circle cx="670.27" cy="76.63" r="1.3"/><circle cx="670.64" cy="76.84" r="1.3"/><circle cx="671" cy="77.06" r="1.3"/><circle cx="671.37" cy="77.28" r="1.3"/><circle cx="671.73" cy="77.49" r="1.3"/><circle cx="672.1" cy="77.71" r="1.3"/><circle cx="672.46" cy="77.92" r="1.3"/><circle cx="672.82" cy="78.14" r="1.3"/><circle cx="673.19" cy="78.35" r="1.3"/><circle cx="673.55" cy="78.56" r="1.3"/><circle cx="673.92" cy="78.78" r="1.3"/><circle cx="674.28" cy="79" r="1.3"/><circle cx="674.65" cy="79.21" r="1.3"/><circle cx="675.01" cy="79.42" r="1.3"/><circle cx="675.37" cy="79.64" r="1.3"/><circle cx="675.74" cy="79.86" r="1.3"/><circle cx="676.1" cy="80.07" r="1.3"/><circle cx="676.47" cy="80.29" r="1.3"/><circle cx="676.83" cy="80.5" r="1.3"/><circle cx="677.2" cy="80.67" r="1.3"/><circle cx="677.56" cy="80.85" r="1.3"/><circle cx="677.92" cy="81.03" r="1.3"/><circle cx="678.29" cy="81.2" r="1.3"/><circle cx="678.65" cy="81.38" r="1.3"/><circle cx="679.02" cy="81.55" r="1.3"/><circle cx="679.38" cy="81.73" r="1.3"/><circle cx="679.75" cy="81.9" r="1.3"/><circle cx="680.11" cy="82.08" r="1.3"/><circle cx="680.47" cy="82.25" r="1.3"/><circle cx="680.84" cy="82.42" r="1.3"/><circle cx="681.2" cy="82.6" r="1.3"/><circle cx="681.57" cy="82.78" r="1.3"/><circle cx="681.93" cy="82.95" r="1.3"/><circle cx="682.3" cy="83.12" r="1.3"/><circle cx="682.66" cy="83.3" r="1.3"/><circle cx="683.03" cy="83.48" r="1.3"/><circle cx="683.39" cy="83.65" r="1.3"/><circle cx="683.75" cy="83.83" r="1.3"/><circle cx="684.12" cy="84" r="1.3"/><circle cx="684.48" cy="84.15" r="1.3"/><circle cx="684.85" cy="84.3" r="1.3"/><circle cx="685.21" cy="84.45" r="1.3"/><circle cx="685.58" cy="84.6" r="1.3"/><circle cx="685.94" cy="84.75" r="1.3"/><circle cx="686.3" cy="84.9" r="1.3"/><circle cx="686.67" cy="85.05" r="1.3"/><circle cx="687.03" cy="85.2" r="1.3"/><circle cx="687.4" cy="85.35" r="1.3"/><circle cx="687.76" cy="85.5" r="1.3"/><circle cx="688.13" cy="85.65" r="1.3"/><circle cx="688.49" cy="85.8" r="1.3"/><circle cx="688.85" cy="85.95" r="1.3"/><circle cx="689.22" cy="86.1" r="1.3"/><circle cx="689.58" cy="86.25" r="1.3"/><circle cx="689.95" cy="86.4" r="1.3"/><circle cx="690.31" cy="86.55" r="1.3"/><circle cx="690.68" cy="86.7" r="1.3"/><circle cx="691.04" cy="86.85" r="1.3"/><circle cx="691.4" cy="87" r="1.3"/><circle cx="691.77" cy="87.13" r="1.3"/><circle cx="692.13" cy="87.26" r="1.3"/><circle cx="692.5" cy="87.39" r="1.3"/><circle cx="692.86" cy="87.52" r="1.3"/><circle cx="693.23" cy="87.65" r="1.3"/><circle cx="693.59" cy="87.78" r="1.3"/><circle cx="693.95" cy="87.91" r="1.3"/><circle cx="694.32" cy="88.04" r="1.3"/><circle cx="694.68" cy="88.17" r="1.3"/><circle cx="695.05" cy="88.3" r="1.3"/><circle cx="695.41" cy="88.43" r="1.3"/><circle cx="695.78" cy="88.56" r="1.3"/><circle cx="696.14" cy="88.69" r="1.3"/><circle cx="696.5" cy="88.82" r="1.3"/><circle cx="696.87" cy="88.95" r="1.3"/><circle cx="697.23" cy="89.08" r="1.3"/><circle cx="697.6" cy="89.21" r="1.3"/><circle cx="697.96" cy="89.34" r="1.3"/><circle cx="698.33" cy="89.47" r="1.3"/><circle cx="698.69" cy="89.6" r="1.3"/>
</g>
<g fill="#00f" stroke="none">
<circle cx="597.78" cy="92.34" r="1.3"/><circle cx="598.14" cy="88.65" r="1.3"/><circle cx="598.51" cy="88.38" r="1.3"/><circle cx="598.87" cy="83.68" r="1.3"/><circle cx="599.24" cy="83.27" r="1.3"/><circle cx="599.6" cy="80.13" r="1.3"/><circle cx="599.96" cy="78.95" r="1.3"/><circle cx="600.33" cy="79.92" r="1.3"/><circle cx="600.69" cy="76.9" r="1.3"/><circle cx="601.06" cy="80.57" r="1.3"/><circle cx="601.42" cy="80.41" r="1.3"/><circle cx="601.79" cy="82.13" r="1.3"/><circle cx="602.15" cy="84.49" r="1.3"/><circle cx="602.51" cy="82.9" r="1.3"/><circle cx="602.88" cy="85.69" r="1.3"/><circle cx="603.24" cy="84.01" r="1.3"/><circle cx="603.61" cy="85.53" r="1.3"/><circle cx="603.97" cy="86.09" r="1.3"/><circle cx="604.34" cy="85.08" r="1.3"/><circle cx="604.7" cy="87.7" r="1.3"/><circle cx="605.06" cy="85.51" r="1.3"/><circle cx="605.43" cy="87.47" r="1.3"/><circle cx="605.79" cy="86.97" r="1.3"/><circle cx="606.16" cy="86.49" r="1.3"/><circle cx="606.52" cy="88.44" r="1.3"/><circle cx="606.89" cy="86.26" r="1.3"/><circle cx="607.25" cy="88.66" r="1.3"/><circle cx="607.62" cy="87.41" r="1.3"/><circle cx="607.98" cy="88.51" r="1.3"/><circle cx="608.34" cy="90.55" r="1.3"/><circle cx="608.71" cy="89.4" r="1.3"/><circle cx="609.07" cy="90.83" r="1.3"/><circle cx="609.44" cy="87.87" r="1.3"/><circle cx="609.8" cy="87.88" r="1.3"/><circle cx="610.17" cy="87.24" r="1.3"/><circle cx="610.53" cy="84.74" r="1.3"/><circle cx="610.89" cy="85.97" r="1.3"/><circle cx="611.26" cy="82.6" r="1.3"/><circle cx="611.62" cy="83.24" r="1.3"/><circle cx="611.99" cy="81.69" r="1.3"/><circle cx="612.35" cy="81.23" r="1.3"/><circle cx="612.72" cy="83.46" r="1.3"/><circle cx="613.08" cy="81.42" r="1.3"/><circle cx="613.44" cy="83.93" r="1.3"/><circle cx="613.81" cy="82.99" r="1.3"/><circle cx="614.17" cy="83.35" r="1.3"/><circle cx="614.54" cy="84.89" r="1.3"/><circle cx="614.9" cy="83.02" r="1.3"/><circle cx="615.27" cy="85.68" r="1.3"/><circle cx="615.63" cy="84.06" r="1.3"/><circle cx="615.99" cy="85.17" r="1.3"/><circle cx="616.36" cy="85.51" r="1.3"/><circle cx="616.72" cy="83.72" r="1.3"/><circle cx="617.09" cy="85.9" r="1.3"/><circle cx="617.45" cy="83.48" r="1.3"/><circle cx="617.82" cy="84.9" r="1.3"/><circle cx="618.18" cy="85.24" r="1.3"/><circle cx="618.54" cy="84.97" r="1.3"/><circle cx="618.91" cy="87.64" r="1.3"/><circle cx="619.27" cy="85.94" r="1.3"/><circle cx="619.64" cy="87.16" r="1.3"/><circle cx="620" cy="85.15" r="1.3"/><circle cx="620.37" cy="84.14" r="1.3"/><circle cx="620.73" cy="84.66" r="1.3"/><circle cx="621.09" cy="81.76" r="1.3"/><circle cx="621.46" cy="83.43" r="1.3"/><circle cx="621.82" cy="80.94" r="1.3"/><circle cx="622.19" cy="80.93" r="1.3"/><circle cx="622.55" cy="79.03" r="1.3"/><circle cx="622.92" cy="74.72" r="1.3"/><circle cx="623.28" cy="74.54" r="1.3"/><circle cx="624.37" cy="52.52" r="1.3"/><circle cx="625.47" cy="33.13" r="1.3"/><circle cx="626.92" cy="74.69" r="1.3"/><circle cx="627.65" cy="88.53" r="1.3"/><circle cx="628.02" cy="88.81" r="1.3"/><circle cx="628.38" cy="89.09" r="1.3"/><circle cx="628.74" cy="89.37" r="1.3"/><circle cx="629.11" cy="89.64" r="1.3"/><circle cx="629.47" cy="89.92" r="1.3"/><circle cx="629.84" cy="90.34" r="1.3"/><circle cx="630.2" cy="90.75" r="1.3"/><circle cx="630.57" cy="91.17" r="1.3"/><circle cx="630.93" cy="91.58" r="1.3"/><circle cx="631.29" cy="92" r="1.3"/><circle cx="631.66" cy="92.55" r="1.3"/><circle cx="632.02" cy="93.11" r="1.3"/><circle cx="632.39" cy="93.66" r="1.3"/><circle cx="632.75" cy="94.21" r="1.3"/><circle cx="633.12" cy="94.77" r="1.3"/><circle cx="633.48" cy="95.98" r="1.3"/><circle cx="633.84" cy="97.19" r="1.3"/><circle cx="634.21" cy="98.4" r="1.3"/><circle cx="634.57" cy="99.61" r="1.3"/><circle cx="634.94" cy="100.08" r="1.3"/><circle cx="635.3" cy="100.54" r="1.3"/><circle cx="635.67" cy="101" r="1.3"/><circle cx="636.03" cy="99.75" r="1.3"/><circle cx="636.39" cy="98.51" r="1.3"/><circle cx="636.76" cy="97.26" r="1.3"/><circle cx="637.12" cy="96.01" r="1.3"/><circle cx="637.49" cy="94.77" r="1.3"/><circle cx="637.85" cy="94.38" r="1.3"/><circle cx="638.22" cy="93.98" r="1.3"/><circle cx="638.58" cy="93.59" r="1.3"/><circle cx="638.94" cy="93.2" r="1.3"/><circle cx="639.31" cy="92.81" r="1.3"/><circle cx="639.67" cy="92.41" r="1.3"/><circle cx="640.04" cy="92.41" r="1.3"/><circle cx="640.4" cy="92.41" r="1.3"/><circle cx="640.77" cy="92.41" r="1.3"/><circle cx="641.13" cy="92.41" r="1.3"/><circle cx="641.49" cy="92.41" r="1.3"/><circle cx="641.86" cy="92.41" r="1.3"/><circle cx="642.22" cy="92.41" r="1.3"/><circle cx="642.59" cy="92.65" r="1.3"/><circle cx="642.95" cy="92.89" r="1.3"/><circle cx="643.32" cy="93.13" r="1.3"/><circle cx="643.68" cy="93.36" r="1.3"/><circle cx="644.04" cy="93.6" r="1.3"/><circle cx="644.41" cy="93.84" r="1.3"/><circle cx="644.77" cy="94.08" r="1.3"/><circle cx="645.14" cy="94.51" r="1.3"/><circle cx="645.5" cy="94.94" r="1.3"/><circle cx="645.87" cy="95.37" r="1.3"/><circle cx="646.23" cy="95.81" r="1.3"/><circle cx="646.6" cy="96.24" r="1.3"/><circle cx="646.96" cy="96.67" r="1.3"/><circle cx="647.32" cy="97.1" r="1.3"/><circle cx="647.69" cy="97.54" r="1.3"/><circle cx="648.05" cy="98.14" r="1.3"/><circle cx="648.42" cy="98.75" r="1.3"/><circle cx="648.78" cy="99.36" r="1.3"/><circle cx="649.15" cy="99.96" r="1.3"/><circle cx="649.51" cy="100.57" r="1.3"/><circle cx="649.87" cy="101.17" r="1.3"/><circle cx="650.24" cy="101.78" r="1.3"/><circle cx="650.6" cy="102.39" r="1.3"/><circle cx="650.97" cy="103.31" r="1.3"/><circle cx="651.33" cy="104.23" r="1.3"/><circle cx="651.7" cy="105.16" r="1.3"/><circle cx="652.06" cy="106.08" r="1.3"/><circle cx="652.42" cy="107" r="1.3"/><circle cx="652.79" cy="107.92" r="1.3"/><circle cx="653.15" cy="109.31" r="1.3"/><circle cx="653.52" cy="110.7" r="1.3"/><circle cx="653.88" cy="112.08" r="1.3"/><circle cx="654.25" cy="113.47" r="1.3"/><circle cx="654.61" cy="114.85" r="1.3"/><circle cx="654.97" cy="116.23" r="1.3"/><circle cx="655.34" cy="116.93" r="1.3"/><circle cx="655.7" cy="117.62" r="1.3"/><circle cx="656.07" cy="116.23" r="1.3"/><circle cx="656.43" cy="114.85" r="1.3"/><circle cx="656.8" cy="111.73" r="1.3"/><circle cx="657.16" cy="108.62" r="1.3"/><circle cx="657.52" cy="107" r="1.3"/><circle cx="657.89" cy="105.39" r="1.3"/><circle cx="658.25" cy="103.77" r="1.3"/><circle cx="658.62" cy="103.59" r="1.3"/><circle cx="658.98" cy="103.4" r="1.3"/><circle cx="659.35" cy="103.22" r="1.3"/><circle cx="659.71" cy="103.03" r="1.3"/><circle cx="660.07" cy="102.85" r="1.3"/><circle cx="660.44" cy="102.66" r="1.3"/><circle cx="660.8" cy="102.6" r="1.3"/><circle cx="661.17" cy="102.53" r="1.3"/><circle cx="661.53" cy="102.47" r="1.3"/><circle cx="661.9" cy="102.4" r="1.3"/><circle cx="662.26" cy="102.34" r="1.3"/><circle cx="662.62" cy="102.27" r="1.3"/><circle cx="662.99" cy="102.21" r="1.3"/><circle cx="663.35" cy="102.14" r="1.3"/><circle cx="663.72" cy="102.08" r="1.3"/><circle cx="664.08" cy="102.02" r="1.3"/><circle cx="664.45" cy="101.95" r="1.3"/><circle cx="664.81" cy="101.89" r="1.3"/><circle cx="665.17" cy="101.82" r="1.3"/><circle cx="665.54" cy="101.76" r="1.3"/><circle cx="665.9" cy="101.69" r="1.3"/><circle cx="666.27" cy="101.67" r="1.3"/><circle cx="666.63" cy="101.65" r="1.3"/><circle cx="667" cy="101.62" r="1.3"/><circle cx="667.36" cy="101.6" r="1.3"/><circle cx="667.72" cy="101.58" r="1.3"/><circle cx="668.09" cy="101.55" r="1.3"/><circle cx="668.45" cy="101.53" r="1.3"/><circle cx="668.82" cy="101.51" r="1.3"/><circle cx="669.18" cy="101.48" r="1.3"/><circle cx="669.55" cy="101.46" r="1.3"/><circle cx="669.91" cy="101.44" r="1.3"/><circle cx="670.27" cy="101.42" r="1.3"/><circle cx="670.64" cy="101.39" r="1.3"/><circle cx="671" cy="101.37" r="1.3"/><circle cx="671.37" cy="101.35" r="1.3"/><circle cx="671.73" cy="101.32" r="1.3"/><circle cx="672.1" cy="101.3" r="1.3"/><circle cx="672.46" cy="101.28" r="1.3"/><circle cx="672.82" cy="101.25" r="1.3"/><circle cx="673.19" cy="101.23" r="1.3"/><circle cx="673.55" cy="101.21" r="1.3"/><circle cx="673.92" cy="101.18" r="1.3"/><circle cx="674.28" cy="101.16" r="1.3"/><circle cx="674.65" cy="101.14" r="1.3"/><circle cx="675.01" cy="101.12" r="1.3"/><circle cx="675.37" cy="101.09" r="1.3"/><circle cx="675.74" cy="101.07" r="1.3"/><circle cx="676.1" cy="101.05" r="1.3"/><circle cx="676.47" cy="101.02" r="1.3"/><circle cx="676.83" cy="101" r="1.3"/><circle cx="677.2" cy="100.98" r="1.3"/><circle cx="677.56" cy="100.96" r="1.3"/><circle cx="677.92" cy="100.94" r="1.3"/><circle cx="678.29" cy="100.93" r="1.3"/><circle cx="678.65" cy="100.91" r="1.3"/><circle cx="679.02" cy="100.89" r="1.3"/><circle cx="679.38" cy="100.87" r="1.3"/><circle cx="679.75" cy="100.85" r="1.3"/><circle cx="680.11" cy="100.83" r="1.3"/><circle cx="680.47" cy="100.82" r="1.3"/><circle cx="680.84" cy="100.8" r="1.3"/><circle cx="681.2" cy="100.78" r="1.3"/><circle cx="681.57" cy="100.76" r="1.3"/><circle cx="681.93" cy="100.74" r="1.3"/><circle cx="682.3" cy="100.72" r="1.3"/><circle cx="682.66" cy="100.7" r="1.3"/><circle cx="683.03" cy="100.69" r="1.3"/><circle cx="683.39" cy="100.67" r="1.3"/><circle cx="683.75" cy="100.65" r="1.3"/><circle cx="684.12" cy="100.63" r="1.3"/><circle cx="684.48" cy="100.61" r="1.3"/><circle cx="684.85" cy="100.59" r="1.3"/><circle cx="685.21" cy="100.58" r="1.3"/><circle cx="685.58" cy="100.56" r="1.3"/><circle cx="685.94" cy="100.54" r="1.3"/><circle cx="686.3" cy="100.52" r="1.3"/><circle cx="686.67" cy="100.5" r="1.3"/><circle cx="687.03" cy="100.48" r="1.3"/><circle cx="687.4" cy="100.46" r="1.3"/><circle cx="687.76" cy="100.45" r="1.3"/><circle cx="688.13" cy="100.43" r="1.3"/><circle cx="688.49" cy="100.42" r="1.3"/><circle cx="688.85" cy="100.4" r="1.3"/><circle cx="689.22" cy="100.39" r="1.3"/><circle cx="689.58" cy="100.38" r="1.3"/><circle cx="689.95" cy="100.36" r="1.3"/><circle cx="690.31" cy="100.35" r="1.3"/><circle cx="690.68" cy="100.34" r="1.3"/><circle cx="691.04" cy="100.32" r="1.3"/><circle cx="691.4" cy="100.31" r="1.3"/><circle cx="691.77" cy="100.29" r="1.3"/><circle cx="692.13" cy="100.28" r="1.3"/><circle cx="692.5" cy="100.27" r="1.3"/><circle cx="692.86" cy="100.25" r="1.3"/><circle cx="693.23" cy="100.24" r="1.3"/><circle cx="693.59" cy="100.22" r="1.3"/><circle cx="693.95" cy="100.21" r="1.3"/><circle cx="694.32" cy="100.2" r="1.3"/><circle cx="694.68" cy="100.18" r="1.3"/><circle cx="695.05" cy="100.17" r="1.3"/><circle cx="695.41" cy="100.16" r="1.3"/><circle cx="695.78" cy="100.14" r="1.3"/><circle cx="696.14" cy="100.13" r="1.3"/><circle cx="696.5" cy="100.11" r="1.3"/><circle cx="696.87" cy="100.1" r="1.3"/><circle cx="697.23" cy="100.09" r="1.3"/><circle cx="697.6" cy="100.07" r="1.3"/><circle cx="697.96" cy="100.06" r="1.3"/><circle cx="698.33" cy="100.04" r="1.3"/><circle cx="698.69" cy="100.03" r="1.3"/>
</g>
</g>
<path d="M666 57.5H681" stroke="#0f0" stroke-width="1.1"/><path d="M685.6 57.5l-6.4 -2.6v5.2z" fill="#0f0"/>
<path d="M630.3 107.4H617" stroke="#00f" stroke-width="1.1"/><path d="M612.3 107.4l6.4 -2.6v5.2z" fill="#00f"/>
<rect x="589.2" y="31.6" width="109.5" height="90.1" fill="none" stroke="#000" stroke-width="1.0"/>
<path d="M625.83 121.7v-3.4M662.26 121.7v-3.4" stroke="#000" stroke-width="1.0" fill="none"/>
<path d="M607.62 121.7v-2M644.04 121.7v-2M680.47 121.7v-2" stroke="#000" stroke-width="1.0" fill="none"/>
<path d="M589.2 101h3.4M589.2 73.3h3.4M589.2 45.6h3.4" stroke="#000" stroke-width="1.0" fill="none"/>
<path d="M589.2 114.85h2M589.2 87.15h2M589.2 59.45h2" stroke="#000" stroke-width="1.0" fill="none"/>
<path d="M698.7 99.1h-3.4M698.7 75.4h-3.4M698.7 51.7h-3.4" stroke="#000" stroke-width="1.0" fill="none"/>
<path d="M698.7 110.95h-2M698.7 87.25h-2M698.7 63.55h-2M698.7 39.85h-2" stroke="#000" stroke-width="1.0" fill="none"/>
<text x="589.4" y="136.2" font-size="14" text-anchor="middle" fill="#000" >0</text>
<text x="625.83" y="136.2" font-size="14" text-anchor="middle" fill="#000" >10</text>
<text x="662.26" y="136.2" font-size="14" text-anchor="middle" fill="#000" >20</text>
<text x="698.69" y="136.2" font-size="14" text-anchor="middle" fill="#000" >30</text>
<text x="584.8" y="105.8" font-size="14" text-anchor="end" fill="#000" >0</text>
<text x="584.8" y="78.1" font-size="14" text-anchor="end" fill="#000" >2</text>
<text x="584.8" y="50.4" font-size="14" text-anchor="end" fill="#000" >4</text>
<text x="702.3" y="103.9" font-size="13.5" text-anchor="start" fill="#000" >0.05</text>
<text x="702.3" y="80.2" font-size="13.5" text-anchor="start" fill="#000" >0.10</text>
<text x="702.3" y="56.5" font-size="13.5" text-anchor="start" fill="#000" >0.15</text>
<text x="643.8" y="149.8" font-size="13.7" text-anchor="middle" fill="#000"  textLength="96.7" lengthAdjust="spacingAndGlyphs">Temperature (K)</text>
<text transform="translate(571.6 82.5) rotate(-90)" font-size="13.3" text-anchor="middle" fill="#000">dρ/dT (μΩ cm K<tspan font-size="9" dy="-7">-1</tspan><tspan dy="7" font-size="1">&#8203;</tspan>)</text>
<text transform="translate(739.7 70) rotate(-90)" font-size="13.6" text-anchor="middle" fill="#000">d(χ<tspan font-size="9" dy="4.2">ave</tspan><tspan dy="-4.2" font-size="1">&#8203;</tspan>T)/dT</text>
<clipPath id="cd"><rect x="548.7" y="332.5" width="358.8" height="248.9"/></clipPath>
<g clip-path="url(#cd)">
<path d="M548.35 555.8L549.2 555.8L549.5 554.65L549.8 553.49L550.1 552.34L550.41 551.18L550.71 550.2L551.01 549.23L551.31 548.25L551.61 547.27L551.91 546.38L552.22 545.49L552.52 544.61L552.82 543.72L553.12 542.56L553.42 541.41L553.72 540.25L554.02 539.1L554.33 538.12L554.63 537.14L554.93 536.16L555.23 535.18L555.53 534.21L555.83 533.23L556.14 532.25L556.44 531.27L556.74 529.94L557.04 528.61L557.34 525.76L557.64 520.08L557.95 514.35L558.25 512.2L558.55 511.21L558.85 510.5L559.15 509.87L559.45 509.23L559.76 508.85L560.06 508.47L560.36 508.15L560.66 508.08L560.96 508L561.26 507.53L561.56 506.96L561.87 506.39L562.17 505.86L562.47 505.32L562.77 504.79L563.07 504.26L563.37 503.77L563.68 503.28L563.98 502.79L564.28 502.3L564.58 501.97L564.88 501.63L565.18 501.3L565.49 501.13L565.79 501.01L566.09 500.88L566.39 501.03L566.69 501.18L566.99 501.7L567.3 502.48L567.6 503.37L567.9 504.19L568.2 504.9L568.5 505.4L568.8 505.59L569.1 505.78L569.41 505.91L569.71 506.01L570.01 506.1L570.31 506.2L570.61 506.29L570.91 506.39L571.22 506.43L571.52 506.48L571.82 506.52L572.12 506.57L572.42 506.61L572.72 506.66L573.03 506.7L573.33 506.75L573.63 506.75L573.93 506.76L574.23 506.77L574.53 506.78L574.84 506.79L575.14 506.8L575.44 506.81L575.74 506.82L576.04 506.78L576.34 506.75L576.64 506.72L576.95 506.69L577.25 506.66L577.55 506.63L577.85 506.6L578.15 506.57L578.45 506.52L578.76 506.48L579.06 506.43L579.36 506.39L579.66 506.35L579.96 506.3L580.26 506.26L580.57 506.21L580.87 506.17L581.17 506.12L581.47 506.08L581.77 506.03L582.98 505.75L584.18 505.47L585.39 505.18L586.6 504.9L587.8 504.61L589.01 504.33L590.22 504.04L591.42 503.76L592.63 503.47L593.84 503.19L595.04 502.76L596.25 502.34L597.46 501.91L598.66 501.48L599.87 501.06L601.07 500.63L602.28 500.2L603.49 499.78L604.69 499.35L605.9 498.92L607.11 498.43L608.31 497.93L609.52 497.43L610.73 496.93L611.93 496.44L613.14 495.94L614.34 495.44L615.55 494.94L616.76 494.44L617.96 493.95L619.17 493.38L620.38 492.81L621.58 492.24L622.79 491.67L624 491.1L625.2 490.53L626.41 489.97L627.62 489.4L628.82 488.83L630.03 488.26L631.23 487.69L632.44 487.12L633.65 486.55L634.85 485.98L636.06 485.41L637.27 484.85L638.47 484.28L639.68 483.71L640.89 483.14L642.09 482.57L643.3 481.97L644.5 481.36L645.71 480.76L646.92 480.15L648.12 479.55L649.33 478.94L650.54 478.34L651.74 477.74L652.95 477.13L654.16 476.53L655.36 475.92L656.57 475.32L657.78 474.71L658.98 474.11L660.19 473.51L661.39 472.9L662.6 472.3L663.81 471.69L665.01 471.09L666.22 470.48L667.43 469.86L668.63 469.23L669.84 468.61L671.05 467.98L672.25 467.36L673.46 466.73L674.66 466.1L675.87 465.48L677.08 464.85L678.28 464.23L679.49 463.6L680.7 462.98L681.9 462.35L683.11 461.72L684.32 461.1L685.52 460.47L686.73 459.85L687.94 459.22L689.14 458.6L690.35 457.97L691.55 457.34L692.76 456.72L693.97 456.09L695.17 455.47L696.38 454.84L697.59 454.22L698.79 453.59L700 452.96L701.21 452.34L702.41 451.71L703.62 451.09L704.82 450.46L706.03 449.84L707.24 449.21L708.44 448.59L709.65 447.96L710.86 447.33L712.06 446.71L713.27 446.08L714.48 445.46L715.68 444.83L716.89 444.21L718.1 443.58L719.3 442.95L720.51 442.33L721.71 441.7L722.92 441.08L724.13 440.45L725.33 439.83L726.54 439.2L727.75 438.59L728.95 437.98L730.16 437.37L731.37 436.75L732.57 436.14L733.78 435.53L734.98 434.92L736.19 434.31L737.4 433.7L738.6 433.09L739.81 432.47L741.02 431.86L742.22 431.25L743.43 430.64L744.64 430.03L745.84 429.42L747.05 428.81L748.26 428.19L749.46 427.58L750.67 426.97L751.87 426.36L753.08 425.75L754.29 425.14L755.49 424.52L756.7 423.91L757.91 423.3L759.11 422.69L760.32 422.08L761.53 421.47L762.73 420.86L763.94 420.24L765.14 419.63L766.35 419.02L767.56 418.41L768.76 417.8L769.97 417.19L771.18 416.58L772.38 415.96L773.59 415.35L774.8 414.74L776 414.13L777.21 413.52L778.42 412.91L779.62 412.3L780.83 411.68L782.03 411.07L783.24 410.46L784.45 409.85L785.65 409.24L786.86 408.63L788.07 408.03L789.27 407.43L790.48 406.82L791.69 406.22L792.89 405.62L794.1 405.02L795.3 404.42L796.51 403.82L797.72 403.22L798.92 402.62L800.13 402.02L801.34 401.42L802.54 400.82L803.75 400.22L804.96 399.62L806.16 399.01L807.37 398.41L808.58 397.81L809.78 397.21L810.99 396.61L812.19 396.01L813.4 395.41L814.61 394.81L815.81 394.21L817.02 393.61L818.23 393.01L819.43 392.41L820.64 391.8L821.85 391.2L823.05 390.6L824.26 390L825.46 389.4L826.67 388.8L827.88 388.2L829.08 387.6L830.29 387L831.5 386.4L832.7 385.8L833.91 385.2L835.12 384.6L836.32 383.99L837.53 383.39L838.74 382.79L839.94 382.19L841.15 381.59L842.35 380.99L843.56 380.39L844.77 379.79L845.97 379.19L847.18 378.59L848.39 377.99L849.59 377.39L850.8 376.8L852.01 376.2L853.21 375.6L854.42 375L855.62 374.41L856.83 373.81L858.04 373.21L859.24 372.61L860.45 372.02L861.66 371.42L862.86 370.82L864.07 370.23L865.28 369.63L866.48 369.03L867.69 368.43L868.9 367.84L870.1 367.24L871.31 366.64L872.51 366.05L873.72 365.45L874.93 364.85L876.13 364.25L877.34 363.66L878.55 363.06L879.75 362.46L880.96 361.86L882.17 361.27L883.37 360.67L884.58 360.07L885.78 359.48L886.99 358.88L888.2 358.28L889.4 357.68L890.61 357.09L891.82 356.49L893.02 355.89L894.23 355.29L895.44 354.7L896.64 354.1L897.85 353.5L899.06 352.91L900.26 352.31L901.47 351.71L902.67 351.11L903.88 350.52L905.09 349.92L906.29 349.32L907.5 348.73" fill="none" stroke="#00f" stroke-width="2.0" stroke-linejoin="round"/>
</g>
<rect x="548.7" y="332.5" width="358.8" height="248.9" fill="none" stroke="#000" stroke-width="1.7"/>
<path d="M575.74 332.5v1.3M605.9 332.5v1.3M636.06 332.5v1.3M666.22 332.5v1.3M696.38 332.5v1.3M726.54 332.5v1.3M756.7 332.5v1.3M786.86 332.5v1.3M817.02 332.5v1.3M847.18 332.5v1.3M877.34 332.5v1.3" stroke="#000" stroke-width="1.0" fill="none"/>
<path d="M907.5 563.62h-1.3M907.5 545.85h-1.3M907.5 528.07h-1.3M907.5 510.3h-1.3M907.5 492.52h-1.3M907.5 474.75h-1.3M907.5 456.97h-1.3M907.5 439.2h-1.3M907.5 421.42h-1.3M907.5 403.65h-1.3M907.5 385.88h-1.3M907.5 368.1h-1.3M907.5 350.32h-1.3" stroke="#000" stroke-width="1.0" fill="none"/>
<path d="M605.9 581.4v-7.5M666.22 581.4v-7.5M726.54 581.4v-7.5M786.86 581.4v-7.5M847.18 581.4v-7.5" stroke="#000" stroke-width="1.5" fill="none"/>
<path d="M575.74 581.4v-4.2M636.06 581.4v-4.2M696.38 581.4v-4.2M756.7 581.4v-4.2M817.02 581.4v-4.2M877.34 581.4v-4.2" stroke="#000" stroke-width="1.5" fill="none"/>
<path d="M548.7 545.85h7.5M548.7 510.3h7.5M548.7 474.75h7.5M548.7 439.2h7.5M548.7 403.65h7.5M548.7 368.1h7.5" stroke="#000" stroke-width="1.5" fill="none"/>
<path d="M548.7 563.62h4.2M548.7 528.07h4.2M548.7 492.52h4.2M548.7 456.97h4.2M548.7 421.42h4.2M548.7 385.88h4.2M548.7 350.32h4.2" stroke="#000" stroke-width="1.5" fill="none"/>
<text x="605.9" y="603.7" font-size="18" text-anchor="middle" fill="#000" >50</text>
<text x="666.22" y="603.7" font-size="18" text-anchor="middle" fill="#000" >100</text>
<text x="726.54" y="603.7" font-size="18" text-anchor="middle" fill="#000" >150</text>
<text x="786.86" y="603.7" font-size="18" text-anchor="middle" fill="#000" >200</text>
<text x="847.18" y="603.7" font-size="18" text-anchor="middle" fill="#000" >250</text>
<text x="907.5" y="603.7" font-size="18" text-anchor="middle" fill="#000" >300</text>
<text x="541.3" y="587.2" font-size="18" text-anchor="end" fill="#000" >0</text>
<text x="541.3" y="551.65" font-size="18" text-anchor="end" fill="#000" >10</text>
<text x="541.3" y="516.1" font-size="18" text-anchor="end" fill="#000" >20</text>
<text x="541.3" y="480.55" font-size="18" text-anchor="end" fill="#000" >30</text>
<text x="541.3" y="445" font-size="18" text-anchor="end" fill="#000" >40</text>
<text x="541.3" y="409.45" font-size="18" text-anchor="end" fill="#000" >50</text>
<text x="541.3" y="373.9" font-size="18" text-anchor="end" fill="#000" >60</text>
<text x="541.3" y="338.35" font-size="18" text-anchor="end" fill="#000" >70</text>
<text x="737.1" y="630" font-size="18.5" text-anchor="middle" fill="#000"  textLength="133" lengthAdjust="spacingAndGlyphs">Temperature (K)</text>
<text transform="translate(506.5 462.5) rotate(-90)" font-size="18.5" text-anchor="middle" fill="#000">Resistivity (μΩ cm)</text>
<text x="567.5" y="368.6" font-size="18" text-anchor="start" fill="#000" >(d)</text>
<text x="710.8" y="359" font-size="18" text-anchor="start" fill="#000" >EuPd<tspan font-size="11" dy="7.3">2</tspan><tspan dy="-7.3" font-size="1">&#8203;</tspan>P<tspan font-size="11" dy="7.3">2</tspan><tspan dy="-7.3" font-size="1">&#8203;</tspan></text>
<text x="591.2" y="405.3" font-size="17.8" text-anchor="start" fill="#000" >H=0</text>
<text x="589.5" y="423.6" font-size="17.5" text-anchor="start" fill="#000" >I <tspan fill="#555">||</tspan> (<tspan font-style="italic">ab</tspan>)</text>
<rect x="761.4" y="430.0" width="134.9" height="106.9" fill="#fff"/>
<path d="M772.1 529.32L772.64 528.4L773.2 527.44L773.77 526.47L774.33 525.51L774.89 524.55L775.45 523.64L776.02 522.72L776.58 521.81L777.14 520.9L777.7 519.99L778.26 519.08L778.83 518.16L779.39 517.25L779.95 516.48L780.51 515.71L781.07 514.94L781.64 514.16L782.2 513.39L782.76 512.62L783.32 511.85L783.88 511.08L784.45 510.37L785.01 509.67L785.57 508.97L786.13 508.27L786.7 507.57L787.26 506.87L787.82 506.16L788.38 505.46L788.94 504.55L789.51 503.64L790.07 502.72L790.63 501.81L791.19 500.9L791.75 499.99L792.32 499.08L792.88 498.16L793.44 497.39L794 496.62L794.57 495.85L795.13 495.08L795.69 494.3L796.25 493.53L796.81 492.76L797.38 491.99L797.94 491.22L798.5 490.44L799.06 489.67L799.62 488.9L800.19 488.13L800.75 487.36L801.31 486.58L801.87 485.81L802.44 484.76L803 483.71L803.56 482.65L804.12 481.6L804.68 480.15L805.25 477.11L805.81 474.07L806.37 468.13L806.93 462.18L807.49 459.09L808.06 456.46L808.62 455.68L809.18 454.9L809.74 454.12L810.3 453.51L810.87 453.01L811.43 452.51L811.99 452.01L812.55 451.51L813.12 451.01L813.68 450.71L814.24 450.4L814.8 450.1L815.36 449.8L815.93 449.5L816.49 449.3L817.05 449.24L817.61 449.18L818.17 449.12L818.74 449.06L819.3 448.77L819.86 448.32L820.42 447.87L820.99 447.42L821.55 446.97L822.11 446.51L822.67 446.09L823.23 445.67L823.8 445.25L824.36 444.83L824.92 444.41L825.48 443.99L826.04 443.57L826.61 443.15L827.17 442.76L827.73 442.37L828.29 441.99L828.86 441.6L829.42 441.22L829.98 440.83L830.54 440.44L831.1 440.06L831.67 439.8L832.23 439.53L832.79 439.27L833.35 439.01L833.91 438.74L834.48 438.48L835.04 438.31L835.6 438.21L836.16 438.11L836.72 438.01L837.29 437.91L837.85 437.81L838.41 437.93L838.97 438.05L839.54 438.16L840.1 438.28L840.66 438.5L841.22 439.11L841.78 439.73L842.35 440.34L842.91 441.04L843.47 441.74L844.03 442.44L844.59 443.03L845.16 443.6L845.72 444.16L846.28 444.72L846.84 444.95L847.41 445.1L847.97 445.25L848.53 445.4L849.09 445.55L849.65 445.69L850.22 445.76L850.78 445.84L851.34 445.91L851.9 445.99L852.46 446.06L853.03 446.14L853.59 446.21L854.15 446.29L854.71 446.36L855.27 446.44L855.84 446.51L856.4 446.55L856.96 446.58L857.52 446.62L858.09 446.65L858.65 446.69L859.21 446.73L859.77 446.76L860.33 446.8L860.9 446.83L861.46 446.87L862.02 446.9L862.58 446.94L863.14 446.97L863.71 447.01L864.27 447.04L864.83 447.08L865.39 447.08L865.96 447.09L866.52 447.1L867.08 447.1L867.64 447.11L868.2 447.12L868.77 447.13L869.33 447.13L869.89 447.14L870.45 447.15L871.01 447.15L871.58 447.16L872.14 447.17L872.7 447.17L873.26 447.18L873.82 447.19L874.39 447.16L874.95 447.14L875.51 447.11L876.07 447.09L876.64 447.07L877.2 447.04L877.76 447.02L878.32 446.99L878.88 446.97L879.45 446.94L880.01 446.92L880.57 446.89L881.13 446.87L881.69 446.84L882.26 446.82L882.82 446.8L883.38 446.76L883.94 446.73L884.51 446.69L885.07 446.65L885.63 446.62L886.19 446.58L886.75 446.55L887.32 446.51L887.88 446.48L888.44 446.44L889 446.41L889.56 446.37L890.13 446.34L890.69 446.3L891.25 446.27L891.81 446.23L892.38 446.2L892.94 446.16L893.5 446.13L894.06 446.09L894.62 446.06L895.19 446.02L895.75 445.99L896.31 445.95" fill="none" stroke="#00f" stroke-width="1.9" stroke-linejoin="round" stroke-linecap="round"/>
<rect x="761.4" y="430" width="134.9" height="106.9" fill="none" stroke="#000" stroke-width="1.2"/>
<path d="M783.88 536.9v-6.5M806.37 536.9v-6.5M828.86 536.9v-6.5M851.34 536.9v-6.5M873.82 536.9v-6.5" stroke="#000" stroke-width="1.2" fill="none"/>
<path d="M772.64 536.9v-3.5M795.13 536.9v-3.5M817.61 536.9v-3.5M840.1 536.9v-3.5M862.58 536.9v-3.5M885.07 536.9v-3.5" stroke="#000" stroke-width="1.2" fill="none"/>
<path d="M761.4 508.83h6.5M761.4 480.76h6.5M761.4 452.69h6.5" stroke="#000" stroke-width="1.2" fill="none"/>
<path d="M761.4 522.87h3.5M761.4 494.79h3.5M761.4 466.72h3.5M761.4 438.65h3.5" stroke="#000" stroke-width="1.2" fill="none"/>
<text x="761.4" y="554.4" font-size="12" text-anchor="middle" fill="#000" >0</text>
<text x="783.88" y="554.4" font-size="12" text-anchor="middle" fill="#000" >5</text>
<text x="806.37" y="554.4" font-size="12" text-anchor="middle" fill="#000" >10</text>
<text x="828.86" y="554.4" font-size="12" text-anchor="middle" fill="#000" >15</text>
<text x="851.34" y="554.4" font-size="12" text-anchor="middle" fill="#000" >20</text>
<text x="873.82" y="554.4" font-size="12" text-anchor="middle" fill="#000" >25</text>
<text x="896.31" y="554.4" font-size="12" text-anchor="middle" fill="#000" >30</text>
<text x="754.5" y="541.3" font-size="12" text-anchor="end" fill="#000" >5</text>
<text x="754.5" y="513.23" font-size="12" text-anchor="end" fill="#000" >10</text>
<text x="754.5" y="485.16" font-size="12" text-anchor="end" fill="#000" >15</text>
<text x="754.5" y="457.09" font-size="12" text-anchor="end" fill="#000" >20</text>
<text x="840.3" y="568.3" font-size="12.4" text-anchor="middle" fill="#000"  textLength="89.5" lengthAdjust="spacingAndGlyphs">Temperature (K)</text>
<text transform="translate(733.5 490) rotate(-90)" font-size="12" text-anchor="middle" fill="#000">ρ(μΩ cm)</text>
</g></svg></body></html>
